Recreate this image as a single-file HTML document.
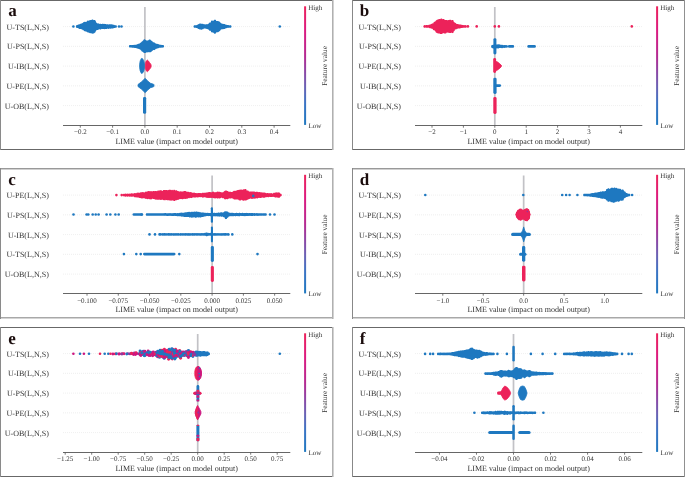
<!DOCTYPE html>
<html><head><meta charset="utf-8"><style>
html,body{margin:0;padding:0;background:#fff;}
svg{display:block;text-rendering:geometricPrecision;will-change:transform;}
</style></head><body>
<svg width="685" height="477" viewBox="0 0 685 477">
<defs><linearGradient id="cb" x1="0" y1="0" x2="0" y2="1"><stop offset="0" stop-color="#ec225a"/><stop offset="0.2" stop-color="#dc1a80"/><stop offset="0.42" stop-color="#b42a92"/><stop offset="0.55" stop-color="#8c46a5"/><stop offset="0.68" stop-color="#6a62b4"/><stop offset="0.82" stop-color="#3a74c4"/><stop offset="1" stop-color="#1e78c0"/></linearGradient></defs>
<rect width="685" height="477" fill="#fff"/>
<rect x="0" y="0" width="333" height="1" fill="#686868"/>
<rect x="0" y="149" width="333" height="1" fill="#686868"/>
<rect x="0" y="0" width="1" height="150" fill="#8a8a8a"/>
<rect x="332" y="0" width="1" height="150" fill="#b0b0b0"/>
<rect x="333" y="0" width="1" height="150" fill="#d2d2d2"/>
<text x="8.3" y="15.8" font-family="Liberation Serif" font-weight="bold" font-size="17" fill="#1a0c0c">a</text>
<text x="48.8" y="29.5" font-family="Liberation Serif" font-size="8" fill="#333" text-anchor="end">U-TS(L,N,S)</text>
<line x1="63" y1="26.6" x2="290" y2="26.6" stroke="#e2e2e2" stroke-width="0.7" stroke-dasharray="0.8,1.2"/>
<text x="48.8" y="49.25" font-family="Liberation Serif" font-size="8" fill="#333" text-anchor="end">U-PS(L,N,S)</text>
<line x1="63" y1="46.35" x2="290" y2="46.35" stroke="#e2e2e2" stroke-width="0.7" stroke-dasharray="0.8,1.2"/>
<text x="48.8" y="69.0" font-family="Liberation Serif" font-size="8" fill="#333" text-anchor="end">U-IB(L,N,S)</text>
<line x1="63" y1="66.1" x2="290" y2="66.1" stroke="#e2e2e2" stroke-width="0.7" stroke-dasharray="0.8,1.2"/>
<text x="48.8" y="88.75" font-family="Liberation Serif" font-size="8" fill="#333" text-anchor="end">U-PE(L,N,S)</text>
<line x1="63" y1="85.85" x2="290" y2="85.85" stroke="#e2e2e2" stroke-width="0.7" stroke-dasharray="0.8,1.2"/>
<text x="48.8" y="108.5" font-family="Liberation Serif" font-size="8" fill="#333" text-anchor="end">U-OB(L,N,S)</text>
<line x1="63" y1="105.6" x2="290" y2="105.6" stroke="#e2e2e2" stroke-width="0.7" stroke-dasharray="0.8,1.2"/>
<rect x="144.05" y="7" width="1.7" height="118.5" fill="#c2c2c6"/>
<line x1="63" y1="125.5" x2="290.3" y2="125.5" stroke="#666" stroke-width="1"/>
<line x1="80.3" y1="125.5" x2="80.3" y2="127.7" stroke="#555" stroke-width="0.8"/>
<text x="80.3" y="133.8" font-family="Liberation Serif" font-size="7" fill="#333" text-anchor="middle">−0.2</text>
<line x1="112.6" y1="125.5" x2="112.6" y2="127.7" stroke="#555" stroke-width="0.8"/>
<text x="112.6" y="133.8" font-family="Liberation Serif" font-size="7" fill="#333" text-anchor="middle">−0.1</text>
<line x1="144.9" y1="125.5" x2="144.9" y2="127.7" stroke="#555" stroke-width="0.8"/>
<text x="144.9" y="133.8" font-family="Liberation Serif" font-size="7" fill="#333" text-anchor="middle">0.0</text>
<line x1="177.2" y1="125.5" x2="177.2" y2="127.7" stroke="#555" stroke-width="0.8"/>
<text x="177.2" y="133.8" font-family="Liberation Serif" font-size="7" fill="#333" text-anchor="middle">0.1</text>
<line x1="209.5" y1="125.5" x2="209.5" y2="127.7" stroke="#555" stroke-width="0.8"/>
<text x="209.5" y="133.8" font-family="Liberation Serif" font-size="7" fill="#333" text-anchor="middle">0.2</text>
<line x1="241.8" y1="125.5" x2="241.8" y2="127.7" stroke="#555" stroke-width="0.8"/>
<text x="241.8" y="133.8" font-family="Liberation Serif" font-size="7" fill="#333" text-anchor="middle">0.3</text>
<line x1="274.1" y1="125.5" x2="274.1" y2="127.7" stroke="#555" stroke-width="0.8"/>
<text x="274.1" y="133.8" font-family="Liberation Serif" font-size="7" fill="#333" text-anchor="middle">0.4</text>
<text x="176.6" y="143.9" font-family="Liberation Serif" font-size="8" fill="#333" text-anchor="middle">LIME value (impact on model output)</text>
<rect x="304.1" y="6.3" width="2" height="118.6" fill="url(#cb)"/>
<text x="308.3" y="9.8" font-family="Liberation Serif" font-size="7" fill="#333">High</text>
<text x="308.4" y="127.9" font-family="Liberation Serif" font-size="7" fill="#333">Low</text>
<text transform="translate(327.3,65.9) rotate(-90)" font-family="Liberation Serif" font-size="7.35" fill="#333" text-anchor="middle">Feature value</text>
<circle cx="73.4" cy="26.5" r="1.3" fill="#1e78c0"/>
<circle cx="77.4" cy="26.5" r="1.3" fill="#1e78c0"/>
<circle cx="119" cy="26.5" r="1.3" fill="#1e78c0"/>
<circle cx="121.5" cy="26.5" r="1.3" fill="#1e78c0"/>
<circle cx="279.8" cy="26.5" r="1.3" fill="#1e78c0"/>
<polygon points="75.89,26.5 76.09,25.74 76.29,25.51 76.49,25.36 76.69,25.27 76.89,25.22 77.09,25.15 77.29,24.99 77.48,24.89 77.68,24.83 77.88,24.76 78.08,24.6 78.28,24.49 78.48,24.43 78.68,24.4 78.88,24.4 79.08,24.36 79.28,24.24 79.48,24.17 79.68,24.13 79.88,24.13 80.08,23.94 80.27,23.81 80.47,23.72 80.67,23.68 80.87,23.67 81.07,23.7 81.27,23.75 81.47,23.47 81.67,23.3 81.87,23.2 82.07,23.13 82.27,23.11 82.47,23.11 82.67,23.13 82.86,22.81 83.06,22.5 83.26,22.32 83.46,22.2 83.66,22.13 83.86,22.09 84.06,22.09 84.26,21.93 84.46,21.8 84.66,21.73 84.86,21.69 85.06,21.68 85.26,21.71 85.46,21.77 85.65,21.88 85.85,22.05 86.05,22.04 86.25,21.89 86.45,21.71 86.65,21.59 86.85,21.31 87.05,20.97 87.25,20.78 87.45,20.66 87.65,20.59 87.85,20.55 88.05,20.55 88.25,20.58 88.44,20.64 88.64,20.75 88.84,20.74 89.04,20.64 89.24,20.4 89.44,20.26 89.64,20.16 89.84,20.11 90.04,20.09 90.24,20.1 90.44,20.15 90.64,20.06 90.84,20.01 91.03,20 91.23,20.01 91.43,20 91.63,19.77 91.83,19.63 92.03,19.54 92.23,19.49 92.43,19.48 92.63,19.49 92.83,19.55 93.03,19.64 93.23,19.79 93.43,20.02 93.63,20.18 93.82,20.05 94.02,19.96 94.22,19.92 94.42,19.91 94.62,19.94 94.82,20 95.02,20.1 95.22,20.26 95.42,20.51 95.62,21.17 95.82,21.33 96.02,21.6 96.22,22.63 96.42,22.63 96.61,22.67 96.81,22.74 97.01,22.86 97.21,23.05 97.41,23.39 97.61,23.45 97.81,23.44 98.01,23.38 98.21,23.36 98.41,23.37 98.61,23.41 98.81,23.5 99.01,23.63 99.2,23.76 99.4,23.77 99.6,23.81 99.8,23.88 100,23.89 100.2,23.83 100.4,23.81 100.6,23.82 100.8,23.87 101,23.96 101.2,24.03 101.4,24 101.6,24 101.8,24.01 101.99,23.91 102.19,23.85 102.39,23.83 102.59,23.84 102.79,23.85 102.99,23.8 103.19,23.79 103.39,23.82 103.59,23.88 103.79,23.98 103.99,23.98 104.19,23.9 104.39,23.87 104.59,23.86 104.78,23.89 104.98,23.95 105.18,23.91 105.38,23.91 105.58,23.94 105.78,24.01 105.98,24.12 106.18,24.29 106.38,24.35 106.58,24.37 106.78,24.42 106.98,24.35 107.18,24.25 107.37,24.2 107.57,24.18 107.77,24.19 107.97,24.24 108.17,24.33 108.37,24.43 108.57,24.45 108.77,24.5 108.97,24.45 109.17,24.33 109.37,24.26 109.57,24.22 109.77,24.21 109.97,24.24 110.16,24.21 110.36,24.21 110.56,24.25 110.76,24.31 110.96,24.43 111.16,24.36 111.36,24.32 111.56,24.31 111.76,24.34 111.96,24.4 112.16,24.5 112.36,24.48 112.56,24.48 112.76,24.52 112.95,24.6 113.15,24.73 113.35,24.83 113.55,24.78 113.75,24.76 113.95,24.78 114.15,24.83 114.35,24.92 114.55,25.07 114.75,25.13 114.95,25.18 115.15,25.27 115.35,25.27 115.54,25.22 115.74,25.2 115.94,25.22 116.14,25.27 116.34,25.36 116.54,25.51 116.74,25.74 116.94,26.5 116.94,26.5 116.74,27.26 116.54,27.49 116.34,27.64 116.14,27.73 115.94,27.78 115.74,27.8 115.54,27.78 115.35,27.73 115.15,27.79 114.95,27.88 114.75,27.93 114.55,27.94 114.35,28 114.15,28.1 113.95,28.15 113.75,28.17 113.55,28.15 113.35,28.13 113.15,28.32 112.95,28.45 112.76,28.53 112.56,28.57 112.36,28.58 112.16,28.55 111.96,28.5 111.76,28.56 111.56,28.59 111.36,28.58 111.16,28.54 110.96,28.57 110.76,28.68 110.56,28.75 110.36,28.78 110.16,28.78 109.97,28.74 109.77,28.67 109.57,28.55 109.37,28.45 109.17,28.58 108.97,28.73 108.77,28.82 108.57,28.88 108.37,28.9 108.17,28.88 107.97,28.83 107.77,28.75 107.57,28.61 107.37,28.59 107.18,28.73 106.98,28.88 106.78,28.98 106.58,29.04 106.38,29.06 106.18,29.05 105.98,29 105.78,28.95 105.58,29.02 105.38,29.05 105.18,29.05 104.98,29.06 104.78,29.13 104.59,29.15 104.39,29.15 104.19,29.11 103.99,29.03 103.79,28.91 103.59,28.95 103.39,29.01 103.19,29.04 102.99,29.03 102.79,29.07 102.59,29.11 102.39,29.12 102.19,29.1 101.99,29.04 101.8,28.94 101.6,28.78 101.4,29.01 101.2,29.22 101,29.36 100.8,29.45 100.6,29.49 100.4,29.51 100.2,29.49 100,29.43 99.8,29.33 99.6,29.18 99.4,29.14 99.2,29.18 99.01,29.38 98.81,29.52 98.61,29.6 98.41,29.64 98.21,29.72 98.01,29.87 97.81,29.97 97.61,30.03 97.41,30.05 97.21,30.04 97.01,30.03 96.81,30.15 96.61,30.23 96.42,30.26 96.22,30.27 96.02,31.08 95.82,31.35 95.62,31.52 95.42,32.19 95.22,32.45 95.02,32.61 94.82,32.71 94.62,32.77 94.42,33.06 94.22,33.25 94.02,33.37 93.82,33.45 93.63,33.49 93.43,33.49 93.23,33.46 93.03,33.52 92.83,33.62 92.63,33.67 92.43,33.69 92.23,33.67 92.03,33.62 91.83,33.53 91.63,33.39 91.43,33.19 91.23,33.25 91.03,33.26 90.84,33.25 90.64,33.2 90.44,33.11 90.24,33.15 90.04,33.17 89.84,33.15 89.64,33.09 89.44,33 89.24,32.85 89.04,32.67 88.84,32.66 88.64,32.6 88.44,32.51 88.25,32.43 88.05,32.46 87.85,32.46 87.65,32.42 87.45,32.34 87.25,32.22 87.05,32.03 86.85,31.8 86.65,31.72 86.45,31.62 86.25,31.65 86.05,31.65 85.85,31.61 85.65,31.54 85.46,31.42 85.26,31.3 85.06,31.33 84.86,31.33 84.66,31.29 84.46,31.21 84.26,31.09 84.06,30.89 83.86,30.54 83.66,30.21 83.46,30.24 83.26,30.24 83.06,30.21 82.86,30.14 82.67,30.02 82.47,29.84 82.27,29.62 82.07,29.59 81.87,29.53 81.67,29.42 81.47,29.26 81.27,28.98 81.07,29.02 80.87,29.04 80.67,29.03 80.47,28.99 80.27,28.91 80.08,28.98 79.88,29.01 79.68,29 79.48,28.97 79.28,28.89 79.08,28.77 78.88,28.59 78.68,28.46 78.48,28.43 78.28,28.36 78.08,28.26 77.88,28.09 77.68,28.05 77.48,27.98 77.29,27.88 77.09,27.8 76.89,27.78 76.69,27.73 76.49,27.64 76.29,27.49 76.09,27.26 75.89,26.5" fill="#1e78c0"/>
<polygon points="193.51,26.4 193.71,25.74 193.91,25.51 194.11,25.36 194.31,25.27 194.51,25.22 194.71,25.2 194.91,25.22 195.11,25.23 195.31,25.2 195.5,25.2 195.7,25.24 195.9,25.31 196.1,25.21 196.3,25.15 196.5,25.12 196.7,25.12 196.9,25.16 197.1,24.93 197.29,24.77 197.49,24.66 197.69,24.6 197.89,24.58 198.09,24.39 198.29,24.21 198.49,24.09 198.69,24.02 198.89,23.99 199.09,23.98 199.28,23.74 199.48,23.6 199.68,23.5 199.88,23.45 200.08,23.43 200.28,23.45 200.48,23.5 200.68,23.58 200.88,23.72 201.08,23.73 201.27,23.7 201.47,23.7 201.67,23.73 201.87,23.8 202.07,23.92 202.27,23.84 202.47,23.78 202.67,23.76 202.87,23.77 203.06,23.81 203.26,23.89 203.46,24.02 203.66,24.23 203.86,24.35 204.06,24.28 204.26,24.25 204.46,24.25 204.66,24.28 204.86,24.36 205.05,24.47 205.25,24.57 205.45,24.38 205.65,24.25 205.85,24.17 206.05,24.13 206.25,24.12 206.45,24.15 206.65,24.21 206.85,24.3 207.04,24.26 207.24,24.25 207.44,24.27 207.64,24.19 207.84,24.03 208.04,23.93 208.24,23.86 208.44,23.84 208.64,23.85 208.83,23.3 209.03,22.97 209.23,22.79 209.43,22.67 209.63,22.59 209.83,22.56 210.03,22.55 210.23,22.58 210.43,22.54 210.63,22.39 210.82,22.29 211.02,21.1 211.22,20.84 211.42,20.68 211.62,20.58 211.82,20.52 212.02,20.5 212.22,20.51 212.42,20.55 212.62,20.63 212.81,20.77 213.01,20.95 213.21,20.84 213.41,20.78 213.61,20.75 213.81,20.32 214.01,20.02 214.21,19.84 214.41,19.73 214.6,19.66 214.8,19.63 215,19.63 215.2,19.66 215.4,19.73 215.6,19.85 215.8,20.03 216,20.34 216.2,20.95 216.4,20.98 216.59,20.92 216.79,20.9 216.99,20.9 217.19,20.94 217.39,21.02 217.59,21.04 217.79,21.01 217.99,21.01 218.19,21.04 218.38,21.11 218.58,21.22 218.78,21.4 218.98,21.62 219.18,21.59 219.38,21.6 219.58,21.64 219.78,21.71 219.98,21.84 220.18,22.03 220.37,22.38 220.57,22.92 220.77,22.93 220.97,22.99 221.17,23.08 221.37,23.22 221.57,23.45 221.77,23.86 221.97,23.81 222.17,23.8 222.36,23.82 222.56,23.77 222.76,23.75 222.96,23.76 223.16,23.81 223.36,23.89 223.56,24.03 223.76,24.07 223.96,24 224.15,23.97 224.35,23.97 224.55,24 224.75,24.07 224.95,24.18 225.15,24.36 225.35,24.6 225.55,24.62 225.75,24.68 225.95,24.76 226.14,24.72 226.34,24.72 226.54,24.76 226.74,24.83 226.94,24.94 227.14,25.12 227.34,25.11 227.54,25.02 227.74,24.97 227.94,24.96 228.13,24.98 228.33,25.03 228.53,25.12 228.73,25.2 228.93,25.23 229.13,25.29 229.33,25.39 229.53,25.5 229.73,25.36 229.92,25.27 230.12,25.22 230.32,25.2 230.52,25.22 230.72,25.27 230.92,25.36 231.12,25.51 231.32,25.74 231.52,26.4 231.52,26.6 231.32,27.26 231.12,27.49 230.92,27.64 230.72,27.73 230.52,27.78 230.32,27.8 230.12,27.78 229.92,27.73 229.73,27.64 229.53,27.52 229.33,27.68 229.13,27.78 228.93,27.84 228.73,27.87 228.53,27.86 228.33,27.86 228.13,27.91 227.94,27.93 227.74,27.91 227.54,27.86 227.34,27.77 227.14,27.8 226.94,27.98 226.74,28.1 226.54,28.17 226.34,28.2 226.14,28.2 225.95,28.27 225.75,28.36 225.55,28.42 225.35,28.43 225.15,28.64 224.95,28.81 224.75,28.93 224.55,29 224.35,29.03 224.15,29.03 223.96,29 223.76,28.93 223.56,29.04 223.36,29.17 223.16,29.26 222.96,29.31 222.76,29.32 222.56,29.3 222.36,29.24 222.17,29.15 221.97,29.14 221.77,29.09 221.57,29.26 221.37,29.49 221.17,29.63 220.97,29.72 220.77,29.78 220.57,29.79 220.37,30.48 220.18,30.83 219.98,31.02 219.78,31.15 219.58,31.22 219.38,31.26 219.18,31.27 218.98,31.49 218.78,31.79 218.58,31.97 218.38,32.08 218.19,32.15 217.99,32.18 217.79,32.18 217.59,32.15 217.39,32.17 217.19,32.25 216.99,32.29 216.79,32.3 216.59,32.36 216.4,32.44 216.2,32.47 216,33.06 215.8,33.37 215.6,33.55 215.4,33.67 215.2,33.74 215,33.77 214.8,33.77 214.6,33.74 214.41,33.67 214.21,33.56 214.01,33.38 213.81,33.08 213.61,32.79 213.41,32.76 213.21,32.69 213.01,32.58 212.81,32.41 212.62,32.3 212.42,32.38 212.22,32.42 212.02,32.43 211.82,32.41 211.62,32.35 211.42,32.25 211.22,32.09 211.02,31.84 210.82,30.89 210.63,30.79 210.43,30.69 210.23,30.76 210.03,30.79 209.83,30.78 209.63,30.75 209.43,30.67 209.23,30.55 209.03,30.37 208.83,30.04 208.64,29.51 208.44,29.52 208.24,29.49 208.04,29.43 207.84,29.33 207.64,29.17 207.44,29.1 207.24,29.12 207.04,29.11 206.85,29.07 206.65,28.98 206.45,28.85 206.25,28.8 206.05,28.79 205.85,28.75 205.65,28.67 205.45,28.54 205.25,28.43 205.05,28.47 204.86,28.49 204.66,28.46 204.46,28.45 204.26,28.45 204.06,28.42 203.86,28.44 203.66,28.83 203.46,29.04 203.26,29.17 203.06,29.25 202.87,29.29 202.67,29.3 202.47,29.28 202.27,29.29 202.07,29.47 201.87,29.58 201.67,29.66 201.47,29.69 201.27,29.69 201.08,29.66 200.88,29.59 200.68,29.48 200.48,29.54 200.28,29.59 200.08,29.6 199.88,29.58 199.68,29.53 199.48,29.44 199.28,29.29 199.09,29.12 198.89,29.12 198.69,29.08 198.49,29.01 198.29,28.89 198.09,28.71 197.89,28.47 197.69,28.45 197.49,28.38 197.29,28.28 197.1,28.12 196.9,27.99 196.7,28.03 196.5,28.03 196.3,28.01 196.1,27.94 195.9,27.84 195.7,27.76 195.5,27.8 195.31,27.8 195.11,27.76 194.91,27.78 194.71,27.8 194.51,27.78 194.31,27.73 194.11,27.64 193.91,27.49 193.71,27.26 193.51,26.6" fill="#1e78c0"/>
<polygon points="128.85,46.2 129.05,45.54 129.25,45.31 129.44,45.16 129.64,45.07 129.84,45.02 130.04,45 130.24,45.02 130.44,45.06 130.64,45.01 130.84,45 131.04,45.02 131.24,45.08 131.44,45.13 131.64,45.02 131.84,44.96 132.03,44.93 132.23,44.94 132.43,44.98 132.63,45.03 132.83,44.99 133.03,44.99 133.23,45.02 133.43,44.97 133.63,44.94 133.83,44.84 134.03,44.78 134.23,44.75 134.42,44.76 134.62,44.8 134.82,44.88 135.02,44.89 135.22,44.83 135.42,44.81 135.62,44.82 135.82,44.87 136.02,44.77 136.22,44.7 136.42,44.57 136.62,44.47 136.82,44.4 137.01,44.38 137.21,44.36 137.41,44.17 137.61,44.04 137.81,43.96 138.01,43.92 138.21,43.79 138.41,43.7 138.61,43.65 138.81,43.64 139.01,43.66 139.21,43.71 139.41,43.66 139.6,43.45 139.8,43.1 140,42.91 140.2,42.79 140.4,42.71 140.6,42.68 140.8,42.65 141,42.48 141.2,42.37 141.4,42.03 141.6,41.69 141.8,41.5 142,41.38 142.19,41.31 142.39,41.27 142.59,40.96 142.79,40.73 142.99,40.58 143.19,40.48 143.39,39.91 143.59,39.64 143.79,39.47 143.99,39.37 144.19,39.3 144.39,39.28 144.59,39.28 144.78,39.32 144.98,39.4 145.18,39.52 145.38,39.72 145.58,39.93 145.78,40.01 145.98,40.14 146.18,40.35 146.38,40.58 146.58,40.51 146.78,40.47 146.98,40.47 147.18,40.51 147.37,40.58 147.57,40.56 147.77,40.52 147.97,40.47 148.17,40.33 148.37,40.24 148.57,40.15 148.77,39.83 148.97,39.65 149.17,39.54 149.37,39.47 149.57,39.43 149.77,39.43 149.96,39.46 150.16,39.53 150.36,39.65 150.56,39.83 150.76,40.13 150.96,40.37 151.16,40.46 151.36,40.6 151.56,40.83 151.76,40.94 151.96,40.99 152.16,41.08 152.35,41.23 152.55,41.46 152.75,42.07 152.95,42.2 153.15,42.21 153.35,42.19 153.55,42.2 153.75,42.24 153.95,42.32 154.15,42.45 154.35,42.51 154.55,42.57 154.75,42.68 154.94,42.85 155.14,43.05 155.34,43.14 155.54,43.27 155.74,43.49 155.94,43.7 156.14,43.69 156.34,43.71 156.54,43.77 156.74,43.76 156.94,43.75 157.14,43.78 157.34,43.85 157.53,43.96 157.73,44.03 157.93,44.02 158.13,44.04 158.33,44.09 158.53,44.19 158.73,44.33 158.93,44.38 159.13,44.48 159.33,44.64 159.53,44.62 159.73,44.62 159.93,44.65 160.12,44.7 160.32,44.68 160.52,44.7 160.72,44.75 160.92,44.83 161.12,44.86 161.32,44.87 161.52,44.92 161.72,45.01 161.92,45.02 162.12,45 162.32,45.01 162.52,45.06 162.71,45.02 162.91,45 163.11,45.02 163.31,45.07 163.51,45.16 163.71,45.31 163.91,45.54 164.11,46.2 164.11,46.4 163.91,47.06 163.71,47.29 163.51,47.44 163.31,47.53 163.11,47.58 162.91,47.6 162.71,47.58 162.52,47.58 162.32,47.63 162.12,47.64 161.92,47.62 161.72,47.61 161.52,47.7 161.32,47.75 161.12,47.77 160.92,47.75 160.72,47.8 160.52,47.85 160.32,47.86 160.12,47.84 159.93,47.79 159.73,47.81 159.53,47.81 159.33,47.78 159.13,47.87 158.93,47.97 158.73,48.02 158.53,48.14 158.33,48.24 158.13,48.29 157.93,48.31 157.73,48.3 157.53,48.43 157.34,48.54 157.14,48.61 156.94,48.64 156.74,48.66 156.54,48.76 156.34,48.82 156.14,48.85 155.94,48.84 155.74,49.06 155.54,49.28 155.34,49.42 155.14,49.5 154.94,49.76 154.75,49.93 154.55,50.03 154.35,50.1 154.15,50.13 153.95,50.12 153.75,50.09 153.55,50.08 153.35,50.08 153.15,50.13 152.95,50.33 152.75,50.46 152.55,50.64 152.35,50.88 152.16,51.02 151.96,51.12 151.76,51.17 151.56,51.65 151.36,51.87 151.16,52.01 150.96,52.1 150.76,52.15 150.56,52.17 150.36,52.15 150.16,52.27 149.96,52.34 149.77,52.37 149.57,52.37 149.37,52.34 149.17,52.27 148.97,52.15 148.77,52.04 148.57,52.2 148.37,52.31 148.17,52.37 147.97,52.39 147.77,52.39 147.57,52.35 147.37,52.3 147.18,52.37 146.98,52.4 146.78,52.4 146.58,52.37 146.38,52.3 146.18,52.49 145.98,52.69 145.78,52.82 145.58,52.9 145.38,52.95 145.18,52.96 144.98,52.93 144.78,53.01 144.59,53.05 144.39,53.05 144.19,53.03 143.99,52.96 143.79,52.86 143.59,52.69 143.39,52.42 143.19,52.19 142.99,52.09 142.79,51.94 142.59,51.71 142.39,51.63 142.19,51.6 142,51.52 141.8,51.4 141.6,51.21 141.4,50.87 141.2,50.6 141,50.49 140.8,50.31 140.6,50.03 140.4,49.64 140.2,49.57 140,49.45 139.8,49.34 139.6,49.31 139.41,49.25 139.21,49.15 139.01,48.98 138.81,48.9 138.61,48.89 138.41,48.84 138.21,48.75 138.01,48.69 137.81,48.65 137.61,48.57 137.41,48.45 137.21,48.43 137.01,48.44 136.82,48.41 136.62,48.35 136.42,48.24 136.22,48.08 136.02,48.01 135.82,47.89 135.62,47.89 135.42,47.91 135.22,47.88 135.02,47.83 134.82,47.81 134.62,47.89 134.42,47.93 134.23,47.94 134.03,47.91 133.83,47.85 133.63,47.75 133.43,47.73 133.23,47.72 133.03,47.76 132.83,47.75 132.63,47.72 132.43,47.64 132.23,47.66 132.03,47.67 131.84,47.64 131.64,47.58 131.44,47.47 131.24,47.52 131.04,47.58 130.84,47.6 130.64,47.59 130.44,47.54 130.24,47.58 130.04,47.6 129.84,47.58 129.64,47.53 129.44,47.44 129.25,47.29 129.05,47.06 128.85,46.4" fill="#1e78c0"/>
<polygon points="139.6,64.4 140.2,60.9 141.4,58.4 142.6,58.7 143.8,60.9 144.5,63.9 144.5,67.9 143.8,70.9 142.6,73.1 141.4,73.4 140.2,70.9 139.6,67.4" fill="#1e78c0" stroke="#1e78c0" stroke-width="0.8" stroke-linejoin="round"/>
<polygon points="145.4,63.4 146.2,61.1 147.4,60.1 148.5,61.1 149.5,62.5 150.5,63.7 151.1,64.9 151.1,66.9 150.5,68.1 149.5,69.3 148.5,70.7 147.4,71.7 146.2,70.7 145.4,68.4" fill="#ec225a" stroke="#ec225a" stroke-width="0.8" stroke-linejoin="round"/>
<polygon points="138,84.5 141.6,81.7 145.2,78.3 148,81.3 150.5,83.3 153.5,84.2 154,84.7 154,86.3 153.5,86.8 150.5,87.7 148,89.7 145.2,92.7 141.6,89.3 138,86.5" fill="#1e78c0" stroke="#1e78c0" stroke-width="0.8" stroke-linejoin="round"/>
<rect x="143" y="96.9" width="3.2" height="16.9" rx="1.4" fill="#1e78c0"/>
<rect x="352" y="0" width="333" height="1" fill="#686868"/>
<rect x="352" y="149" width="333" height="1" fill="#686868"/>
<rect x="352" y="0" width="1" height="150" fill="#888"/>
<rect x="684" y="0" width="1" height="150" fill="#909090"/>
<text x="359.7" y="15.8" font-family="Liberation Serif" font-weight="bold" font-size="17" fill="#1a0c0c">b</text>
<text x="400.8" y="29.5" font-family="Liberation Serif" font-size="8" fill="#333" text-anchor="end">U-TS(L,N,S)</text>
<line x1="415" y1="26.6" x2="642" y2="26.6" stroke="#e2e2e2" stroke-width="0.7" stroke-dasharray="0.8,1.2"/>
<text x="400.8" y="49.25" font-family="Liberation Serif" font-size="8" fill="#333" text-anchor="end">U-PS(L,N,S)</text>
<line x1="415" y1="46.35" x2="642" y2="46.35" stroke="#e2e2e2" stroke-width="0.7" stroke-dasharray="0.8,1.2"/>
<text x="400.8" y="69.0" font-family="Liberation Serif" font-size="8" fill="#333" text-anchor="end">U-PE(L,N,S)</text>
<line x1="415" y1="66.1" x2="642" y2="66.1" stroke="#e2e2e2" stroke-width="0.7" stroke-dasharray="0.8,1.2"/>
<text x="400.8" y="88.75" font-family="Liberation Serif" font-size="8" fill="#333" text-anchor="end">U-IB(L,N,S)</text>
<line x1="415" y1="85.85" x2="642" y2="85.85" stroke="#e2e2e2" stroke-width="0.7" stroke-dasharray="0.8,1.2"/>
<text x="400.8" y="108.5" font-family="Liberation Serif" font-size="8" fill="#333" text-anchor="end">U-OB(L,N,S)</text>
<line x1="415" y1="105.6" x2="642" y2="105.6" stroke="#e2e2e2" stroke-width="0.7" stroke-dasharray="0.8,1.2"/>
<rect x="493.95" y="7" width="1.7" height="118.5" fill="#c2c2c6"/>
<line x1="415" y1="125.5" x2="642.3" y2="125.5" stroke="#666" stroke-width="1"/>
<line x1="432" y1="125.5" x2="432" y2="127.7" stroke="#555" stroke-width="0.8"/>
<text x="432" y="133.8" font-family="Liberation Serif" font-size="7" fill="#333" text-anchor="middle">−2</text>
<line x1="463.4" y1="125.5" x2="463.4" y2="127.7" stroke="#555" stroke-width="0.8"/>
<text x="463.4" y="133.8" font-family="Liberation Serif" font-size="7" fill="#333" text-anchor="middle">−1</text>
<line x1="494.8" y1="125.5" x2="494.8" y2="127.7" stroke="#555" stroke-width="0.8"/>
<text x="494.8" y="133.8" font-family="Liberation Serif" font-size="7" fill="#333" text-anchor="middle">0</text>
<line x1="526.2" y1="125.5" x2="526.2" y2="127.7" stroke="#555" stroke-width="0.8"/>
<text x="526.2" y="133.8" font-family="Liberation Serif" font-size="7" fill="#333" text-anchor="middle">1</text>
<line x1="557.6" y1="125.5" x2="557.6" y2="127.7" stroke="#555" stroke-width="0.8"/>
<text x="557.6" y="133.8" font-family="Liberation Serif" font-size="7" fill="#333" text-anchor="middle">2</text>
<line x1="589" y1="125.5" x2="589" y2="127.7" stroke="#555" stroke-width="0.8"/>
<text x="589" y="133.8" font-family="Liberation Serif" font-size="7" fill="#333" text-anchor="middle">3</text>
<line x1="620.4" y1="125.5" x2="620.4" y2="127.7" stroke="#555" stroke-width="0.8"/>
<text x="620.4" y="133.8" font-family="Liberation Serif" font-size="7" fill="#333" text-anchor="middle">4</text>
<text x="528.6" y="143.9" font-family="Liberation Serif" font-size="8" fill="#333" text-anchor="middle">LIME value (impact on model output)</text>
<rect x="656.1" y="6.3" width="2" height="118.6" fill="url(#cb)"/>
<text x="660.3" y="9.8" font-family="Liberation Serif" font-size="7" fill="#333">High</text>
<text x="660.4" y="127.9" font-family="Liberation Serif" font-size="7" fill="#333">Low</text>
<text transform="translate(679.3,65.9) rotate(-90)" font-family="Liberation Serif" font-size="7.35" fill="#333" text-anchor="middle">Feature value</text>
<polygon points="423.34,26.3 423.54,25.64 423.74,25.41 423.94,25.26 424.14,25.17 424.34,25.12 424.54,25.1 424.74,25.12 424.94,25.17 425.14,25.26 425.34,25.35 425.54,25.23 425.74,25.15 425.94,25.11 426.14,25.08 426.34,25.04 426.54,25.02 426.74,25.04 426.94,25.1 427.14,25.18 427.34,25.12 427.53,25.1 427.73,25.11 427.93,25.16 428.13,25.14 428.33,24.99 428.53,24.89 428.73,24.83 428.93,24.81 429.13,24.82 429.33,24.75 429.53,24.64 429.73,24.57 429.93,24.54 430.13,24.5 430.33,24.45 430.53,24.44 430.73,24.33 430.93,24.11 431.13,23.98 431.33,23.89 431.53,23.85 431.73,23.83 431.93,23.74 432.13,23.56 432.33,23.45 432.53,23.38 432.73,23.34 432.93,23.35 433.13,23.38 433.33,23.26 433.53,22.59 433.73,22.15 433.93,21.94 434.13,21.81 434.33,21.72 434.53,21.67 434.73,21.66 434.93,21.66 435.13,21.39 435.33,21.23 435.53,21.13 435.73,20.74 435.93,20.51 436.13,20.37 436.33,20.28 436.53,20.18 436.73,19.96 436.93,19.82 437.13,19.74 437.33,19.69 437.53,19.68 437.73,19.5 437.93,19.33 438.13,19.23 438.33,19.17 438.53,19.14 438.73,19.15 438.93,19.17 439.13,19.07 439.32,19.01 439.52,18.98 439.72,18.99 439.92,19.04 440.12,19.12 440.32,19.14 440.52,18.87 440.72,18.7 440.92,18.6 441.12,18.53 441.32,18.51 441.52,18.51 441.72,18.55 441.92,18.63 442.12,18.76 442.32,18.96 442.52,19.32 442.72,19.2 442.92,19.09 443.12,19.02 443.32,18.98 443.52,18.98 443.72,19.01 443.92,19.08 444.12,19.2 444.32,19.38 444.52,19.69 444.72,19.83 444.92,19.85 445.12,19.92 445.32,20.03 445.52,20.05 445.72,20.05 445.92,20.07 446.12,20.03 446.32,19.97 446.52,19.95 446.72,19.96 446.92,20.01 447.12,20.1 447.32,20.23 447.52,20.38 447.72,20.22 447.92,20.12 448.12,20.06 448.32,20.03 448.52,20.04 448.72,20.09 448.92,20.15 449.12,19.99 449.32,19.89 449.52,19.83 449.72,19.8 449.92,19.81 450.12,19.84 450.32,19.81 450.52,19.82 450.72,19.87 450.91,19.95 451.11,20.08 451.31,20.29 451.51,20.46 451.71,20.25 451.91,20.12 452.11,20.04 452.31,20 452.51,19.99 452.71,20.01 452.91,20.07 453.11,20.17 453.31,20.33 453.51,20.59 453.71,21.76 453.91,21.8 454.11,21.89 454.31,22.02 454.51,22.22 454.71,22.63 454.91,22.71 455.11,22.73 455.31,22.8 455.51,22.9 455.71,23.06 455.91,23.32 456.11,23.58 456.31,23.64 456.51,23.75 456.71,23.89 456.91,23.99 457.11,24.12 457.31,24.06 457.51,24.03 457.71,24.04 457.91,24.08 458.11,24.16 458.31,24.15 458.51,24.18 458.71,24.24 458.91,24.35 459.11,24.43 459.31,24.38 459.51,24.37 459.71,24.39 459.91,24.44 460.11,24.52 460.31,24.48 460.51,24.48 460.71,24.51 460.91,24.58 461.11,24.69 461.31,24.67 461.51,24.64 461.71,24.65 461.91,24.7 462.11,24.78 462.31,24.91 462.5,24.96 462.7,24.95 462.9,24.98 463.1,25.04 463.3,25.1 463.5,25.1 463.7,25.14 463.9,25.21 464.1,25.23 464.3,25.15 464.5,25.11 464.7,25.1 464.9,25.13 465.1,25.19 465.3,25.17 465.5,25.12 465.7,25.1 465.9,25.12 466.1,25.17 466.3,25.26 466.5,25.41 466.7,25.64 466.9,26.3 466.9,26.5 466.7,27.16 466.5,27.39 466.3,27.54 466.1,27.63 465.9,27.68 465.7,27.7 465.5,27.68 465.3,27.63 465.1,27.65 464.9,27.71 464.7,27.74 464.5,27.74 464.3,27.69 464.1,27.62 463.9,27.74 463.7,27.81 463.5,27.84 463.3,27.84 463.1,27.8 462.9,27.86 462.7,27.89 462.5,27.88 462.31,27.84 462.11,27.9 461.91,27.98 461.71,28.02 461.51,28.03 461.31,28.01 461.11,28.11 460.91,28.22 460.71,28.29 460.51,28.32 460.31,28.32 460.11,28.31 459.91,28.4 459.71,28.46 459.51,28.48 459.31,28.47 459.11,28.42 458.91,28.33 458.71,28.44 458.51,28.5 458.31,28.52 458.11,28.59 457.91,28.67 457.71,28.72 457.51,28.72 457.31,28.7 457.11,28.64 456.91,28.79 456.71,29.06 456.51,29.23 456.31,29.33 456.11,29.4 455.91,29.42 455.71,29.42 455.51,29.37 455.31,29.39 455.11,29.45 454.91,29.48 454.71,30.51 454.51,30.92 454.31,31.12 454.11,31.26 453.91,31.34 453.71,31.38 453.51,32.53 453.31,32.78 453.11,32.94 452.91,33.05 452.71,33.1 452.51,33.13 452.31,33.12 452.11,33.08 451.91,32.99 451.71,32.86 451.51,32.65 451.31,32.6 451.11,32.81 450.91,32.94 450.72,33.02 450.52,33.06 450.32,33.07 450.12,33.05 449.92,33.03 449.72,33.04 449.52,33.01 449.32,32.95 449.12,32.85 448.92,32.7 448.72,32.78 448.52,32.83 448.32,32.84 448.12,32.81 447.92,32.75 447.72,32.65 447.52,32.56 447.32,32.51 447.12,32.42 446.92,32.28 446.72,32.81 446.52,33.09 446.32,33.26 446.12,33.36 445.92,33.43 445.72,33.46 445.52,33.45 445.32,33.41 445.12,33.46 444.92,33.53 444.72,33.56 444.52,33.55 444.32,33.51 444.12,33.44 443.92,33.31 443.72,33.12 443.52,32.96 443.32,33.22 443.12,33.38 442.92,33.48 442.72,33.54 442.52,33.56 442.32,33.55 442.12,33.75 441.92,33.88 441.72,33.96 441.52,34 441.32,34 441.12,33.98 440.92,34.04 440.72,34.08 440.52,34.08 440.32,34.05 440.12,33.99 439.92,33.88 439.72,33.71 439.52,33.43 439.32,33.29 439.13,33.42 438.93,33.5 438.73,33.54 438.53,33.55 438.33,33.52 438.13,33.46 437.93,33.35 437.73,33.21 437.53,33.23 437.33,33.22 437.13,33.17 436.93,33.09 436.73,32.95 436.53,32.73 436.33,32.64 436.13,32.55 435.93,32.4 435.73,32.17 435.53,31.43 435.33,31.33 435.13,31.17 434.93,30.9 434.73,30.39 434.53,30.38 434.33,30.33 434.13,30.25 433.93,30.24 433.73,30.22 433.53,30.17 433.33,30.07 433.13,29.92 432.93,29.68 432.73,28.91 432.53,28.88 432.33,28.81 432.13,28.69 431.93,28.66 431.73,28.68 431.53,28.67 431.33,28.62 431.13,28.54 430.93,28.4 430.73,28.27 430.53,28.29 430.33,28.28 430.13,28.28 429.93,28.29 429.73,28.26 429.53,28.19 429.33,28.08 429.13,27.9 428.93,27.79 428.73,27.77 428.53,27.71 428.33,27.61 428.13,27.69 427.93,27.78 427.73,27.82 427.53,27.84 427.34,27.82 427.14,27.76 426.94,27.67 426.74,27.73 426.54,27.75 426.34,27.74 426.14,27.7 425.94,27.69 425.74,27.65 425.54,27.57 425.34,27.45 425.14,27.54 424.94,27.63 424.74,27.68 424.54,27.7 424.34,27.68 424.14,27.63 423.94,27.54 423.74,27.39 423.54,27.16 423.34,26.5" fill="#ec225a"/>
<circle cx="467.9" cy="26.4" r="1.3" fill="#ec225a"/>
<circle cx="476.7" cy="26.4" r="1.3" fill="#ec225a"/>
<circle cx="494.8" cy="26.4" r="1.3" fill="#ec225a"/>
<circle cx="498.9" cy="26.4" r="1.3" fill="#ec225a"/>
<circle cx="631.8" cy="26.4" r="1.3" fill="#ec225a"/>
<rect x="493.4" y="38.2" width="3" height="16.3" rx="1.4" fill="#1e78c0"/>
<polygon points="491.17,46.11 491.37,45.45 491.56,45.22 491.76,45.07 491.96,44.98 492.16,44.92 492.35,44.91 492.55,44.92 492.75,44.87 492.95,44.77 493.15,44.7 493.34,44.67 493.54,44.68 493.74,44.72 493.94,44.62 494.13,44.45 494.33,44.34 494.53,44.27 494.73,44.24 494.92,44.24 495.12,44.27 495.32,44.34 495.52,44.46 495.72,44.58 495.91,44.54 496.11,44.53 496.31,44.55 496.51,44.53 496.7,44.49 496.9,44.49 497.1,44.53 497.3,44.53 497.49,44.39 497.69,44.29 497.89,44.24 498.09,44.22 498.29,44.24 498.48,44.29 498.68,44.37 498.88,44.5 499.08,44.42 499.27,44.37 499.47,44.36 499.67,44.38 499.87,44.44 500.06,44.54 500.26,44.69 500.46,44.78 500.66,44.75 500.86,44.76 501.05,44.79 501.25,44.87 501.45,44.91 501.65,44.82 501.84,44.78 502.04,44.77 502.24,44.79 502.44,44.84 502.63,44.94 502.83,45.05 503.03,45.04 503.23,45.05 503.43,45.11 503.62,45.2 503.82,45.22 504.02,45.14 504.22,45.1 504.41,45.09 504.61,45.11 504.81,45.1 505.01,45.05 505.2,45.02 505.4,45.04 505.6,45.08 505.8,45.17 506,45.3 506.19,45.25 506.39,45.16 506.59,45.11 506.79,45.1 506.98,45.12 507.18,45.17 507.38,45.26 507.58,45.41 507.77,45.64 507.97,46.3 507.97,46.5 507.77,47.16 507.58,47.39 507.38,47.54 507.18,47.63 506.98,47.68 506.79,47.7 506.59,47.69 506.39,47.64 506.19,47.55 506,47.55 505.8,47.68 505.6,47.76 505.4,47.81 505.2,47.82 505.01,47.8 504.81,47.87 504.61,47.93 504.41,47.95 504.22,47.94 504.02,47.9 503.82,47.82 503.62,47.75 503.43,47.84 503.23,47.89 503.03,47.91 502.83,47.9 502.63,48.05 502.44,48.14 502.24,48.2 502.04,48.22 501.84,48.21 501.65,48.16 501.45,48.08 501.25,47.95 501.05,48.01 500.86,48.05 500.66,48.05 500.46,48.02 500.26,47.96 500.06,47.85 499.87,47.91 499.67,47.97 499.47,47.99 499.27,47.98 499.08,48.05 498.88,48.26 498.68,48.4 498.48,48.49 498.29,48.53 498.09,48.55 497.89,48.53 497.69,48.48 497.49,48.38 497.3,48.24 497.1,48.27 496.9,48.3 496.7,48.32 496.51,48.42 496.31,48.47 496.11,48.5 495.91,48.48 495.72,48.44 495.52,48.35 495.32,48.22 495.12,48.23 494.92,48.27 494.73,48.27 494.53,48.24 494.33,48.17 494.13,48.34 493.94,48.46 493.74,48.54 493.54,48.57 493.34,48.58 493.15,48.55 492.95,48.48 492.75,48.38 492.55,48.21 492.35,48.1 492.16,48.08 491.96,48.03 491.76,47.94 491.56,47.79 491.37,47.56 491.17,46.9" fill="#1e78c0"/>
<rect x="507.9" y="45.1" width="6.3" height="2.6" rx="1.3" fill="#1e78c0"/>
<rect x="527.3" y="45.1" width="8.6" height="2.6" rx="1.3" fill="#1e78c0"/>
<rect x="493.2" y="58.1" width="2.9" height="14.8" rx="1.4" fill="#ec225a"/>
<polygon points="495.5,61.4 496.8,61.6 498.3,62.6 499.8,63.8 501.3,65.3 501.3,66.7 499.8,68.2 498.3,69.4 496.8,70.4 495.5,70.6" fill="#ec225a" stroke="#ec225a" stroke-width="0.8" stroke-linejoin="round"/>
<rect x="493.3" y="77.7" width="3.3" height="16.3" rx="1.4" fill="#1e78c0"/>
<rect x="494" y="84.2" width="7.1" height="2.8" rx="1.4" fill="#1e78c0"/>
<rect x="493.3" y="97.1" width="3.3" height="16.9" rx="1.4" fill="#ec225a"/>
<rect x="0" y="168" width="333" height="1" fill="#999"/>
<rect x="0" y="169" width="333" height="1" fill="#d0d0d0"/>
<rect x="0" y="317" width="333" height="1" fill="#a8a8a8"/>
<rect x="0" y="318" width="333" height="1" fill="#d4d4d4"/>
<rect x="0" y="168" width="1" height="151" fill="#8a8a8a"/>
<rect x="332" y="168" width="1" height="151" fill="#b0b0b0"/>
<rect x="333" y="168" width="1" height="151" fill="#d2d2d2"/>
<text x="8.3" y="185.20000000000002" font-family="Liberation Serif" font-weight="bold" font-size="17" fill="#1a0c0c">c</text>
<text x="48.8" y="198.0" font-family="Liberation Serif" font-size="8" fill="#333" text-anchor="end">U-PE(L,N,S)</text>
<line x1="63" y1="195.1" x2="290" y2="195.1" stroke="#e2e2e2" stroke-width="0.7" stroke-dasharray="0.8,1.2"/>
<text x="48.8" y="217.75" font-family="Liberation Serif" font-size="8" fill="#333" text-anchor="end">U-PS(L,N,S)</text>
<line x1="63" y1="214.85" x2="290" y2="214.85" stroke="#e2e2e2" stroke-width="0.7" stroke-dasharray="0.8,1.2"/>
<text x="48.8" y="237.5" font-family="Liberation Serif" font-size="8" fill="#333" text-anchor="end">U-IB(L,N,S)</text>
<line x1="63" y1="234.6" x2="290" y2="234.6" stroke="#e2e2e2" stroke-width="0.7" stroke-dasharray="0.8,1.2"/>
<text x="48.8" y="257.25" font-family="Liberation Serif" font-size="8" fill="#333" text-anchor="end">U-TS(L,N,S)</text>
<line x1="63" y1="254.35" x2="290" y2="254.35" stroke="#e2e2e2" stroke-width="0.7" stroke-dasharray="0.8,1.2"/>
<text x="48.8" y="277.0" font-family="Liberation Serif" font-size="8" fill="#333" text-anchor="end">U-OB(L,N,S)</text>
<line x1="63" y1="274.1" x2="290" y2="274.1" stroke="#e2e2e2" stroke-width="0.7" stroke-dasharray="0.8,1.2"/>
<rect x="211.25" y="175.5" width="1.7" height="118.0" fill="#c2c2c6"/>
<line x1="63" y1="293.5" x2="290.3" y2="293.5" stroke="#666" stroke-width="1"/>
<line x1="87" y1="293.5" x2="87" y2="295.7" stroke="#555" stroke-width="0.8"/>
<text x="87" y="302.8" font-family="Liberation Serif" font-size="7" fill="#333" text-anchor="middle">−0.100</text>
<line x1="118.27" y1="293.5" x2="118.27" y2="295.7" stroke="#555" stroke-width="0.8"/>
<text x="118.27" y="302.8" font-family="Liberation Serif" font-size="7" fill="#333" text-anchor="middle">−0.075</text>
<line x1="149.55" y1="293.5" x2="149.55" y2="295.7" stroke="#555" stroke-width="0.8"/>
<text x="149.55" y="302.8" font-family="Liberation Serif" font-size="7" fill="#333" text-anchor="middle">−0.050</text>
<line x1="180.82" y1="293.5" x2="180.82" y2="295.7" stroke="#555" stroke-width="0.8"/>
<text x="180.82" y="302.8" font-family="Liberation Serif" font-size="7" fill="#333" text-anchor="middle">−0.025</text>
<line x1="212.1" y1="293.5" x2="212.1" y2="295.7" stroke="#555" stroke-width="0.8"/>
<text x="212.1" y="302.8" font-family="Liberation Serif" font-size="7" fill="#333" text-anchor="middle">0.000</text>
<line x1="243.38" y1="293.5" x2="243.38" y2="295.7" stroke="#555" stroke-width="0.8"/>
<text x="243.38" y="302.8" font-family="Liberation Serif" font-size="7" fill="#333" text-anchor="middle">0.025</text>
<line x1="274.65" y1="293.5" x2="274.65" y2="295.7" stroke="#555" stroke-width="0.8"/>
<text x="274.65" y="302.8" font-family="Liberation Serif" font-size="7" fill="#333" text-anchor="middle">0.050</text>
<text x="176.6" y="312.4" font-family="Liberation Serif" font-size="8" fill="#333" text-anchor="middle">LIME value (impact on model output)</text>
<rect x="304.1" y="174.8" width="2" height="118.6" fill="url(#cb)"/>
<text x="308.3" y="178.3" font-family="Liberation Serif" font-size="7" fill="#333">High</text>
<text x="308.4" y="296.4" font-family="Liberation Serif" font-size="7" fill="#333">Low</text>
<text transform="translate(327.3,234.4) rotate(-90)" font-family="Liberation Serif" font-size="7.35" fill="#333" text-anchor="middle">Feature value</text>
<circle cx="116.4" cy="195.1" r="1.3" fill="#ec225a"/>
<circle cx="121.7" cy="195.1" r="1.3" fill="#ec225a"/>
<circle cx="125.5" cy="195.1" r="1.3" fill="#ec225a"/>
<circle cx="127.5" cy="195.1" r="1.3" fill="#ec225a"/>
<circle cx="129.5" cy="195.1" r="1.3" fill="#ec225a"/>
<circle cx="131.5" cy="195.1" r="1.3" fill="#ec225a"/>
<polygon points="122.73,195.1 122.93,194.34 123.13,194.11 123.33,193.96 123.53,193.87 123.73,193.82 123.93,193.8 124.13,193.82 124.33,193.87 124.53,193.96 124.73,193.88 124.93,193.82 125.13,193.8 125.33,193.81 125.53,193.82 125.73,193.8 125.93,193.81 126.13,193.86 126.33,193.95 126.52,193.89 126.72,193.79 126.92,193.74 127.12,193.72 127.32,193.73 127.52,193.73 127.72,193.71 127.92,193.73 128.12,193.79 128.32,193.88 128.52,193.79 128.72,193.7 128.92,193.65 129.12,193.64 129.32,193.66 129.52,193.71 129.72,193.78 129.92,193.77 130.12,193.79 130.32,193.78 130.52,193.67 130.72,193.61 130.92,193.58 131.12,193.56 131.32,193.44 131.52,193.37 131.72,193.33 131.92,193.33 132.12,193.36 132.32,193.43 132.52,193.54 132.72,193.54 132.92,193.56 133.12,193.61 133.32,193.67 133.52,193.45 133.72,193.31 133.92,193.22 134.12,193.17 134.32,193.14 134.52,193.06 134.72,193.02 134.91,193.02 135.11,193.05 135.31,193.11 135.51,193.22 135.71,193.23 135.91,193.18 136.11,193.17 136.31,193.16 136.51,192.94 136.71,192.8 136.91,192.71 137.11,192.66 137.31,192.64 137.51,192.65 137.71,192.57 137.91,192.53 138.11,192.53 138.31,192.56 138.51,192.63 138.71,192.74 138.91,192.84 139.11,192.87 139.31,192.84 139.51,192.78 139.71,192.76 139.91,192.77 140.11,192.56 140.31,192.38 140.51,192.27 140.71,192.2 140.91,192.16 141.11,192.17 141.31,192.2 141.51,192.23 141.71,192.17 141.91,192.15 142.11,192.16 142.31,192.13 142.51,192.07 142.71,192.05 142.91,192.06 143.11,192.1 143.3,192.19 143.5,192.28 143.7,192.25 143.9,192.25 144.1,192.28 144.3,192.35 144.5,192.47 144.7,192.4 144.9,192.23 145.1,191.94 145.3,191.77 145.5,191.66 145.7,191.59 145.9,191.56 146.1,191.57 146.3,191.6 146.5,191.68 146.7,191.8 146.9,191.67 147.1,191.49 147.3,191.38 147.5,191.32 147.7,191.29 147.9,191.29 148.1,191.22 148.3,191.07 148.5,190.97 148.7,190.92 148.9,190.9 149.1,190.91 149.3,190.96 149.5,191.04 149.7,191.18 149.9,191.4 150.1,191.41 150.3,191.24 150.5,191.13 150.7,191.06 150.9,191.03 151.1,191.03 151.3,191.07 151.49,191.14 151.69,191.26 151.89,191.45 152.09,191.49 152.29,191.48 152.49,191.37 152.69,191.22 152.89,191.12 153.09,191.06 153.29,191.01 153.49,190.94 153.69,190.91 153.89,190.91 154.09,190.94 154.29,191.01 154.49,191.13 154.69,191.17 154.89,191.09 155.09,191.06 155.29,191.01 155.49,190.94 155.69,190.9 155.89,190.9 156.09,190.94 156.29,191.01 156.49,191.12 156.69,191.26 156.89,191.21 157.09,191.2 157.29,190.92 157.49,190.73 157.69,190.61 157.89,190.53 158.09,190.5 158.29,190.49 158.49,190.52 158.69,190.59 158.89,190.7 159.09,190.75 159.29,190.56 159.49,190.44 159.69,190.36 159.88,190.32 160.08,190.32 160.28,190.32 160.48,190.23 160.68,190.17 160.88,190.15 161.08,190.17 161.28,190.22 161.48,190.31 161.68,190.45 161.88,190.67 162.08,190.91 162.28,190.95 162.48,190.98 162.68,190.79 162.88,190.4 163.08,190.19 163.28,190.06 163.48,189.98 163.68,189.94 163.88,189.93 164.08,189.96 164.28,190.02 164.48,190.1 164.68,190.04 164.88,190.02 165.08,190.03 165.28,190.07 165.48,190.15 165.68,190.06 165.88,189.96 166.08,189.9 166.28,189.88 166.48,189.89 166.68,189.93 166.88,190.02 167.08,190.15 167.28,190.34 167.48,190.22 167.68,190.15 167.88,190.12 168.08,190.11 168.27,190.14 168.47,190.11 168.67,189.94 168.87,189.82 169.07,189.75 169.27,189.72 169.47,189.72 169.67,189.76 169.87,189.78 170.07,189.75 170.27,189.75 170.47,189.79 170.67,189.86 170.87,189.98 171.07,190.16 171.27,190.13 171.47,189.99 171.67,189.9 171.87,189.85 172.07,189.83 172.27,189.85 172.47,189.91 172.67,190 172.87,190.15 173.07,190.38 173.27,190.17 173.47,189.97 173.67,189.84 173.87,189.76 174.07,189.71 174.27,189.7 174.47,189.73 174.67,189.79 174.87,189.89 175.07,190.05 175.27,190.31 175.47,190.65 175.67,190.47 175.87,190.36 176.07,190.29 176.27,190.26 176.46,190.26 176.66,190.29 176.86,190.37 177.06,190.49 177.26,190.67 177.46,190.99 177.66,190.97 177.86,190.94 178.06,190.96 178.26,191 178.46,191.09 178.66,191.22 178.86,191.43 179.06,191.44 179.26,191.4 179.46,191.4 179.66,191.43 179.86,191.5 180.06,191.56 180.26,191.43 180.46,191.34 180.66,191.3 180.86,191.28 181.06,191.3 181.26,191.36 181.46,191.46 181.66,191.61 181.86,191.68 182.06,191.61 182.26,191.57 182.46,191.47 182.66,191.42 182.86,191.39 183.06,191.41 183.26,191.45 183.46,191.32 183.66,191.19 183.86,191.1 184.06,191.05 184.26,191.04 184.46,191.06 184.66,191.03 184.85,190.97 185.05,190.94 185.25,190.94 185.45,190.98 185.65,191.05 185.85,191.18 186.05,191.37 186.25,191.5 186.45,191.57 186.65,191.68 186.85,191.66 187.05,191.65 187.25,191.68 187.45,191.74 187.65,191.84 187.85,191.78 188.05,191.73 188.25,191.72 188.45,191.75 188.65,191.81 188.85,191.91 189.05,192.07 189.25,192.29 189.45,192.28 189.65,192.13 189.85,192.04 190.05,191.99 190.25,191.97 190.45,191.99 190.65,192.04 190.85,192.13 191.05,192.2 191.25,192.2 191.45,192.24 191.65,192.31 191.85,192.43 192.05,192.6 192.25,192.63 192.45,192.69 192.65,192.8 192.85,192.78 193.05,192.77 193.24,192.8 193.44,192.76 193.64,192.66 193.84,192.6 194.04,192.57 194.24,192.58 194.44,192.63 194.64,192.71 194.84,192.84 195.04,192.95 195.24,192.93 195.44,192.93 195.64,192.97 195.84,193.03 196.04,193.03 196.24,193.06 196.44,193.12 196.64,193.24 196.84,193.34 197.04,193.27 197.24,193.24 197.44,193.24 197.64,193.12 197.84,193.02 198.04,192.95 198.24,192.93 198.44,192.93 198.64,192.97 198.84,193.05 199.04,193.02 199.24,193.02 199.44,193.06 199.64,193.09 199.84,193.03 200.04,193 200.24,193.01 200.44,193.05 200.64,193.13 200.84,193.11 201.04,193.11 201.24,193.14 201.43,193.21 201.63,193.18 201.83,193.03 202.03,192.94 202.23,192.87 202.43,192.77 202.63,192.7 202.83,192.68 203.03,192.69 203.23,192.73 203.43,192.81 203.63,192.94 203.83,192.81 204.03,192.73 204.23,192.68 204.43,192.67 204.63,192.7 204.83,192.76 205.03,192.83 205.23,192.78 205.43,192.77 205.63,192.72 205.83,192.58 206.03,192.49 206.23,192.44 206.43,192.42 206.63,192.44 206.83,192.49 207.03,192.59 207.23,192.55 207.43,192.4 207.63,192.3 207.83,192.24 208.03,192.22 208.23,192.23 208.43,192.17 208.63,192.07 208.83,192.02 209.03,192 209.23,192.02 209.43,192.07 209.63,192.02 209.82,191.98 210.02,191.98 210.22,192.01 210.42,192.08 210.62,192.19 210.82,192.37 211.02,192.36 211.22,192.37 211.42,192.35 211.62,192.24 211.82,192.16 212.02,192.13 212.22,191.98 212.42,191.81 212.62,191.7 212.82,191.64 213.02,191.61 213.22,191.61 213.42,191.65 213.62,191.73 213.82,191.85 214.02,192.04 214.22,192.22 214.42,192.26 214.62,192.3 214.82,192.23 215.02,192.2 215.22,192.2 215.42,192.21 215.62,192.15 215.82,192.11 216.02,192.12 216.22,192.15 216.42,192.16 216.62,191.92 216.82,191.77 217.02,191.68 217.22,191.62 217.42,191.6 217.62,191.62 217.82,191.67 218.01,191.76 218.21,191.71 218.41,191.69 218.61,191.71 218.81,191.76 219.01,191.85 219.21,191.82 219.41,191.8 219.61,191.81 219.81,191.85 220.01,191.93 220.21,192.06 220.41,192.14 220.61,192.12 220.81,192.09 221.01,192.09 221.21,192.13 221.41,192.2 221.61,192.33 221.81,192.51 222.01,192.44 222.21,192.42 222.41,192.36 222.61,192.26 222.81,192.21 223.01,192.18 223.21,192.2 223.41,191.95 223.61,191.68 223.81,191.51 224.01,191.41 224.21,191.25 224.41,191.05 224.61,190.92 224.81,190.84 225.01,190.8 225.21,190.75 225.41,190.6 225.61,190.51 225.81,190.46 226.01,190.44 226.21,190.46 226.4,190.51 226.6,190.6 226.8,190.74 227,190.97 227.2,191.03 227.4,191.01 227.6,191.03 227.8,191.08 228,191.18 228.2,191.33 228.4,191.56 228.6,191.7 228.8,191.82 229,191.8 229.2,191.75 229.4,191.74 229.6,191.76 229.8,191.82 230,191.77 230.2,191.73 230.4,191.72 230.6,191.74 230.8,191.8 231,191.87 231.2,191.9 231.4,191.96 231.6,192.07 231.8,192.02 232,191.91 232.2,191.84 232.4,191.8 232.6,191.8 232.8,191.82 233,191.79 233.2,191.34 233.4,191.1 233.6,190.95 233.8,190.86 234,190.8 234.2,190.79 234.4,190.8 234.6,190.85 234.79,190.94 234.99,190.96 235.19,190.97 235.39,190.9 235.59,190.71 235.79,190.59 235.99,190.51 236.19,190.47 236.39,190.47 236.59,190.5 236.79,190.57 236.99,190.59 237.19,190.27 237.39,190.09 237.59,189.97 237.79,189.9 237.99,189.87 238.19,189.87 238.39,189.9 238.59,189.97 238.79,190.09 238.99,190.15 239.19,189.92 239.39,189.75 239.59,189.64 239.79,189.57 239.99,189.54 240.19,189.54 240.39,189.58 240.59,189.65 240.79,189.63 240.99,189.57 241.19,189.53 241.39,189.54 241.59,189.57 241.79,189.65 241.99,189.77 242.19,189.8 242.39,189.76 242.59,189.75 242.79,189.78 242.98,189.69 243.18,189.46 243.38,189.31 243.58,189.22 243.78,189.16 243.98,189.14 244.18,189.16 244.38,189.21 244.58,189.3 244.78,189.24 244.98,189.13 245.18,189.07 245.38,189.05 245.58,189.05 245.78,189.1 245.98,189.18 246.18,189.3 246.38,189.5 246.58,189.88 246.78,190.65 246.98,190.53 247.18,190.45 247.38,190.41 247.58,190.4 247.78,190.43 247.98,190.49 248.18,190.59 248.38,190.76 248.58,191.03 248.78,191.27 248.98,191.42 249.18,191.56 249.38,191.59 249.58,191.63 249.78,191.57 249.98,191.55 250.18,191.56 250.38,191.61 250.58,191.57 250.78,191.5 250.98,191.47 251.18,191.47 251.37,191.5 251.57,191.48 251.77,191.41 251.97,191.38 252.17,191.38 252.37,191.41 252.57,191.48 252.77,191.54 252.97,191.46 253.17,191.41 253.37,191.4 253.57,191.43 253.77,191.48 253.97,191.49 254.17,191.48 254.37,191.5 254.57,191.55 254.77,191.65 254.97,191.8 255.17,191.91 255.37,191.94 255.57,191.92 255.77,191.8 255.97,191.72 256.17,191.69 256.37,191.69 256.57,191.72 256.77,191.78 256.97,191.75 257.17,191.73 257.37,191.75 257.57,191.79 257.77,191.88 257.97,192.02 258.17,192.1 258.37,192.15 258.57,192.16 258.77,192.06 258.97,192 259.17,191.98 259.37,191.99 259.57,192.03 259.76,192.11 259.96,192.25 260.16,192.19 260.36,192.14 260.56,192.13 260.76,192.16 260.96,192.21 261.16,192.25 261.36,192.26 261.56,192.31 261.76,192.4 261.96,192.54 262.16,192.48 262.36,192.42 262.56,192.41 262.76,192.42 262.96,192.47 263.16,192.52 263.36,192.49 263.56,192.5 263.76,192.55 263.96,192.63 264.16,192.6 264.36,192.56 264.56,192.55 264.76,192.57 264.96,192.64 265.16,192.74 265.36,192.77 265.56,192.81 265.76,192.89 265.96,193.02 266.16,193.15 266.36,193.18 266.56,193.19 266.76,193.05 266.96,192.95 267.16,192.9 267.36,192.88 267.56,192.9 267.76,192.95 267.95,193.04 268.15,193.19 268.35,193.32 268.55,193.21 268.75,193.14 268.95,193.1 269.15,193.1 269.35,193.13 269.55,193.2 269.75,193.31 269.95,193.26 270.15,193.18 270.35,193.13 270.55,193.11 270.75,193.13 270.95,193.19 271.15,193.16 271.35,193.12 271.55,193.12 271.75,193.15 271.95,193.22 272.15,193.33 272.35,193.51 272.55,193.63 272.75,193.6 272.95,193.52 273.15,193.3 273.35,193.02 273.55,192.85 273.75,192.74 273.95,192.67 274.15,192.65 274.35,192.65 274.55,192.69 274.75,192.76 274.95,192.89 275.15,192.83 275.35,192.62 275.55,192.49 275.75,192.4 275.95,192.35 276.15,192.34 276.34,192.36 276.54,192.41 276.74,192.51 276.94,192.58 277.14,192.5 277.34,192.45 277.54,192.45 277.74,192.45 277.94,192.38 278.14,192.35 278.34,192.35 278.54,192.38 278.74,192.46 278.94,192.52 279.14,192.51 279.34,192.54 279.54,192.6 279.74,192.71 279.94,192.88 280.14,193.16 280.34,193.65 280.54,193.64 280.74,193.65 280.94,193.71 281.14,193.8 281.34,193.94 281.54,194.17 281.74,194.84 281.74,195.21 281.54,195.88 281.34,196.11 281.14,196.25 280.94,196.35 280.74,196.4 280.54,196.41 280.34,196.4 280.14,197.11 279.94,197.39 279.74,197.56 279.54,197.67 279.34,197.74 279.14,197.76 278.94,197.76 278.74,197.73 278.54,197.8 278.34,197.84 278.14,197.84 277.94,197.81 277.74,197.74 277.54,197.62 277.34,197.45 277.14,197.41 276.94,197.33 276.74,197.34 276.54,197.43 276.34,197.49 276.15,197.51 275.95,197.53 275.75,197.6 275.55,197.62 275.35,197.62 275.15,197.58 274.95,197.5 274.75,197.37 274.55,197.17 274.35,197.12 274.15,197.12 273.95,197.09 273.75,197.03 273.55,196.92 273.35,196.75 273.15,196.7 272.95,196.66 272.75,196.79 272.55,196.9 272.35,196.97 272.15,197.01 271.95,197 271.75,196.97 271.55,196.96 271.35,196.95 271.15,196.92 270.95,196.92 270.75,196.97 270.55,196.99 270.35,196.98 270.15,196.93 269.95,196.84 269.75,196.83 269.55,196.95 269.35,197.02 269.15,197.05 268.95,197.08 268.75,197.17 268.55,197.22 268.35,197.24 268.15,197.23 267.95,197.18 267.76,197.08 267.56,197.12 267.36,197.13 267.16,197.12 266.96,197.06 266.76,197.08 266.56,197.19 266.36,197.26 266.16,197.29 265.96,197.29 265.76,197.26 265.56,197.18 265.36,197.35 265.16,197.51 264.96,197.61 264.76,197.67 264.56,197.7 264.36,197.69 264.16,197.65 263.96,197.64 263.76,197.73 263.56,197.77 263.36,197.78 263.16,197.75 262.96,197.69 262.76,197.59 262.56,197.49 262.36,197.47 262.16,197.42 261.96,197.51 261.76,197.65 261.56,197.74 261.36,197.79 261.16,197.88 260.96,197.98 260.76,198.03 260.56,198.05 260.36,198.04 260.16,198 259.96,197.91 259.76,197.78 259.57,197.84 259.37,197.89 259.17,197.9 258.97,197.87 258.77,197.82 258.57,197.9 258.37,197.98 258.17,198.03 257.97,198.17 257.77,198.31 257.57,198.4 257.37,198.44 257.17,198.46 256.97,198.43 256.77,198.38 256.57,198.28 256.37,198.13 256.17,198.08 255.97,198.3 255.77,198.45 255.57,198.55 255.37,198.61 255.17,198.63 254.97,198.62 254.77,198.61 254.57,198.71 254.37,198.77 254.17,198.79 253.97,198.78 253.77,198.73 253.57,198.64 253.37,198.54 253.17,198.53 252.97,198.55 252.77,198.73 252.57,198.85 252.37,198.92 252.17,198.96 251.97,198.96 251.77,198.92 251.57,198.85 251.37,198.74 251.18,198.71 250.98,198.71 250.78,198.68 250.58,198.61 250.38,198.49 250.18,198.45 249.98,198.68 249.78,198.86 249.58,198.97 249.38,199.03 249.18,199.06 248.98,199.06 248.78,199.02 248.58,199.13 248.38,199.4 248.18,199.57 247.98,199.67 247.78,199.74 247.58,199.76 247.38,199.76 247.18,199.75 246.98,200.03 246.78,200.2 246.58,200.31 246.38,200.37 246.18,200.4 245.98,200.49 245.78,200.57 245.58,200.61 245.38,200.62 245.18,200.59 244.98,200.53 244.78,200.42 244.58,200.29 244.38,200.38 244.18,200.43 243.98,200.54 243.78,200.63 243.58,200.68 243.38,200.69 243.18,200.67 242.98,200.61 242.79,200.51 242.59,200.38 242.39,200.37 242.19,200.33 241.99,200.26 241.79,200.13 241.59,199.93 241.39,199.79 241.19,199.87 240.99,200.2 240.79,200.39 240.59,200.51 240.39,200.58 240.19,200.62 239.99,200.62 239.79,200.59 239.59,200.53 239.39,200.41 239.19,200.31 238.99,200.26 238.79,200.18 238.59,200.04 238.39,199.83 238.19,199.56 237.99,199.56 237.79,199.53 237.59,199.46 237.39,199.39 237.19,199.39 236.99,199.35 236.79,199.42 236.59,199.49 236.39,199.51 236.19,199.51 235.99,199.47 235.79,199.4 235.59,199.39 235.39,199.47 235.19,199.51 234.99,199.52 234.79,199.49 234.6,199.43 234.4,199.4 234.2,199.41 234,199.39 233.8,199.34 233.6,199.24 233.4,199.09 233.2,198.85 233,198.45 232.8,198.53 232.6,198.56 232.4,198.56 232.2,198.53 232,198.46 231.8,198.34 231.6,198.2 231.4,198.31 231.2,198.37 231,198.4 230.8,198.4 230.6,198.41 230.4,198.44 230.2,198.43 230,198.39 229.8,198.35 229.6,198.41 229.4,198.43 229.2,198.42 229,198.37 228.8,198.55 228.6,198.67 228.4,198.74 228.2,198.95 228,199.1 227.8,199.2 227.6,199.25 227.4,199.27 227.2,199.26 227,199.21 226.8,199.12 226.6,199.02 226.4,199.11 226.21,199.17 226.01,199.18 225.81,199.2 225.61,199.31 225.41,199.37 225.21,199.39 225.01,199.39 224.81,199.34 224.61,199.26 224.41,199.14 224.21,198.93 224.01,198.56 223.81,198.08 223.61,198.22 223.41,198.31 223.21,198.36 223.01,198.37 222.81,198.35 222.61,198.29 222.41,198.2 222.21,198.05 222.01,197.8 221.81,197.44 221.61,197.63 221.41,197.75 221.21,197.83 221.01,197.96 220.81,198.07 220.61,198.14 220.41,198.18 220.21,198.21 220.01,198.35 219.81,198.43 219.61,198.47 219.41,198.48 219.21,198.46 219.01,198.4 218.81,198.29 218.61,198.18 218.41,198.19 218.21,198.27 218.01,198.41 217.82,198.5 217.62,198.55 217.42,198.57 217.22,198.55 217.02,198.49 216.82,198.4 216.62,198.25 216.42,198.01 216.22,198 216.02,198.04 215.82,198.2 215.62,198.31 215.42,198.38 215.22,198.42 215.02,198.42 214.82,198.38 214.62,198.31 214.42,198.25 214.22,198.29 214.02,198.29 213.82,198.26 213.62,198.2 213.42,198.09 213.22,198.06 213.02,198.06 212.82,198.04 212.62,197.97 212.42,197.86 212.22,197.73 212.02,197.73 211.82,197.83 211.62,197.96 211.42,198.04 211.22,198.08 211.02,198.09 210.82,198.06 210.62,198 210.42,197.89 210.22,197.73 210.02,197.53 209.82,197.74 209.63,197.88 209.43,197.97 209.23,198.02 209.03,198.04 208.83,198.02 208.63,197.97 208.43,197.88 208.23,197.84 208.03,197.85 207.83,197.83 207.63,197.87 207.43,197.92 207.23,197.93 207.03,197.91 206.83,197.85 206.63,197.82 206.43,197.84 206.23,197.82 206.03,197.77 205.83,197.68 205.63,197.54 205.43,197.32 205.23,197.27 205.03,197.22 204.83,197.22 204.63,197.28 204.43,197.3 204.23,197.29 204.03,197.25 203.83,197.18 203.63,197.38 203.43,197.51 203.23,197.59 203.03,197.63 202.83,197.64 202.63,197.62 202.43,197.55 202.23,197.48 202.03,197.43 201.83,197.34 201.63,197.19 201.43,196.96 201.24,196.97 201.04,197 200.84,197.03 200.64,197.16 200.44,197.24 200.24,197.28 200.04,197.29 199.84,197.26 199.64,197.2 199.44,197.09 199.24,196.93 199.04,197.12 198.84,197.25 198.64,197.33 198.44,197.37 198.24,197.38 198.04,197.35 197.84,197.31 197.64,197.38 197.44,197.41 197.24,197.41 197.04,197.38 196.84,197.31 196.64,197.2 196.44,197.3 196.24,197.37 196.04,197.4 195.84,197.49 195.64,197.56 195.44,197.6 195.24,197.61 195.04,197.58 194.84,197.51 194.64,197.49 194.44,197.57 194.24,197.62 194.04,197.63 193.84,197.6 193.64,197.54 193.44,197.44 193.24,197.3 193.05,197.33 192.85,197.45 192.65,197.62 192.45,197.72 192.25,197.79 192.05,197.81 191.85,197.89 191.65,198.01 191.45,198.09 191.25,198.12 191.05,198.13 190.85,198.1 190.65,198.03 190.45,197.92 190.25,197.75 190.05,197.67 189.85,197.85 189.65,198.02 189.45,198.13 189.25,198.2 189.05,198.23 188.85,198.23 188.65,198.19 188.45,198.12 188.25,198 188.05,198.16 187.85,198.42 187.65,198.58 187.45,198.69 187.25,198.75 187.05,198.77 186.85,198.77 186.65,198.72 186.45,198.64 186.25,198.71 186.05,198.75 185.85,198.84 185.65,198.96 185.45,199.04 185.25,199.08 185.05,199.08 184.85,199.05 184.66,198.98 184.46,198.87 184.26,198.78 184.06,198.77 183.86,198.72 183.66,198.88 183.46,199.01 183.26,199.1 183.06,199.14 182.86,199.19 182.66,199.26 182.46,199.29 182.26,199.29 182.06,199.26 181.86,199.19 181.66,199.07 181.46,198.96 181.26,199.05 181.06,199.11 180.86,199.13 180.66,199.12 180.46,199.11 180.26,199.12 180.06,199.11 179.86,199.07 179.66,199.14 179.46,199.17 179.26,199.17 179.06,199.13 178.86,199.44 178.66,199.65 178.46,199.78 178.26,199.87 178.06,199.91 177.86,199.93 177.66,199.9 177.46,199.85 177.26,199.86 177.06,200.05 176.86,200.17 176.66,200.24 176.46,200.27 176.27,200.28 176.07,200.24 175.87,200.23 175.67,200.35 175.47,200.42 175.27,200.47 175.07,200.74 174.87,200.9 174.67,201 174.47,201.06 174.27,201.08 174.07,201.07 173.87,201.03 173.67,200.95 173.47,200.82 173.27,200.61 173.07,200.22 172.87,200.3 172.67,200.45 172.47,200.54 172.27,200.59 172.07,200.61 171.87,200.6 171.67,200.55 171.47,200.58 171.27,200.66 171.07,200.69 170.87,200.7 170.67,200.67 170.47,200.6 170.27,200.49 170.07,200.32 169.87,200.36 169.67,200.43 169.47,200.46 169.27,200.46 169.07,200.43 168.87,200.36 168.67,200.25 168.47,200.18 168.27,200.25 168.08,200.28 167.88,200.28 167.68,200.24 167.48,200.17 167.28,200.14 167.08,200.16 166.88,200.15 166.68,200.11 166.48,200.03 166.28,199.92 166.08,199.89 165.88,199.83 165.68,200.02 165.48,200.15 165.28,200.23 165.08,200.27 164.88,200.28 164.68,200.26 164.48,200.2 164.28,200.1 164.08,200.14 163.88,200.17 163.68,200.16 163.48,200.11 163.28,200.03 163.08,199.9 162.88,199.7 162.68,199.5 162.48,199.64 162.28,199.72 162.08,199.77 161.88,199.78 161.68,199.76 161.48,199.86 161.28,199.95 161.08,200 160.88,200.01 160.68,199.99 160.48,199.94 160.28,199.85 160.08,199.7 159.88,199.6 159.69,199.71 159.49,199.79 159.29,199.83 159.09,199.83 158.89,199.8 158.69,199.74 158.49,199.72 158.29,199.75 158.09,199.74 157.89,199.7 157.69,199.63 157.49,199.72 157.29,199.78 157.09,199.8 156.89,199.79 156.69,199.75 156.49,199.66 156.29,199.54 156.09,199.61 155.89,199.64 155.69,199.64 155.49,199.61 155.29,199.53 155.09,199.44 154.89,199.41 154.69,199.33 154.49,199.21 154.29,199.02 154.09,199.07 153.89,199.11 153.69,199.11 153.49,199.08 153.29,199.01 153.09,198.89 152.89,198.75 152.69,198.72 152.49,198.79 152.29,198.81 152.09,198.8 151.89,199 151.69,199.18 151.49,199.31 151.3,199.38 151.1,199.42 150.9,199.42 150.7,199.39 150.5,199.32 150.3,199.27 150.1,199.32 149.9,199.33 149.7,199.31 149.5,199.26 149.3,199.16 149.1,199.01 148.9,198.78 148.7,198.74 148.5,198.93 148.3,199.05 148.1,199.13 147.9,199.17 147.7,199.17 147.5,199.14 147.3,199.08 147.1,198.97 146.9,198.84 146.7,198.82 146.5,198.84 146.3,198.91 146.1,198.95 145.9,198.96 145.7,198.93 145.5,198.86 145.3,198.75 145.1,198.58 144.9,198.53 144.7,198.44 144.5,198.3 144.3,198.27 144.1,198.34 143.9,198.37 143.7,198.37 143.5,198.33 143.3,198.26 143.11,198.15 142.91,198.2 142.71,198.28 142.51,198.41 142.31,198.5 142.11,198.54 141.91,198.55 141.71,198.53 141.51,198.47 141.31,198.37 141.11,198.22 140.91,198.17 140.71,198.13 140.51,198.06 140.31,197.95 140.11,197.94 139.91,197.99 139.71,198 139.51,197.97 139.31,197.92 139.11,197.82 138.91,197.67 138.71,197.66 138.51,197.62 138.31,197.54 138.11,197.42 137.91,197.42 137.71,197.38 137.51,197.43 137.31,197.45 137.11,197.43 136.91,197.38 136.71,197.29 136.51,197.33 136.31,197.39 136.11,197.41 135.91,197.4 135.71,197.36 135.51,197.28 135.31,197.16 135.11,197.23 134.91,197.25 134.72,197.25 134.52,197.21 134.32,197.13 134.12,197.01 133.92,196.81 133.72,196.71 133.52,196.58 133.32,196.53 133.12,196.62 132.92,196.67 132.72,196.68 132.52,196.66 132.32,196.61 132.12,196.55 131.92,196.58 131.72,196.58 131.52,196.54 131.32,196.6 131.12,196.63 130.92,196.64 130.72,196.61 130.52,196.54 130.32,196.43 130.12,196.41 129.92,196.43 129.72,196.42 129.52,196.45 129.32,196.51 129.12,196.53 128.92,196.51 128.72,196.46 128.52,196.37 128.32,196.25 128.12,196.34 127.92,196.39 127.72,196.41 127.52,196.41 127.32,196.45 127.12,196.46 126.92,196.44 126.72,196.39 126.52,196.29 126.33,196.25 126.13,196.34 125.93,196.39 125.73,196.4 125.53,196.38 125.33,196.39 125.13,196.4 124.93,196.38 124.73,196.32 124.53,196.24 124.33,196.33 124.13,196.38 123.93,196.4 123.73,196.38 123.53,196.33 123.33,196.24 123.13,196.09 122.93,195.86 122.73,195.1" fill="#ec225a"/>
<circle cx="253.3" cy="195.9" r="1.3" fill="#1e78c0"/>
<circle cx="73.5" cy="214.5" r="1.3" fill="#1e78c0"/>
<circle cx="86.6" cy="214.5" r="1.3" fill="#1e78c0"/>
<circle cx="88.3" cy="214.5" r="1.3" fill="#1e78c0"/>
<circle cx="92.7" cy="214.5" r="1.3" fill="#1e78c0"/>
<circle cx="95.7" cy="214.5" r="1.3" fill="#1e78c0"/>
<circle cx="98.6" cy="214.5" r="1.3" fill="#1e78c0"/>
<circle cx="106.6" cy="214.5" r="1.3" fill="#1e78c0"/>
<circle cx="110.3" cy="214.5" r="1.3" fill="#1e78c0"/>
<circle cx="115.4" cy="214.5" r="1.3" fill="#1e78c0"/>
<circle cx="118.7" cy="214.5" r="1.3" fill="#1e78c0"/>
<circle cx="141.5" cy="214.5" r="1.3" fill="#1e78c0"/>
<circle cx="270" cy="214.5" r="1.3" fill="#1e78c0"/>
<circle cx="274.5" cy="214.5" r="1.3" fill="#1e78c0"/>
<rect x="132.5" y="213.2" width="10.7" height="2.6" rx="1.3" fill="#1e78c0"/>
<polygon points="145.75,214.4 145.95,213.74 146.15,213.51 146.35,213.36 146.55,213.27 146.75,213.22 146.95,213.2 147.15,213.22 147.35,213.22 147.55,213.2 147.75,213.21 147.95,213.26 148.15,213.35 148.35,213.32 148.55,213.24 148.75,213.21 148.95,213.2 149.15,213.23 149.35,213.3 149.55,213.24 149.75,213.2 149.95,213.2 150.15,213.24 150.35,213.27 150.55,213.22 150.75,213.2 150.95,213.21 151.15,213.26 151.35,213.32 151.55,213.24 151.75,213.21 151.95,213.2 152.15,213.23 152.35,213.3 152.55,213.27 152.75,213.22 152.95,213.2 153.15,213.22 153.35,213.23 153.55,213.2 153.75,213.21 153.95,213.25 154.15,213.28 154.35,213.22 154.55,213.2 154.75,213.21 154.95,213.26 155.15,213.35 155.35,213.27 155.55,213.22 155.75,213.2 155.95,213.21 156.15,213.26 156.35,213.32 156.55,213.25 156.75,213.21 156.95,213.2 157.15,213.23 157.35,213.3 157.55,213.21 157.75,213.15 157.95,213.13 158.14,213.15 158.34,213.2 158.54,213.23 158.74,213.2 158.94,213.21 159.14,213.25 159.34,213.2 159.54,213.18 159.74,213.19 159.94,213.24 160.14,213.32 160.34,213.35 160.54,213.26 160.74,213.21 160.94,213.2 161.14,213.22 161.34,213.27 161.54,213.33 161.74,213.25 161.94,213.21 162.14,213.2 162.34,213.23 162.54,213.29 162.74,213.22 162.94,213.19 163.14,213.19 163.34,213.23 163.54,213.21 163.74,213.13 163.94,213.1 164.14,213.1 164.34,213.13 164.54,213.14 164.74,213.09 164.94,213.07 165.14,213.09 165.34,213.11 165.54,213.08 165.74,213.07 165.94,213.11 166.14,213.17 166.34,213.29 166.54,213.23 166.74,213.2 166.94,213.21 167.14,213.25 167.34,213.24 167.54,213.2 167.74,213.2 167.94,213.24 168.14,213.18 168.34,213.13 168.54,213.12 168.74,213.14 168.94,213.2 169.14,213.3 169.34,213.26 169.54,213.14 169.74,213.07 169.94,213.03 170.14,213.03 170.34,213.06 170.54,213.13 170.74,213.16 170.94,213.21 171.13,213.29 171.33,213.27 171.53,213.21 171.73,213.18 171.93,213.18 172.13,213.22 172.33,213.3 172.53,213.19 172.73,213.13 172.93,213.1 173.13,213.11 173.33,213.15 173.53,213.15 173.73,213.08 173.93,213.05 174.13,213.06 174.33,213.03 174.53,212.95 174.73,212.92 174.93,212.91 175.13,212.94 175.33,213 175.53,212.96 175.73,212.96 175.93,213 176.13,213.07 176.33,213.18 176.53,213.19 176.73,213.18 176.93,213.21 177.13,213.15 177.33,213.09 177.53,213.06 177.73,213.07 177.93,213.11 178.13,213.19 178.33,213.21 178.53,213.11 178.73,213.05 178.93,213.03 179.13,213.04 179.33,213.07 179.53,212.94 179.73,212.87 179.93,212.83 180.13,212.82 180.33,212.85 180.53,212.85 180.73,212.85 180.93,212.77 181.13,212.67 181.33,212.62 181.53,212.59 181.73,212.61 181.93,212.65 182.13,212.74 182.33,212.78 182.53,212.72 182.73,212.7 182.93,212.71 183.13,212.75 183.33,212.8 183.53,212.77 183.73,212.77 183.93,212.68 184.12,212.6 184.32,212.56 184.52,212.55 184.72,212.58 184.92,212.57 185.12,212.44 185.32,212.36 185.52,212.31 185.72,212.3 185.92,212.33 186.12,212.35 186.32,212.24 186.52,212.17 186.72,212.13 186.92,212.14 187.12,212.17 187.32,212.08 187.52,212.02 187.72,212 187.92,212.01 188.12,211.96 188.32,211.89 188.52,211.86 188.72,211.86 188.92,211.9 189.12,211.97 189.32,211.91 189.52,211.84 189.72,211.8 189.92,211.79 190.12,211.82 190.32,211.89 190.52,212 190.72,212.16 190.92,212.17 191.12,211.98 191.32,211.86 191.52,211.78 191.72,211.74 191.92,211.73 192.12,211.76 192.32,211.83 192.52,211.89 192.72,211.85 192.92,211.85 193.12,211.88 193.32,211.87 193.52,211.79 193.72,211.74 193.92,211.71 194.12,211.63 194.32,211.58 194.52,211.57 194.72,211.59 194.92,211.65 195.12,211.75 195.32,211.72 195.52,211.68 195.72,211.69 195.92,211.57 196.12,211.49 196.32,211.44 196.52,211.43 196.72,211.46 196.91,211.52 197.11,211.62 197.31,211.79 197.51,211.82 197.71,211.83 197.91,211.88 198.11,211.97 198.31,211.88 198.51,211.82 198.71,211.79 198.91,211.8 199.11,211.84 199.31,211.92 199.51,212.05 199.71,212.18 199.91,212.22 200.11,212.2 200.31,212.15 200.51,212.14 200.71,212.16 200.91,212.22 201.11,212.32 201.31,212.47 201.51,212.66 201.71,212.61 201.91,212.6 202.11,212.62 202.31,212.52 202.51,212.43 202.71,212.38 202.91,212.36 203.11,212.38 203.31,212.43 203.51,212.53 203.71,212.62 203.91,212.64 204.11,212.69 204.31,212.7 204.51,212.67 204.71,212.68 204.91,212.71 205.11,212.79 205.31,212.91 205.51,212.83 205.71,212.78 205.91,212.77 206.11,212.79 206.31,212.84 206.51,212.93 206.71,212.99 206.91,212.98 207.11,212.97 207.31,212.87 207.51,212.82 207.71,212.8 207.91,212.82 208.11,212.87 208.31,212.96 208.51,212.98 208.71,212.98 208.91,213.02 209.11,212.99 209.31,212.92 209.51,212.89 209.71,212.9 209.9,212.94 210.1,213.01 210.3,213.03 210.5,212.99 210.7,212.99 210.9,213.03 211.1,213.1 211.3,212.95 211.5,212.83 211.7,212.76 211.9,212.72 212.1,212.72 212.3,212.75 212.5,212.82 212.7,212.93 212.9,212.9 213.1,212.91 213.3,212.93 213.5,212.82 213.7,212.75 213.9,212.72 214.1,212.72 214.3,212.76 214.5,212.83 214.7,212.83 214.9,212.82 215.1,212.85 215.3,212.91 215.5,213.02 215.7,213.01 215.9,212.99 216.1,212.99 216.3,212.9 216.5,212.85 216.7,212.83 216.9,212.85 217.1,212.9 217.3,212.86 217.5,212.82 217.7,212.81 217.9,212.69 218.1,212.6 218.3,212.55 218.5,212.53 218.7,212.55 218.9,212.61 219.1,212.7 219.3,212.79 219.5,212.78 219.7,212.8 219.9,212.61 220.1,212.48 220.3,212.4 220.5,212.36 220.7,212.35 220.9,212.38 221.1,212.31 221.3,212.27 221.5,212.25 221.7,212.28 221.9,212.34 222.1,212.44 222.3,212.51 222.5,212.43 222.7,212.39 222.89,212.38 223.09,212.4 223.29,212.29 223.49,212.22 223.69,212.19 223.89,211.94 224.09,211.69 224.29,211.53 224.49,211.43 224.69,211.38 224.89,211.35 225.09,211.37 225.29,211.41 225.49,211.32 225.69,211.26 225.89,211.23 226.09,211.24 226.29,211.28 226.49,211.36 226.69,211.49 226.89,211.57 227.09,211.62 227.29,211.58 227.49,211.56 227.69,211.59 227.89,211.65 228.09,211.75 228.29,211.91 228.49,212.16 228.69,212.47 228.89,212.46 229.09,212.49 229.29,212.56 229.49,212.67 229.69,212.76 229.89,212.79 230.09,212.86 230.29,212.97 230.49,212.88 230.69,212.83 230.89,212.81 231.09,212.83 231.29,212.88 231.49,212.83 231.69,212.81 231.89,212.83 232.09,212.88 232.29,212.81 232.49,212.77 232.69,212.77 232.89,212.8 233.09,212.87 233.29,212.98 233.49,212.97 233.69,212.96 233.89,212.99 234.09,213.05 234.29,213.16 234.49,213.15 234.69,213.09 234.89,213.07 235.09,213.04 235.29,212.95 235.49,212.9 235.69,212.89 235.88,212.91 236.08,212.94 236.28,212.86 236.48,212.82 236.68,212.81 236.88,212.83 237.08,212.9 237.28,212.96 237.48,212.93 237.68,212.94 237.88,212.98 238.08,213.05 238.28,213.18 238.48,213.1 238.68,213.04 238.88,212.97 239.08,212.87 239.28,212.8 239.48,212.78 239.68,212.78 239.88,212.82 240.08,212.9 240.28,213 240.48,213 240.68,213.02 240.88,213.09 241.08,213.19 241.28,213.07 241.48,212.97 241.68,212.92 241.88,212.9 242.08,212.91 242.28,212.87 242.48,212.83 242.68,212.82 242.88,212.85 243.08,212.91 243.28,213.01 243.48,213.18 243.68,213.11 243.88,213.07 244.08,213.07 244.28,213.01 244.48,212.93 244.68,212.89 244.88,212.88 245.08,212.9 245.28,212.96 245.48,213 245.68,212.96 245.88,212.96 246.08,212.99 246.28,213 246.48,212.92 246.68,212.87 246.88,212.86 247.08,212.89 247.28,212.95 247.48,213.05 247.68,213.1 247.88,213.12 248.08,213.18 248.28,213.18 248.48,213.07 248.67,213 248.87,212.97 249.07,212.96 249.27,212.92 249.47,212.91 249.67,212.94 249.87,213 250.07,213.1 250.27,213.16 250.47,213.05 250.67,212.98 250.87,212.95 251.07,212.96 251.27,212.99 251.47,213.07 251.67,213.08 251.87,213.05 252.07,213.06 252.27,213.08 252.47,213.02 252.67,212.99 252.87,213 253.07,213.04 253.27,213.12 253.47,213.22 253.67,213.18 253.87,213.18 254.07,213.14 254.27,213.08 254.47,213.06 254.67,213.07 254.87,213.11 255.07,213.2 255.27,213.33 255.47,213.26 255.67,213.21 255.87,213.2 256.07,213.22 256.27,213.22 256.47,213.12 256.67,213.07 256.87,213.05 257.07,213.07 257.27,213.12 257.47,213.2 257.67,213.18 257.87,213.19 258.07,213.24 258.27,213.23 258.47,213.2 258.67,213.21 258.87,213.25 259.07,213.33 259.27,213.32 259.47,213.22 259.67,213.16 259.87,213.14 260.07,213.15 260.27,213.16 260.47,213.13 260.67,213.13 260.87,213.17 261.07,213.24 261.27,213.2 261.47,213.18 261.66,213.19 261.86,213.23 262.06,213.32 262.26,213.44 262.46,213.32 262.66,213.24 262.86,213.2 263.06,213.2 263.26,213.23 263.46,213.29 263.66,213.24 263.86,213.21 264.06,213.2 264.26,213.23 264.46,213.3 264.66,213.24 264.86,213.2 265.06,213.19 265.26,213.22 265.46,213.22 265.66,213.2 265.86,213.22 266.06,213.27 266.26,213.36 266.46,213.51 266.66,213.74 266.86,214.4 266.86,214.6 266.66,215.26 266.46,215.49 266.26,215.64 266.06,215.73 265.86,215.78 265.66,215.8 265.46,215.78 265.26,215.77 265.06,215.8 264.86,215.79 264.66,215.75 264.46,215.73 264.26,215.79 264.06,215.83 263.86,215.82 263.66,215.79 263.46,215.74 263.26,215.8 263.06,215.83 262.86,215.83 262.66,215.79 262.46,215.71 262.26,215.59 262.06,215.66 261.86,215.74 261.66,215.79 261.47,215.8 261.27,215.78 261.07,215.76 260.87,215.83 260.67,215.87 260.47,215.87 260.27,215.84 260.07,215.79 259.87,215.8 259.67,215.77 259.47,215.71 259.27,215.64 259.07,215.77 258.87,215.85 258.67,215.89 258.47,215.9 258.27,215.87 258.07,215.87 257.87,215.92 257.67,215.94 257.47,215.92 257.27,215.86 257.07,215.87 256.87,215.88 256.67,215.86 256.47,215.81 256.27,215.75 256.07,215.81 255.87,215.83 255.67,215.81 255.47,215.76 255.27,215.67 255.07,215.81 254.87,215.89 254.67,215.94 254.47,215.95 254.27,215.93 254.07,215.87 253.87,215.82 253.67,215.82 253.47,215.78 253.27,215.82 253.07,215.9 252.87,215.94 252.67,215.94 252.47,215.92 252.27,215.94 252.07,215.98 251.87,215.99 251.67,215.96 251.47,215.92 251.27,215.99 251.07,216.03 250.87,216.03 250.67,216 250.47,215.94 250.27,215.83 250.07,215.65 249.87,215.74 249.67,215.8 249.47,215.91 249.27,215.99 249.07,216.03 248.87,216.03 248.67,216 248.48,215.94 248.28,215.83 248.08,215.88 247.88,215.94 247.68,215.97 247.48,215.96 247.28,215.91 247.08,215.89 246.88,215.91 246.68,215.9 246.48,215.94 246.28,216.05 246.08,216.11 245.88,216.14 245.68,216.14 245.48,216.1 245.28,216.06 245.08,216.12 244.88,216.14 244.68,216.13 244.48,216.09 244.28,216.11 244.08,216.14 243.88,216.14 243.68,216.11 243.48,216.03 243.28,215.92 243.08,216 242.88,216.06 242.68,216.09 242.48,216.08 242.28,216.04 242.08,216.09 241.88,216.1 241.68,216.08 241.48,216.03 241.28,215.93 241.08,215.78 240.88,215.81 240.68,215.87 240.48,215.9 240.28,216 240.08,216.12 239.88,216.2 239.68,216.24 239.48,216.25 239.28,216.22 239.08,216.24 238.88,216.26 238.68,216.23 238.48,216.18 238.28,216.08 238.08,216.02 237.88,216.09 237.68,216.13 237.48,216.14 237.28,216.11 237.08,216.05 236.88,216.03 236.68,216.05 236.48,216.04 236.28,216.12 236.08,216.21 235.88,216.27 235.69,216.28 235.49,216.27 235.29,216.22 235.09,216.13 234.89,216.14 234.69,216.12 234.49,216.05 234.29,215.97 234.09,216.08 233.89,216.14 233.69,216.17 233.49,216.17 233.29,216.13 233.09,216.09 232.89,216.15 232.69,216.19 232.49,216.18 232.29,216.15 232.09,216.09 231.89,216.14 231.69,216.16 231.49,216.14 231.29,216.12 231.09,216.17 230.89,216.19 230.69,216.17 230.49,216.12 230.29,216.13 230.09,216.24 229.89,216.31 229.69,216.34 229.49,216.35 229.29,216.46 229.09,216.53 228.89,216.56 228.69,216.56 228.49,217.12 228.29,217.37 228.09,217.53 227.89,217.63 227.69,217.69 227.49,217.71 227.29,217.7 227.09,218.31 226.89,218.68 226.69,218.88 226.49,219 226.29,219.08 226.09,219.12 225.89,219.13 225.69,219.1 225.49,219.04 225.29,218.93 225.09,218.76 224.89,218.49 224.69,217.62 224.49,217.56 224.29,217.46 224.09,217.3 223.89,217.21 223.69,217.21 223.49,217.18 223.29,217.11 223.09,217 222.89,216.82 222.7,216.65 222.5,216.6 222.3,216.52 222.1,216.59 221.9,216.69 221.7,216.74 221.5,216.77 221.3,216.76 221.1,216.71 220.9,216.63 220.7,216.49 220.5,216.29 220.3,216.29 220.1,216.45 219.9,216.55 219.7,216.61 219.5,216.64 219.3,216.63 219.1,216.58 218.9,216.5 218.7,216.41 218.5,216.43 218.3,216.41 218.1,216.36 217.9,216.4 217.7,216.43 217.5,216.42 217.3,216.38 217.1,216.31 216.9,216.23 216.7,216.24 216.5,216.27 216.3,216.35 216.1,216.39 215.9,216.4 215.7,216.38 215.5,216.32 215.3,216.21 215.1,216.23 214.9,216.26 214.7,216.25 214.5,216.29 214.3,216.36 214.1,216.4 213.9,216.4 213.7,216.37 213.5,216.3 213.3,216.29 213.1,216.33 212.9,216.34 212.7,216.31 212.5,216.24 212.3,216.14 212.1,216.13 211.9,216.13 211.7,216.09 211.5,216.02 211.3,216.1 211.1,216.22 210.9,216.29 210.7,216.33 210.5,216.33 210.3,216.29 210.1,216.22 209.9,216.11 209.71,215.95 209.51,215.95 209.31,215.92 209.11,216.03 208.91,216.1 208.71,216.13 208.51,216.13 208.31,216.1 208.11,216.03 207.91,216.08 207.71,216.1 207.51,216.08 207.31,216.03 207.11,215.94 206.91,215.95 206.71,215.94 206.51,216.05 206.31,216.15 206.11,216.2 205.91,216.22 205.71,216.2 205.51,216.2 205.31,216.39 205.11,216.51 204.91,216.58 204.71,216.62 204.51,216.62 204.31,216.59 204.11,216.61 203.91,216.66 203.71,216.67 203.51,216.73 203.31,216.83 203.11,216.88 202.91,216.9 202.71,216.88 202.51,216.95 202.31,217.05 202.11,217.1 201.91,217.13 201.71,217.11 201.51,217.07 201.31,217.2 201.11,217.35 200.91,217.45 200.71,217.51 200.51,217.53 200.31,217.52 200.11,217.47 199.91,217.39 199.71,217.25 199.51,217.25 199.31,217.36 199.11,217.44 198.91,217.49 198.71,217.5 198.51,217.47 198.31,217.41 198.11,217.31 197.91,217.22 197.71,217.27 197.51,217.28 197.31,217.26 197.11,217.32 196.91,217.42 196.72,217.48 196.52,217.51 196.32,217.53 196.12,217.65 195.92,217.72 195.72,217.76 195.52,217.76 195.32,217.73 195.12,217.66 194.92,217.55 194.72,217.38 194.52,217.3 194.32,217.29 194.12,217.24 193.92,217.21 193.72,217.24 193.52,217.41 193.32,217.52 193.12,217.58 192.92,217.61 192.72,217.61 192.52,217.57 192.32,217.59 192.12,217.65 191.92,217.68 191.72,217.67 191.52,217.63 191.32,217.56 191.12,217.43 190.92,217.24 190.72,217.18 190.52,217.33 190.32,217.43 190.12,217.5 189.92,217.53 189.72,217.53 189.52,217.49 189.32,217.41 189.12,217.29 188.92,217.1 188.72,216.93 188.52,216.93 188.32,216.92 188.12,217.01 187.92,217.05 187.72,217.06 187.52,217.04 187.32,216.99 187.12,216.94 186.92,216.97 186.72,216.97 186.52,216.94 186.32,216.89 186.12,216.99 185.92,217.05 185.72,217.08 185.52,217.07 185.32,217.02 185.12,216.94 184.92,216.88 184.72,216.95 184.52,216.97 184.32,216.96 184.12,216.92 183.93,216.84 183.73,216.84 183.53,216.84 183.33,216.81 183.13,216.74 182.93,216.63 182.73,216.63 182.53,216.6 182.33,216.54 182.13,216.5 181.93,216.59 181.73,216.63 181.53,216.64 181.33,216.62 181.13,216.56 180.93,216.46 180.73,216.32 180.53,216.31 180.33,216.27 180.13,216.23 179.93,216.22 179.73,216.18 179.53,216.22 179.33,216.31 179.13,216.35 178.93,216.36 178.73,216.34 178.53,216.28 178.33,216.18 178.13,216.09 177.93,216.17 177.73,216.21 177.53,216.22 177.33,216.19 177.13,216.13 176.93,216.1 176.73,216.13 176.53,216.12 176.33,216.07 176.13,215.99 175.93,215.96 175.73,215.99 175.53,215.99 175.33,215.96 175.13,215.88 174.93,215.86 174.73,215.86 174.53,215.89 174.33,215.97 174.13,216.01 173.93,216.01 173.73,215.98 173.53,215.92 173.33,216 173.13,216.04 172.93,216.05 172.73,216.02 172.53,215.95 172.33,215.94 172.13,216.01 171.93,216.05 171.73,216.06 171.53,216.03 171.33,215.97 171.13,215.86 170.94,215.75 170.74,215.79 170.54,215.87 170.34,215.94 170.14,215.97 169.94,215.97 169.74,215.94 169.54,215.87 169.34,215.75 169.14,215.75 168.94,215.85 168.74,215.91 168.54,215.93 168.34,215.92 168.14,215.87 167.94,215.91 167.74,215.94 167.54,215.94 167.34,215.91 167.14,215.89 166.94,215.93 166.74,215.94 166.54,215.92 166.34,215.86 166.14,215.76 165.94,215.76 165.74,215.8 165.54,215.79 165.34,215.81 165.14,215.86 164.94,215.88 164.74,215.86 164.54,215.81 164.34,215.76 164.14,215.8 163.94,215.8 163.74,215.76 163.54,215.69 163.34,215.76 163.14,215.8 162.94,215.8 162.74,215.76 162.54,215.78 162.34,215.85 162.14,215.87 161.94,215.87 161.74,215.83 161.54,215.75 161.34,215.73 161.14,215.78 160.94,215.8 160.74,215.79 160.54,215.74 160.34,215.65 160.14,215.65 159.94,215.74 159.74,215.79 159.54,215.8 159.34,215.78 159.14,215.82 158.94,215.87 158.74,215.87 158.54,215.85 158.34,215.79 158.14,215.79 157.95,215.8 157.75,215.78 157.55,215.73 157.35,215.77 157.15,215.83 156.95,215.86 156.75,215.86 156.55,215.82 156.35,215.74 156.15,215.79 155.95,215.84 155.75,215.85 155.55,215.83 155.35,215.78 155.15,215.7 154.95,215.78 154.75,215.83 154.55,215.84 154.35,215.82 154.15,215.77 153.95,215.75 153.75,215.79 153.55,215.8 153.35,215.77 153.15,215.79 152.95,215.81 152.75,215.79 152.55,215.74 152.35,215.73 152.15,215.8 151.95,215.83 151.75,215.83 151.55,215.79 151.35,215.72 151.15,215.74 150.95,215.79 150.75,215.8 150.55,215.78 150.35,215.73 150.15,215.76 149.95,215.8 149.75,215.8 149.55,215.76 149.35,215.7 149.15,215.77 148.95,215.8 148.75,215.79 148.55,215.76 148.35,215.68 148.15,215.65 147.95,215.74 147.75,215.79 147.55,215.8 147.35,215.78 147.15,215.78 146.95,215.8 146.75,215.78 146.55,215.73 146.35,215.64 146.15,215.49 145.95,215.26 145.75,214.6" fill="#1e78c0"/>
<rect x="210.8" y="207.2" width="2.2" height="15.6" rx="1.1" fill="#1e78c0"/>
<circle cx="149.5" cy="234.4" r="1.3" fill="#1e78c0"/>
<circle cx="155" cy="234.4" r="1.3" fill="#1e78c0"/>
<circle cx="232.3" cy="234.4" r="1.3" fill="#1e78c0"/>
<polygon points="158.22,234.24 158.42,233.57 158.62,233.34 158.82,233.2 159.02,233.11 159.22,233.05 159.42,233.04 159.62,233.05 159.82,233.1 160.02,233.17 160.21,233.09 160.41,233.05 160.61,233.04 160.81,233.06 161.01,233.13 161.21,233.23 161.41,233.39 161.61,233.28 161.81,233.18 162.01,233.12 162.21,233.1 162.41,233.11 162.61,233.16 162.81,233.2 163.01,233.13 163.21,233.1 163.41,233.11 163.61,233.15 163.81,233.2 164.01,233.1 164.21,233.05 164.41,233.02 164.61,233.03 164.81,233.08 165.01,233.16 165.21,233.19 165.41,233.13 165.61,233.1 165.81,233.11 166.01,233.15 166.21,233.23 166.41,233.19 166.61,233.13 166.81,233.1 167.01,233.11 167.21,233.15 167.41,233.23 167.61,233.34 167.81,233.2 168.01,233.11 168.21,233.06 168.41,233.05 168.61,233.06 168.81,233.12 169.01,233.21 169.21,233.16 169.41,233.11 169.61,233.1 169.81,233.12 170.01,233.18 170.2,233.14 170.4,233.1 170.6,233.1 170.8,233.14 171,233.16 171.2,233.1 171.4,233.07 171.6,233.08 171.8,233.13 172,233.21 172.2,233.34 172.4,233.32 172.6,233.2 172.8,233.14 173,233.1 173.2,233.11 173.4,233.14 173.6,233.2 173.8,233.13 174,233.1 174.2,233.11 174.4,233.14 174.6,233.22 174.8,233.2 175,233.13 175.2,233.1 175.4,233.11 175.6,233.14 175.8,233.22 176,233.14 176.2,233.11 176.4,233.1 176.6,233.13 176.8,233.2 177,233.31 177.2,233.2 177.4,233.13 177.6,233.1 177.8,233.11 178,233.14 178.2,233.18 178.4,233.12 178.6,233.1 178.8,233.11 179,233.16 179.2,233.25 179.4,233.38 179.6,233.38 179.8,233.24 180,233.16 180.19,233.11 180.39,233.1 180.59,233.12 180.79,233.13 180.99,233.1 181.19,233.11 181.39,233.14 181.59,233.22 181.79,233.34 181.99,233.35 182.19,233.22 182.39,233.15 182.59,233.11 182.79,233.1 182.99,233.13 183.19,233.2 183.39,233.27 183.59,233.17 183.79,233.12 183.99,233.1 184.19,233.11 184.39,233.16 184.59,233.25 184.79,233.21 184.99,233.14 185.19,233.1 185.39,233.1 185.59,233.14 185.79,233.08 185.99,233.05 186.19,233.04 186.39,233.08 186.59,233.14 186.79,233.26 186.99,233.36 187.19,233.23 187.39,233.15 187.59,233.11 187.79,233.1 187.99,233.13 188.19,233.11 188.39,233.09 188.59,233.1 188.79,233.15 188.99,233.23 189.19,233.23 189.39,233.15 189.59,233.11 189.79,233.1 189.99,233.13 190.18,233.19 190.38,233.21 190.58,233.14 190.78,233.1 190.98,233.1 191.18,233.14 191.38,233.21 191.58,233.32 191.78,233.21 191.98,233.12 192.18,233.07 192.38,233.06 192.58,233.08 192.78,233.13 192.98,233.12 193.18,233.1 193.38,233.11 193.58,233.16 193.78,233.25 193.98,233.17 194.18,233.12 194.38,233.1 194.58,233.11 194.78,233.16 194.98,233.25 195.18,233.37 195.38,233.21 195.58,233.11 195.78,233.05 195.98,233.02 196.18,233.03 196.38,233.07 196.58,233.15 196.78,233.13 196.98,233.1 197.18,233.11 197.38,233.14 197.58,233.17 197.78,233.09 197.98,233.05 198.18,233.05 198.38,233.08 198.58,233.14 198.78,233.25 198.98,233.3 199.18,233.19 199.38,233.13 199.58,233.1 199.78,233.11 199.98,233.15 200.17,233.2 200.37,233.13 200.57,233.1 200.77,233.11 200.97,233.14 201.17,233.15 201.37,233.07 201.57,233.03 201.77,233.02 201.97,233.05 202.17,233.11 202.37,233.21 202.57,233.16 202.77,233.11 202.97,233.1 203.17,233.12 203.37,233.18 203.57,233.13 203.77,233.07 203.97,233.05 204.17,233.06 204.37,233.08 204.57,232.89 204.77,232.78 204.97,232.7 205.17,232.67 205.37,232.67 205.57,232.7 205.77,232.77 205.97,232.7 206.17,232.6 206.37,232.53 206.57,232.51 206.77,232.52 206.97,232.56 207.17,232.64 207.37,232.77 207.57,232.84 207.77,232.79 207.97,232.77 208.17,232.79 208.37,232.84 208.57,232.94 208.77,233.03 208.97,232.95 209.17,232.91 209.37,232.91 209.57,232.94 209.77,233 209.97,232.98 210.16,232.9 210.36,232.85 210.56,232.84 210.76,232.86 210.96,232.92 211.16,233.01 211.36,233.15 211.56,233.11 211.76,233.1 211.96,233.13 212.16,233.11 212.36,233.1 212.56,233.13 212.76,233.19 212.96,233.3 213.16,233.22 213.36,233.14 213.56,233.11 213.76,233.1 213.96,233.13 214.16,233.16 214.36,233.04 214.56,232.97 214.76,232.93 214.96,232.93 215.16,232.96 215.36,233.03 215.56,233.15 215.76,233.13 215.96,233.1 216.16,233.11 216.36,233.15 216.56,233.23 216.76,233.2 216.96,233.13 217.16,233.1 217.36,233.11 217.56,233.15 217.76,233.22 217.96,233.35 218.16,233.34 218.36,233.22 218.56,233.14 218.76,233.11 218.96,233.1 219.16,233.13 219.36,233.2 219.56,233.22 219.76,233.15 219.96,233.11 220.15,233.1 220.35,233.13 220.55,233.2 220.75,233.19 220.95,233.13 221.15,233.1 221.35,233.11 221.55,233.15 221.75,233.2 221.95,233.13 222.15,233.1 222.35,233.11 222.55,233.14 222.75,233.22 222.95,233.16 223.15,233.11 223.35,233.1 223.55,233.12 223.75,233.18 223.95,233.27 224.15,233.15 224.35,233.07 224.55,233.03 224.75,233.03 224.95,233.05 225.15,233.09 225.35,233.03 225.55,232.99 225.75,233 225.95,233.03 226.15,233.1 226.35,233.22 226.55,233.25 226.75,233.16 226.95,233.11 227.15,233.1 227.35,233.12 227.55,233.18 227.75,233.27 227.95,233.26 228.15,233.17 228.35,233.12 228.55,233.1 228.75,233.12 228.95,233.17 229.15,233.26 229.35,233.41 229.55,233.64 229.75,234.3 229.75,234.6 229.55,235.26 229.35,235.49 229.15,235.64 228.95,235.73 228.75,235.78 228.55,235.8 228.35,235.78 228.15,235.73 227.95,235.64 227.75,235.53 227.55,235.62 227.35,235.68 227.15,235.7 226.95,235.69 226.75,235.64 226.55,235.55 226.35,235.47 226.15,235.59 225.95,235.66 225.75,235.69 225.55,235.7 225.35,235.67 225.15,235.71 224.95,235.77 224.75,235.8 224.55,235.79 224.35,235.75 224.15,235.68 223.95,235.55 223.75,235.62 223.55,235.68 223.35,235.7 223.15,235.69 222.95,235.64 222.75,235.58 222.55,235.66 222.35,235.69 222.15,235.7 221.95,235.67 221.75,235.68 221.55,235.76 221.35,235.8 221.15,235.81 220.95,235.78 220.75,235.72 220.55,235.61 220.35,235.67 220.15,235.7 219.96,235.69 219.76,235.65 219.56,235.58 219.36,235.6 219.16,235.67 218.96,235.7 218.76,235.69 218.56,235.66 218.36,235.58 218.16,235.46 217.96,235.45 217.76,235.58 217.56,235.65 217.36,235.69 217.16,235.7 216.96,235.67 216.76,235.6 216.56,235.66 216.36,235.74 216.16,235.78 215.96,235.79 215.76,235.76 215.56,235.7 215.36,235.76 215.16,235.83 214.96,235.86 214.76,235.86 214.56,235.82 214.36,235.75 214.16,235.63 213.96,235.67 213.76,235.7 213.56,235.69 213.36,235.66 213.16,235.58 212.96,235.71 212.76,235.82 212.56,235.88 212.36,235.91 212.16,235.9 211.96,235.88 211.76,235.91 211.56,235.91 211.36,235.87 211.16,235.79 210.96,235.67 210.76,235.68 210.56,235.7 210.36,235.69 210.16,235.64 209.97,235.55 209.77,235.61 209.57,235.67 209.37,235.7 209.17,235.69 208.97,235.65 208.77,235.59 208.57,235.74 208.37,235.83 208.17,235.89 207.97,235.91 207.77,235.89 207.57,235.84 207.37,236.01 207.17,236.13 206.97,236.21 206.77,236.26 206.57,236.26 206.37,236.24 206.17,236.18 205.97,236.07 205.77,235.91 205.57,235.78 205.37,235.81 205.17,235.81 204.97,235.78 204.77,235.71 204.57,235.59 204.37,235.64 204.17,235.69 203.97,235.7 203.77,235.68 203.57,235.62 203.37,235.66 203.17,235.72 202.97,235.74 202.77,235.73 202.57,235.69 202.37,235.6 202.17,235.61 201.97,235.67 201.77,235.7 201.57,235.69 201.37,235.65 201.17,235.61 200.97,235.69 200.77,235.73 200.57,235.73 200.37,235.7 200.17,235.63 199.98,235.65 199.78,235.69 199.58,235.7 199.38,235.67 199.18,235.61 198.98,235.5 198.78,235.5 198.58,235.6 198.38,235.67 198.18,235.7 197.98,235.69 197.78,235.65 197.58,235.58 197.38,235.66 197.18,235.69 196.98,235.7 196.78,235.67 196.58,235.6 196.38,235.65 196.18,235.69 195.98,235.7 195.78,235.67 195.58,235.61 195.38,235.51 195.18,235.41 194.98,235.55 194.78,235.64 194.58,235.69 194.38,235.7 194.18,235.68 193.98,235.63 193.78,235.55 193.58,235.64 193.38,235.69 193.18,235.7 192.98,235.68 192.78,235.68 192.58,235.74 192.38,235.76 192.18,235.74 191.98,235.69 191.78,235.6 191.58,235.48 191.38,235.59 191.18,235.66 190.98,235.7 190.78,235.7 190.58,235.66 190.38,235.6 190.18,235.71 189.99,235.77 189.79,235.8 189.59,235.79 189.39,235.75 189.19,235.67 188.99,235.65 188.79,235.74 188.59,235.78 188.39,235.79 188.19,235.77 187.99,235.75 187.79,235.78 187.59,235.77 187.39,235.73 187.19,235.65 186.99,235.53 186.79,235.48 186.59,235.6 186.39,235.66 186.19,235.7 185.99,235.69 185.79,235.66 185.59,235.66 185.39,235.7 185.19,235.7 184.99,235.66 184.79,235.59 184.59,235.55 184.39,235.64 184.19,235.69 183.99,235.7 183.79,235.68 183.59,235.63 183.39,235.53 183.19,235.6 182.99,235.67 182.79,235.7 182.59,235.69 182.39,235.65 182.19,235.58 181.99,235.45 181.79,235.46 181.59,235.58 181.39,235.66 181.19,235.69 180.99,235.7 180.79,235.69 180.59,235.75 180.39,235.77 180.19,235.76 180,235.72 179.8,235.63 179.6,235.5 179.4,235.42 179.2,235.55 179,235.64 178.8,235.69 178.6,235.7 178.4,235.68 178.2,235.62 178,235.66 177.8,235.69 177.6,235.7 177.4,235.67 177.2,235.6 177,235.49 176.8,235.6 176.6,235.67 176.4,235.7 176.2,235.69 176,235.66 175.8,235.58 175.6,235.66 175.4,235.69 175.2,235.7 175,235.67 174.8,235.6 174.6,235.63 174.4,235.71 174.2,235.74 174,235.74 173.8,235.71 173.6,235.64 173.4,235.66 173.2,235.69 173,235.7 172.8,235.66 172.6,235.6 172.4,235.48 172.2,235.43 172,235.56 171.8,235.65 171.6,235.69 171.4,235.7 171.2,235.68 171,235.62 170.8,235.66 170.6,235.7 170.4,235.7 170.2,235.66 170.01,235.62 169.81,235.68 169.61,235.7 169.41,235.69 169.21,235.64 169.01,235.55 168.81,235.63 168.61,235.68 168.41,235.7 168.21,235.68 168.01,235.63 167.81,235.54 167.61,235.44 167.41,235.57 167.21,235.65 167.01,235.69 166.81,235.7 166.61,235.67 166.41,235.61 166.21,235.57 166.01,235.65 165.81,235.69 165.61,235.7 165.41,235.67 165.21,235.61 165.01,235.56 164.81,235.64 164.61,235.69 164.41,235.7 164.21,235.68 164.01,235.62 163.81,235.58 163.61,235.65 163.41,235.69 163.21,235.7 163.01,235.67 162.81,235.6 162.61,235.64 162.41,235.69 162.21,235.7 162.01,235.68 161.81,235.62 161.61,235.52 161.41,235.36 161.21,235.51 161.01,235.61 160.81,235.67 160.61,235.7 160.41,235.69 160.21,235.65 160.02,235.57 159.82,235.63 159.62,235.68 159.42,235.7 159.22,235.68 159.02,235.63 158.82,235.54 158.62,235.39 158.42,235.16 158.22,234.5" fill="#1e78c0"/>
<rect x="210.9" y="226.4" width="2.1" height="16" rx="1.05" fill="#1e78c0"/>
<circle cx="123.9" cy="254.1" r="1.3" fill="#1e78c0"/>
<circle cx="136.3" cy="254.1" r="1.3" fill="#1e78c0"/>
<circle cx="140.7" cy="254.1" r="1.3" fill="#1e78c0"/>
<circle cx="179.3" cy="254.1" r="1.3" fill="#1e78c0"/>
<circle cx="257.5" cy="254.1" r="1.3" fill="#1e78c0"/>
<rect x="143" y="252.7" width="32.5" height="2.8" rx="1.4" fill="#1e78c0"/>
<rect x="210.8" y="246.1" width="3.1" height="15.9" rx="1.4" fill="#1e78c0"/>
<rect x="210.8" y="266" width="3.1" height="15.9" rx="1.4" fill="#ec225a"/>
<rect x="352" y="168" width="333" height="1" fill="#999"/>
<rect x="352" y="169" width="333" height="1" fill="#d0d0d0"/>
<rect x="352" y="317" width="333" height="1" fill="#a8a8a8"/>
<rect x="352" y="318" width="333" height="1" fill="#d4d4d4"/>
<rect x="352" y="168" width="1" height="151" fill="#888"/>
<rect x="684" y="168" width="1" height="151" fill="#909090"/>
<text x="359.7" y="185.20000000000002" font-family="Liberation Serif" font-weight="bold" font-size="17" fill="#1a0c0c">d</text>
<text x="400.8" y="198.0" font-family="Liberation Serif" font-size="8" fill="#333" text-anchor="end">U-TS(L,N,S)</text>
<line x1="415" y1="195.1" x2="642" y2="195.1" stroke="#e2e2e2" stroke-width="0.7" stroke-dasharray="0.8,1.2"/>
<text x="400.8" y="217.75" font-family="Liberation Serif" font-size="8" fill="#333" text-anchor="end">U-PE(L,N,S)</text>
<line x1="415" y1="214.85" x2="642" y2="214.85" stroke="#e2e2e2" stroke-width="0.7" stroke-dasharray="0.8,1.2"/>
<text x="400.8" y="237.5" font-family="Liberation Serif" font-size="8" fill="#333" text-anchor="end">U-PS(L,N,S)</text>
<line x1="415" y1="234.6" x2="642" y2="234.6" stroke="#e2e2e2" stroke-width="0.7" stroke-dasharray="0.8,1.2"/>
<text x="400.8" y="257.25" font-family="Liberation Serif" font-size="8" fill="#333" text-anchor="end">U-IB(L,N,S)</text>
<line x1="415" y1="254.35" x2="642" y2="254.35" stroke="#e2e2e2" stroke-width="0.7" stroke-dasharray="0.8,1.2"/>
<text x="400.8" y="277.0" font-family="Liberation Serif" font-size="8" fill="#333" text-anchor="end">U-OB(L,N,S)</text>
<line x1="415" y1="274.1" x2="642" y2="274.1" stroke="#e2e2e2" stroke-width="0.7" stroke-dasharray="0.8,1.2"/>
<rect x="522.8" y="175.5" width="1.7" height="118.0" fill="#c2c2c6"/>
<line x1="415" y1="293.5" x2="642.3" y2="293.5" stroke="#666" stroke-width="1"/>
<line x1="442.8" y1="293.5" x2="442.8" y2="295.7" stroke="#555" stroke-width="0.8"/>
<text x="442.8" y="302.8" font-family="Liberation Serif" font-size="7" fill="#333" text-anchor="middle">−1.0</text>
<line x1="483.22" y1="293.5" x2="483.22" y2="295.7" stroke="#555" stroke-width="0.8"/>
<text x="483.22" y="302.8" font-family="Liberation Serif" font-size="7" fill="#333" text-anchor="middle">−0.5</text>
<line x1="523.65" y1="293.5" x2="523.65" y2="295.7" stroke="#555" stroke-width="0.8"/>
<text x="523.65" y="302.8" font-family="Liberation Serif" font-size="7" fill="#333" text-anchor="middle">0.0</text>
<line x1="564.07" y1="293.5" x2="564.07" y2="295.7" stroke="#555" stroke-width="0.8"/>
<text x="564.07" y="302.8" font-family="Liberation Serif" font-size="7" fill="#333" text-anchor="middle">0.5</text>
<line x1="604.5" y1="293.5" x2="604.5" y2="295.7" stroke="#555" stroke-width="0.8"/>
<text x="604.5" y="302.8" font-family="Liberation Serif" font-size="7" fill="#333" text-anchor="middle">1.0</text>
<text x="528.6" y="312.4" font-family="Liberation Serif" font-size="8" fill="#333" text-anchor="middle">LIME value (impact on model output)</text>
<rect x="656.1" y="174.8" width="2" height="118.6" fill="url(#cb)"/>
<text x="660.3" y="178.3" font-family="Liberation Serif" font-size="7" fill="#333">High</text>
<text x="660.4" y="296.4" font-family="Liberation Serif" font-size="7" fill="#333">Low</text>
<text transform="translate(679.3,234.4) rotate(-90)" font-family="Liberation Serif" font-size="7.35" fill="#333" text-anchor="middle">Feature value</text>
<circle cx="425.3" cy="195" r="1.3" fill="#1e78c0"/>
<circle cx="523.3" cy="195" r="1.3" fill="#1e78c0"/>
<circle cx="562.2" cy="195" r="1.3" fill="#1e78c0"/>
<circle cx="566.1" cy="195" r="1.3" fill="#1e78c0"/>
<circle cx="569.6" cy="195" r="1.3" fill="#1e78c0"/>
<circle cx="577.4" cy="195" r="1.3" fill="#1e78c0"/>
<circle cx="632.1" cy="195" r="1.3" fill="#1e78c0"/>
<polygon points="583.1,195 583.3,194.24 583.5,194.01 583.7,193.86 583.9,193.77 584.1,193.72 584.3,193.7 584.5,193.72 584.7,193.77 584.9,193.73 585.1,193.7 585.3,193.71 585.5,193.75 585.7,193.83 585.9,193.77 586.1,193.72 586.3,193.7 586.5,193.72 586.7,193.77 586.9,193.75 587.09,193.7 587.29,193.69 587.49,193.71 587.69,193.71 587.89,193.65 588.09,193.63 588.29,193.64 588.49,193.69 588.69,193.77 588.89,193.73 589.09,193.69 589.29,193.69 589.49,193.71 589.69,193.77 589.89,193.66 590.09,193.59 590.29,193.56 590.49,193.56 590.69,193.58 590.89,193.44 591.09,193.36 591.29,193.31 591.49,193.3 591.69,193.2 591.89,193.11 592.09,193.06 592.29,193.05 592.49,193.07 592.69,193.12 592.89,193.15 593.09,193.11 593.29,193.1 593.49,193.13 593.69,193.07 593.89,192.93 594.09,192.84 594.29,192.8 594.49,192.78 594.69,192.7 594.89,192.63 595.09,192.59 595.29,192.58 595.49,192.61 595.69,192.68 595.89,192.61 596.09,192.55 596.28,192.54 596.48,192.56 596.68,192.61 596.88,192.7 597.08,192.77 597.28,192.47 597.48,192.29 597.68,192.18 597.88,192.11 598.08,192.08 598.28,192.08 598.48,192.12 598.68,192.19 598.88,192.21 599.08,192.12 599.28,192.07 599.48,192.05 599.68,191.92 599.88,191.76 600.08,191.65 600.28,191.59 600.48,191.57 600.68,191.57 600.88,191.61 601.08,191.66 601.28,191.65 601.48,191.69 601.68,191.56 601.88,191.38 602.08,191.26 602.28,191.19 602.48,191.16 602.68,191.16 602.88,191.2 603.08,191.27 603.28,191.35 603.48,191.33 603.68,191.34 603.88,191.39 604.08,191.48 604.28,191.45 604.48,191.34 604.68,191.15 604.88,191.03 605.08,190.95 605.28,190.91 605.47,190.91 605.67,190.94 605.87,190.9 606.07,189.55 606.27,189.3 606.47,189.14 606.67,189.04 606.87,188.98 607.07,188.95 607.27,188.96 607.47,188.87 607.67,188.6 607.87,188.44 608.07,188.34 608.27,188.28 608.47,188.25 608.67,188.26 608.87,188.3 609.07,188.38 609.27,188.51 609.47,188.71 609.67,189.09 609.87,188.98 610.07,188.9 610.27,188.43 610.47,188.16 610.67,187.99 610.87,187.88 611.07,187.82 611.27,187.79 611.47,187.8 611.67,187.84 611.87,187.85 612.07,187.75 612.27,187.7 612.47,187.68 612.67,187.7 612.87,187.75 613.07,187.84 613.27,187.99 613.47,188.21 613.67,187.95 613.87,187.77 614.07,187.64 614.27,187.57 614.47,187.53 614.66,187.53 614.86,187.56 615.06,187.62 615.26,187.73 615.46,187.91 615.66,188.13 615.86,187.99 616.06,187.89 616.26,187.84 616.46,187.82 616.66,187.84 616.86,187.89 617.06,187.98 617.26,188.12 617.46,188.35 617.66,188.89 617.86,188.79 618.06,188.68 618.26,188.62 618.46,188.6 618.66,188.6 618.86,188.65 619.06,188.65 619.26,188.66 619.46,188.69 619.66,188.77 619.86,188.87 620.06,188.82 620.26,188.81 620.46,188.84 620.66,188.9 620.86,189 621.06,189.16 621.26,189.42 621.46,190.23 621.66,189.88 621.86,189.68 622.06,189.56 622.26,189.48 622.46,189.45 622.66,189.44 622.86,189.47 623.06,189.53 623.26,189.64 623.46,189.81 623.66,190.1 623.85,190.73 624.05,190.87 624.25,191.09 624.45,191.47 624.65,191.47 624.85,191.49 625.05,191.56 625.25,191.66 625.45,191.83 625.65,192.1 625.85,192.7 626.05,192.85 626.25,192.9 626.45,192.88 626.65,192.9 626.85,192.95 627.05,193.04 627.25,193.18 627.45,193.41 627.65,193.56 627.85,193.56 628.05,193.59 628.25,193.66 628.45,193.73 628.65,193.79 628.85,193.77 629.05,193.72 629.25,193.7 629.45,193.72 629.65,193.77 629.85,193.86 630.05,194.01 630.25,194.24 630.45,195 630.45,195 630.25,195.76 630.05,195.99 629.85,196.14 629.65,196.23 629.45,196.28 629.25,196.3 629.05,196.28 628.85,196.23 628.65,196.33 628.45,196.5 628.25,196.61 628.05,196.68 627.85,196.71 627.65,196.71 627.45,196.67 627.25,196.77 627.05,196.92 626.85,197.01 626.65,197.06 626.45,197.07 626.25,197.06 626.05,197.25 625.85,197.4 625.65,197.5 625.45,197.7 625.25,197.86 625.05,197.97 624.85,198.03 624.65,198.06 624.45,198.05 624.25,198.45 624.05,198.67 623.85,198.81 623.66,199.95 623.46,200.24 623.26,200.41 623.06,200.51 622.86,200.58 622.66,200.61 622.46,200.6 622.26,200.72 622.06,200.81 621.86,200.86 621.66,200.87 621.46,200.85 621.26,200.8 621.06,200.7 620.86,200.56 620.66,200.4 620.46,200.46 620.26,200.64 620.06,200.97 619.86,201.16 619.66,201.28 619.46,201.36 619.26,201.46 619.06,201.59 618.86,201.67 618.66,201.71 618.46,201.72 618.26,201.69 618.06,201.63 617.86,201.53 617.66,201.37 617.46,201.33 617.26,201.56 617.06,201.7 616.86,201.79 616.66,201.84 616.46,201.86 616.26,201.84 616.06,201.79 615.86,201.7 615.66,201.82 615.46,202.11 615.26,202.28 615.06,202.4 614.86,202.46 614.66,202.49 614.47,202.49 614.27,202.45 614.07,202.53 613.87,202.63 613.67,202.69 613.47,202.71 613.27,202.7 613.07,202.65 612.87,202.57 612.67,202.43 612.47,202.24 612.27,202.23 612.07,202.17 611.87,202.1 611.67,202.18 611.47,202.22 611.27,202.23 611.07,202.2 610.87,202.13 610.67,202.03 610.47,201.86 610.27,201.58 610.07,201.21 609.87,201.17 609.67,201.26 609.47,201.4 609.27,201.6 609.07,201.73 608.87,201.81 608.67,201.85 608.47,201.86 608.27,201.84 608.07,201.77 607.87,201.67 607.67,201.51 607.47,201.24 607.27,200.58 607.07,200.59 606.87,200.56 606.67,200.5 606.47,200.4 606.27,200.24 606.07,199.99 605.87,199.55 605.67,199.41 605.47,199.2 605.28,199.01 605.08,198.97 604.88,198.9 604.68,198.86 604.48,198.89 604.28,198.88 604.08,198.84 603.88,198.77 603.68,198.64 603.48,198.62 603.28,198.6 603.08,198.67 602.88,198.74 602.68,198.78 602.48,198.78 602.28,198.74 602.08,198.67 601.88,198.56 601.68,198.53 601.48,198.6 601.28,198.63 601.08,198.63 600.88,198.59 600.68,198.52 600.48,198.4 600.28,198.21 600.08,197.93 599.88,197.84 599.68,197.89 599.48,197.91 599.28,197.9 599.08,197.85 598.88,197.76 598.68,197.82 598.48,197.89 598.28,197.93 598.08,197.93 597.88,197.89 597.68,197.83 597.48,197.71 597.28,197.54 597.08,197.48 596.88,197.42 596.68,197.51 596.48,197.56 596.28,197.58 596.09,197.56 595.89,197.51 595.69,197.42 595.49,197.27 595.29,197.12 595.09,197.12 594.89,197.08 594.69,197.13 594.49,197.15 594.29,197.14 594.09,197.09 593.89,197.01 593.69,197.06 593.49,197.12 593.29,197.15 593.09,197.14 592.89,197.1 592.69,197.03 592.49,196.9 592.29,196.91 592.09,196.89 591.89,196.85 591.69,196.79 591.49,196.81 591.29,196.8 591.09,196.75 590.89,196.67 590.69,196.69 590.49,196.73 590.29,196.73 590.09,196.7 589.89,196.63 589.69,196.52 589.49,196.48 589.29,196.51 589.09,196.51 588.89,196.47 588.69,196.39 588.49,196.27 588.29,196.29 588.09,196.3 587.89,196.29 587.69,196.39 587.49,196.44 587.29,196.46 587.09,196.44 586.9,196.39 586.7,196.3 586.5,196.35 586.3,196.37 586.1,196.35 585.9,196.3 585.7,196.21 585.5,196.25 585.3,196.29 585.1,196.3 584.9,196.27 584.7,196.23 584.5,196.28 584.3,196.3 584.1,196.28 583.9,196.23 583.7,196.14 583.5,195.99 583.3,195.76 583.1,195" fill="#1e78c0"/>
<polygon points="515.24,214.6 515.44,213.84 515.64,213.61 515.84,213.46 516.03,212.26 516.23,211.85 516.43,211.64 516.63,211.5 516.83,211.42 517.03,210.63 517.23,210.23 517.42,210.03 517.62,209.89 517.82,209.81 518.02,209.77 518.22,209.76 518.42,209.59 518.62,209.47 518.82,209.29 519.01,209 519.21,208.84 519.41,208.73 519.61,208.66 519.81,208.63 520.01,208.63 520.21,208.67 520.4,208.59 520.6,208.55 520.8,208.54 521,208.56 521.2,208.61 521.4,208.71 521.6,208.87 521.8,209.11 521.99,209.55 522.19,209.48 522.39,209.45 522.59,209.46 522.79,209.49 522.99,209.57 523.19,209.69 523.38,209.87 523.58,209.69 523.78,209.43 523.98,209.27 524.18,209.17 524.38,209.11 524.58,209.09 524.77,209.09 524.97,209 525.17,208.91 525.37,208.8 525.57,208.53 525.77,208.37 525.97,208.27 526.17,208.2 526.36,208.18 526.56,208.18 526.76,208.13 526.96,208.11 527.16,208.13 527.36,208.18 527.56,208.26 527.75,208.4 527.95,208.63 528.15,208.88 528.35,208.92 528.55,208.99 528.75,209.11 528.95,209.29 529.15,209.61 529.34,210.61 529.54,210.72 529.74,210.89 529.94,211.19 530.14,213.46 530.34,213.61 530.54,213.84 530.73,214.6 530.73,214.6 530.54,215.36 530.34,215.59 530.14,215.74 529.94,218.59 529.74,218.89 529.54,219.06 529.34,219.18 529.15,219.43 528.95,219.75 528.75,219.94 528.55,220.06 528.35,220.13 528.15,220.29 527.95,220.78 527.75,221 527.56,221.14 527.36,221.23 527.16,221.28 526.96,221.3 526.76,221.28 526.56,221.23 526.36,221.13 526.17,220.99 525.97,221 525.77,221.05 525.57,221.07 525.37,221.06 525.17,221.01 524.97,220.92 524.77,220.78 524.58,220.56 524.38,220.37 524.18,220.31 523.98,220.21 523.78,220.05 523.58,219.79 523.38,219.44 523.19,219.63 522.99,219.75 522.79,219.82 522.59,219.86 522.39,219.86 522.19,219.83 521.99,219.76 521.8,220.12 521.6,220.36 521.4,220.52 521.2,220.61 521,220.67 520.8,220.69 520.6,220.68 520.4,220.64 520.21,220.55 520.01,220.42 519.81,220.29 519.61,220.26 519.41,220.27 519.21,220.3 519.01,220.29 518.82,220.25 518.62,220.17 518.42,220.04 518.22,219.84 518.02,219.47 517.82,219.23 517.62,219.15 517.42,219.01 517.23,218.81 517.03,218.41 516.83,218.03 516.63,217.95 516.43,217.82 516.23,217.61 516.03,217.19 515.84,215.74 515.64,215.59 515.44,215.36 515.24,214.6" fill="#ec225a"/>
<circle cx="527.4" cy="211.5" r="0.7" fill="#8a3aa0"/>
<rect x="511.1" y="232.8" width="19.8" height="3.2" rx="1.6" fill="#1e78c0"/>
<polygon points="521.3,232.6 522.5,230.9 523.7,226.9 524.9,230.9 526.1,232.6 526.1,236.2 524.9,237.9 523.7,241.9 522.5,237.9 521.3,236.2" fill="#1e78c0" stroke="#1e78c0" stroke-width="0.8" stroke-linejoin="round"/>
<rect x="522" y="246.1" width="3.3" height="15.6" rx="1.4" fill="#1e78c0"/>
<rect x="519" y="252.8" width="7.5" height="3" rx="1.5" fill="#1e78c0"/>
<rect x="522" y="265.7" width="3.5" height="15.8" rx="1.4" fill="#ec225a"/>
<rect x="0" y="327" width="333" height="1" fill="#686868"/>
<rect x="0" y="476" width="333" height="1" fill="#686868"/>
<rect x="0" y="327" width="1" height="150" fill="#8a8a8a"/>
<rect x="332" y="327" width="1" height="150" fill="#b0b0b0"/>
<rect x="333" y="327" width="1" height="150" fill="#d2d2d2"/>
<text x="8.3" y="343.8" font-family="Liberation Serif" font-weight="bold" font-size="17" fill="#1a0c0c">e</text>
<text x="48.8" y="356.5" font-family="Liberation Serif" font-size="8" fill="#333" text-anchor="end">U-TS(L,N,S)</text>
<line x1="63" y1="353.6" x2="290" y2="353.6" stroke="#e2e2e2" stroke-width="0.7" stroke-dasharray="0.8,1.2"/>
<text x="48.8" y="376.25" font-family="Liberation Serif" font-size="8" fill="#333" text-anchor="end">U-IB(L,N,S)</text>
<line x1="63" y1="373.35" x2="290" y2="373.35" stroke="#e2e2e2" stroke-width="0.7" stroke-dasharray="0.8,1.2"/>
<text x="48.8" y="396.0" font-family="Liberation Serif" font-size="8" fill="#333" text-anchor="end">U-PS(L,N,S)</text>
<line x1="63" y1="393.1" x2="290" y2="393.1" stroke="#e2e2e2" stroke-width="0.7" stroke-dasharray="0.8,1.2"/>
<text x="48.8" y="415.75" font-family="Liberation Serif" font-size="8" fill="#333" text-anchor="end">U-PE(L,N,S)</text>
<line x1="63" y1="412.85" x2="290" y2="412.85" stroke="#e2e2e2" stroke-width="0.7" stroke-dasharray="0.8,1.2"/>
<text x="48.8" y="435.5" font-family="Liberation Serif" font-size="8" fill="#333" text-anchor="end">U-OB(L,N,S)</text>
<line x1="63" y1="432.6" x2="290" y2="432.6" stroke="#e2e2e2" stroke-width="0.7" stroke-dasharray="0.8,1.2"/>
<rect x="196.85" y="334" width="1.7" height="118.5" fill="#c2c2c6"/>
<line x1="63" y1="452.5" x2="290.3" y2="452.5" stroke="#666" stroke-width="1"/>
<line x1="65.2" y1="452.5" x2="65.2" y2="454.7" stroke="#555" stroke-width="0.8"/>
<text x="65.2" y="460.8" font-family="Liberation Serif" font-size="7" fill="#333" text-anchor="middle">−1.25</text>
<line x1="91.7" y1="452.5" x2="91.7" y2="454.7" stroke="#555" stroke-width="0.8"/>
<text x="91.7" y="460.8" font-family="Liberation Serif" font-size="7" fill="#333" text-anchor="middle">−1.00</text>
<line x1="118.2" y1="452.5" x2="118.2" y2="454.7" stroke="#555" stroke-width="0.8"/>
<text x="118.2" y="460.8" font-family="Liberation Serif" font-size="7" fill="#333" text-anchor="middle">−0.75</text>
<line x1="144.7" y1="452.5" x2="144.7" y2="454.7" stroke="#555" stroke-width="0.8"/>
<text x="144.7" y="460.8" font-family="Liberation Serif" font-size="7" fill="#333" text-anchor="middle">−0.50</text>
<line x1="171.2" y1="452.5" x2="171.2" y2="454.7" stroke="#555" stroke-width="0.8"/>
<text x="171.2" y="460.8" font-family="Liberation Serif" font-size="7" fill="#333" text-anchor="middle">−0.25</text>
<line x1="197.7" y1="452.5" x2="197.7" y2="454.7" stroke="#555" stroke-width="0.8"/>
<text x="197.7" y="460.8" font-family="Liberation Serif" font-size="7" fill="#333" text-anchor="middle">0.00</text>
<line x1="224.2" y1="452.5" x2="224.2" y2="454.7" stroke="#555" stroke-width="0.8"/>
<text x="224.2" y="460.8" font-family="Liberation Serif" font-size="7" fill="#333" text-anchor="middle">0.25</text>
<line x1="250.7" y1="452.5" x2="250.7" y2="454.7" stroke="#555" stroke-width="0.8"/>
<text x="250.7" y="460.8" font-family="Liberation Serif" font-size="7" fill="#333" text-anchor="middle">0.50</text>
<line x1="277.2" y1="452.5" x2="277.2" y2="454.7" stroke="#555" stroke-width="0.8"/>
<text x="277.2" y="460.8" font-family="Liberation Serif" font-size="7" fill="#333" text-anchor="middle">0.75</text>
<text x="176.6" y="470.9" font-family="Liberation Serif" font-size="8" fill="#333" text-anchor="middle">LIME value (impact on model output)</text>
<rect x="304.1" y="333.3" width="2" height="118.6" fill="url(#cb)"/>
<text x="308.3" y="336.8" font-family="Liberation Serif" font-size="7" fill="#333">High</text>
<text x="308.4" y="454.9" font-family="Liberation Serif" font-size="7" fill="#333">Low</text>
<text transform="translate(327.3,392.9) rotate(-90)" font-family="Liberation Serif" font-size="7.35" fill="#333" text-anchor="middle">Feature value</text>
<circle cx="73.4" cy="353.8" r="1.3" fill="#cd1680"/>
<circle cx="80" cy="353.8" r="1.3" fill="#1e78c0"/>
<circle cx="83.9" cy="353.8" r="1.3" fill="#cd1680"/>
<circle cx="89" cy="353.8" r="1.3" fill="#1e78c0"/>
<circle cx="100" cy="353.8" r="1.3" fill="#ec225a"/>
<circle cx="104.7" cy="353.8" r="1.3" fill="#1e78c0"/>
<circle cx="108.3" cy="353.8" r="1.3" fill="#1e78c0"/>
<circle cx="110.5" cy="353.8" r="1.3" fill="#ec225a"/>
<polygon points="194.02,352.09 194.22,351.42 194.42,351.19 194.62,351.05 194.82,350.95 195.02,350.9 195.22,350.89 195.42,350.9 195.62,350.95 195.82,351.05 196.02,351.14 196.22,351.15 196.42,351.2 196.62,351.21 196.82,351.04 197.02,350.92 197.22,350.85 197.42,350.82 197.62,350.82 197.82,350.85 198.02,350.93 198.22,350.98 198.42,350.9 198.62,350.86 198.82,350.86 199.02,350.88 199.22,350.94 199.42,350.91 199.62,350.87 199.82,350.87 200.02,350.9 200.22,350.97 200.42,351.04 200.62,351.03 200.82,351.05 201.02,351.11 201.22,351.21 201.42,351.36 201.62,351.3 201.82,351.27 202.02,351.28 202.22,351.32 202.42,351.3 202.62,351.15 202.82,351.05 203.02,350.99 203.22,350.97 203.42,350.98 203.62,351.03 203.82,351.11 204.02,351.17 204.22,351.1 204.42,351.08 204.62,351.08 204.82,351.12 205.02,351.2 205.21,351.32 205.41,351.51 205.61,351.56 205.81,351.48 206.01,351.41 206.21,351.38 206.41,351.39 206.61,351.43 206.81,351.51 207.01,351.49 207.21,351.41 207.41,351.37 207.61,351.37 207.81,351.39 208.01,351.46 208.21,351.56 208.41,351.73 208.61,352.01 208.81,352.43 209.01,352.44 209.21,352.5 209.41,352.59 209.61,352.73 209.81,352.96 210.01,353.63 210.01,354.02 209.81,354.69 209.61,354.92 209.41,355.06 209.21,355.15 209.01,355.21 208.81,355.22 208.61,355.34 208.41,355.62 208.21,355.78 208.01,355.89 207.81,355.95 207.61,355.98 207.41,355.97 207.21,355.97 207.01,356.16 206.81,356.29 206.61,356.37 206.41,356.41 206.21,356.41 206.01,356.38 205.81,356.32 205.61,356.28 205.41,356.31 205.21,356.31 205.02,356.27 204.82,356.3 204.62,356.34 204.42,356.34 204.22,356.31 204.02,356.25 203.82,356.14 203.62,356.18 203.42,356.22 203.22,356.23 203.02,356.21 202.82,356.16 202.62,356.06 202.42,356.16 202.22,356.24 202.02,356.29 201.82,356.29 201.62,356.27 201.42,356.36 201.22,356.52 201.02,356.62 200.82,356.68 200.62,356.71 200.42,356.7 200.22,356.65 200.02,356.57 199.82,356.51 199.62,356.51 199.42,356.48 199.22,356.4 199.02,356.38 198.82,356.41 198.62,356.4 198.42,356.36 198.22,356.32 198.02,356.44 197.82,356.51 197.62,356.55 197.42,356.55 197.22,356.52 197.02,356.45 196.82,356.33 196.62,356.15 196.42,356.21 196.22,356.26 196.02,356.28 195.82,356.26 195.62,356.26 195.42,356.31 195.22,356.33 195.02,356.31 194.82,356.26 194.62,356.17 194.42,356.02 194.22,355.79 194.02,355.13" fill="#1e78c0"/>
<circle cx="149.56" cy="353.75" r="1.45" fill="#ec225a"/>
<circle cx="177.24" cy="353.71" r="1.45" fill="#1e78c0"/>
<circle cx="173.66" cy="353.63" r="1.45" fill="#1e78c0"/>
<circle cx="175.23" cy="356.56" r="1.45" fill="#ec225a"/>
<circle cx="132.23" cy="353.74" r="1.45" fill="#cd1680"/>
<circle cx="185.23" cy="352.13" r="1.45" fill="#1e78c0"/>
<circle cx="178.83" cy="356.4" r="1.45" fill="#ec225a"/>
<circle cx="168.61" cy="353.73" r="1.45" fill="#8a3aa0"/>
<circle cx="156.2" cy="352.18" r="1.45" fill="#cd1680"/>
<circle cx="148.1" cy="350.97" r="1.45" fill="#cd1680"/>
<circle cx="187.81" cy="356.37" r="1.45" fill="#ec225a"/>
<circle cx="164.72" cy="354.83" r="1.45" fill="#ec225a"/>
<circle cx="167.98" cy="353.91" r="1.45" fill="#ec225a"/>
<circle cx="177.48" cy="353.01" r="1.45" fill="#cd1680"/>
<circle cx="173.49" cy="351.23" r="1.45" fill="#1e78c0"/>
<circle cx="165.23" cy="357.22" r="1.45" fill="#ec225a"/>
<circle cx="156.23" cy="354.84" r="1.45" fill="#ec225a"/>
<circle cx="124.03" cy="353.82" r="1.45" fill="#cd1680"/>
<circle cx="172.31" cy="354.88" r="1.45" fill="#ec225a"/>
<circle cx="157.46" cy="356.69" r="1.45" fill="#cd1680"/>
<circle cx="150.01" cy="354.55" r="1.45" fill="#cd1680"/>
<circle cx="165.33" cy="355.77" r="1.45" fill="#1e78c0"/>
<circle cx="178.14" cy="355.74" r="1.45" fill="#ec225a"/>
<circle cx="180.49" cy="352.81" r="1.45" fill="#1e78c0"/>
<circle cx="168.59" cy="355.52" r="1.45" fill="#ec225a"/>
<circle cx="169.04" cy="350.98" r="1.45" fill="#1e78c0"/>
<circle cx="179.61" cy="350.38" r="1.45" fill="#ec225a"/>
<circle cx="169.45" cy="352.91" r="1.45" fill="#1e78c0"/>
<circle cx="156.43" cy="353.9" r="1.45" fill="#1e78c0"/>
<circle cx="166.3" cy="351.24" r="1.45" fill="#8a3aa0"/>
<circle cx="159.56" cy="352.17" r="1.45" fill="#cd1680"/>
<circle cx="167.67" cy="355.61" r="1.45" fill="#1e78c0"/>
<circle cx="170.19" cy="357.31" r="1.45" fill="#1e78c0"/>
<circle cx="189.25" cy="353.93" r="1.45" fill="#1e78c0"/>
<circle cx="144.83" cy="351.97" r="1.45" fill="#cd1680"/>
<circle cx="159.19" cy="355.61" r="1.45" fill="#ec225a"/>
<circle cx="167.56" cy="351.94" r="1.45" fill="#cd1680"/>
<circle cx="159.68" cy="353.92" r="1.45" fill="#cd1680"/>
<circle cx="162.33" cy="352.9" r="1.45" fill="#1e78c0"/>
<circle cx="134.39" cy="352.96" r="1.45" fill="#8a3aa0"/>
<circle cx="183.33" cy="351.98" r="1.45" fill="#cd1680"/>
<circle cx="175.05" cy="352.04" r="1.45" fill="#1e78c0"/>
<circle cx="187.46" cy="351.21" r="1.45" fill="#cd1680"/>
<circle cx="163.15" cy="351.9" r="1.45" fill="#ec225a"/>
<circle cx="172.36" cy="351.9" r="1.45" fill="#1e78c0"/>
<circle cx="157.6" cy="351.97" r="1.45" fill="#cd1680"/>
<circle cx="169.47" cy="358.33" r="1.45" fill="#cd1680"/>
<circle cx="179.81" cy="351.84" r="1.45" fill="#cd1680"/>
<circle cx="122.43" cy="353.68" r="1.45" fill="#ec225a"/>
<circle cx="152.77" cy="354.51" r="1.45" fill="#ec225a"/>
<circle cx="196.23" cy="352.94" r="1.45" fill="#1e78c0"/>
<circle cx="156.75" cy="353.08" r="1.45" fill="#1e78c0"/>
<circle cx="146.28" cy="353.63" r="1.45" fill="#cd1680"/>
<circle cx="170.1" cy="351.87" r="1.45" fill="#ec225a"/>
<circle cx="143.37" cy="351.26" r="1.45" fill="#1e78c0"/>
<circle cx="144.15" cy="352.97" r="1.45" fill="#1e78c0"/>
<circle cx="192.73" cy="354.64" r="1.45" fill="#ec225a"/>
<circle cx="180.69" cy="357.48" r="1.45" fill="#cd1680"/>
<circle cx="173.35" cy="350.14" r="1.45" fill="#cd1680"/>
<circle cx="173.35" cy="355.68" r="1.45" fill="#1e78c0"/>
<circle cx="143.15" cy="353.99" r="1.45" fill="#1e78c0"/>
<circle cx="164.41" cy="349.25" r="1.45" fill="#ec225a"/>
<circle cx="135.94" cy="353.72" r="1.45" fill="#cd1680"/>
<circle cx="165.93" cy="353.75" r="1.45" fill="#1e78c0"/>
<circle cx="175.38" cy="353.69" r="1.45" fill="#ec225a"/>
<circle cx="167.43" cy="350.18" r="1.45" fill="#cd1680"/>
<circle cx="187.75" cy="355.5" r="1.45" fill="#1e78c0"/>
<circle cx="172.28" cy="359.05" r="1.45" fill="#ec225a"/>
<circle cx="186.8" cy="355.43" r="1.45" fill="#cd1680"/>
<circle cx="172.68" cy="349.29" r="1.45" fill="#cd1680"/>
<circle cx="171.8" cy="348.59" r="1.45" fill="#1e78c0"/>
<circle cx="162.67" cy="355.51" r="1.45" fill="#8a3aa0"/>
<circle cx="159.47" cy="357.41" r="1.45" fill="#1e78c0"/>
<circle cx="165.4" cy="352.03" r="1.45" fill="#ec225a"/>
<circle cx="189.49" cy="352.92" r="1.45" fill="#1e78c0"/>
<circle cx="164.24" cy="355.71" r="1.45" fill="#cd1680"/>
<circle cx="112.92" cy="354" r="1.45" fill="#cd1680"/>
<circle cx="144.59" cy="354.83" r="1.45" fill="#ec225a"/>
<circle cx="146.81" cy="352.81" r="1.45" fill="#1e78c0"/>
<circle cx="168.64" cy="359.2" r="1.45" fill="#ec225a"/>
<circle cx="170.05" cy="350.9" r="1.45" fill="#cd1680"/>
<circle cx="156.13" cy="355.5" r="1.45" fill="#1e78c0"/>
<circle cx="161.37" cy="355.58" r="1.45" fill="#ec225a"/>
<circle cx="151.59" cy="352.91" r="1.45" fill="#ec225a"/>
<circle cx="188.23" cy="352.17" r="1.45" fill="#ec225a"/>
<circle cx="139.16" cy="353.68" r="1.45" fill="#1e78c0"/>
<circle cx="161.16" cy="354.84" r="1.45" fill="#cd1680"/>
<circle cx="186.2" cy="353.68" r="1.45" fill="#cd1680"/>
<circle cx="163.63" cy="356.61" r="1.45" fill="#ec225a"/>
<circle cx="196.09" cy="354.88" r="1.45" fill="#ec225a"/>
<circle cx="133.56" cy="354.56" r="1.45" fill="#cd1680"/>
<circle cx="145.62" cy="352.84" r="1.45" fill="#1e78c0"/>
<circle cx="140.01" cy="350.99" r="1.45" fill="#1e78c0"/>
<circle cx="154.47" cy="352.75" r="1.45" fill="#1e78c0"/>
<circle cx="144.87" cy="355.63" r="1.45" fill="#1e78c0"/>
<circle cx="190.72" cy="351.82" r="1.45" fill="#ec225a"/>
<circle cx="183.12" cy="355.52" r="1.45" fill="#cd1680"/>
<circle cx="172.71" cy="351.23" r="1.45" fill="#1e78c0"/>
<circle cx="157.75" cy="355.61" r="1.45" fill="#1e78c0"/>
<circle cx="177.96" cy="351.92" r="1.45" fill="#ec225a"/>
<circle cx="164.08" cy="352.97" r="1.45" fill="#cd1680"/>
<circle cx="186.41" cy="352.75" r="1.45" fill="#1e78c0"/>
<circle cx="160.09" cy="350.21" r="1.45" fill="#1e78c0"/>
<circle cx="183.53" cy="354.6" r="1.45" fill="#1e78c0"/>
<circle cx="174.82" cy="359.12" r="1.45" fill="#1e78c0"/>
<circle cx="148.87" cy="352" r="1.45" fill="#1e78c0"/>
<circle cx="175.89" cy="354.74" r="1.45" fill="#1e78c0"/>
<circle cx="160.09" cy="351.02" r="1.45" fill="#1e78c0"/>
<circle cx="160" cy="352.71" r="1.45" fill="#cd1680"/>
<circle cx="183.07" cy="352.75" r="1.45" fill="#cd1680"/>
<circle cx="157.84" cy="351.1" r="1.45" fill="#1e78c0"/>
<circle cx="189.92" cy="355.76" r="1.45" fill="#cd1680"/>
<circle cx="127.65" cy="353.65" r="1.45" fill="#8a3aa0"/>
<circle cx="166.22" cy="353.04" r="1.45" fill="#ec225a"/>
<circle cx="164.57" cy="352.1" r="1.45" fill="#cd1680"/>
<circle cx="162.12" cy="350.16" r="1.45" fill="#ec225a"/>
<circle cx="119.54" cy="353.91" r="1.45" fill="#cd1680"/>
<circle cx="164.27" cy="350.39" r="1.45" fill="#ec225a"/>
<circle cx="179.76" cy="355.77" r="1.45" fill="#cd1680"/>
<circle cx="181.97" cy="353.77" r="1.45" fill="#ec225a"/>
<circle cx="184.62" cy="355.54" r="1.45" fill="#1e78c0"/>
<circle cx="135.4" cy="354.55" r="1.45" fill="#cd1680"/>
<circle cx="188.51" cy="350.37" r="1.45" fill="#1e78c0"/>
<circle cx="187.98" cy="352.78" r="1.45" fill="#ec225a"/>
<circle cx="115.26" cy="353.91" r="1.45" fill="#ec225a"/>
<circle cx="190.08" cy="354.6" r="1.45" fill="#1e78c0"/>
<circle cx="176.77" cy="356.55" r="1.45" fill="#1e78c0"/>
<circle cx="154.29" cy="354.74" r="1.45" fill="#cd1680"/>
<circle cx="187.44" cy="354.87" r="1.45" fill="#ec225a"/>
<circle cx="144.28" cy="355.77" r="1.45" fill="#1e78c0"/>
<circle cx="162.79" cy="354.5" r="1.45" fill="#1e78c0"/>
<circle cx="158.54" cy="353.92" r="1.45" fill="#cd1680"/>
<circle cx="144.97" cy="353.99" r="1.45" fill="#1e78c0"/>
<circle cx="148.02" cy="353.63" r="1.45" fill="#cd1680"/>
<circle cx="192.55" cy="352.96" r="1.45" fill="#ec225a"/>
<circle cx="196.15" cy="353.92" r="1.45" fill="#1e78c0"/>
<circle cx="171.03" cy="355.65" r="1.45" fill="#cd1680"/>
<circle cx="168.08" cy="352.91" r="1.45" fill="#ec225a"/>
<circle cx="190.81" cy="354.68" r="1.45" fill="#8a3aa0"/>
<circle cx="173.19" cy="352.07" r="1.45" fill="#1e78c0"/>
<circle cx="181.14" cy="354.78" r="1.45" fill="#cd1680"/>
<circle cx="121.77" cy="353.93" r="1.45" fill="#8a3aa0"/>
<circle cx="164.22" cy="358.39" r="1.45" fill="#1e78c0"/>
<circle cx="177.96" cy="352.72" r="1.45" fill="#1e78c0"/>
<circle cx="172.06" cy="352.72" r="1.45" fill="#cd1680"/>
<circle cx="171.87" cy="358.17" r="1.45" fill="#1e78c0"/>
<circle cx="152.56" cy="352.74" r="1.45" fill="#cd1680"/>
<circle cx="126.76" cy="353.96" r="1.45" fill="#1e78c0"/>
<circle cx="185.11" cy="354.74" r="1.45" fill="#ec225a"/>
<circle cx="159.21" cy="354.77" r="1.45" fill="#1e78c0"/>
<circle cx="180.56" cy="358.35" r="1.45" fill="#ec225a"/>
<circle cx="172.75" cy="355.74" r="1.45" fill="#1e78c0"/>
<circle cx="140.64" cy="351.98" r="1.45" fill="#1e78c0"/>
<circle cx="173.39" cy="354.61" r="1.45" fill="#1e78c0"/>
<circle cx="130.82" cy="353.78" r="1.45" fill="#ec225a"/>
<circle cx="196.49" cy="355.41" r="1.45" fill="#1e78c0"/>
<circle cx="160.83" cy="352.8" r="1.45" fill="#1e78c0"/>
<circle cx="169.53" cy="354.78" r="1.45" fill="#cd1680"/>
<circle cx="180.59" cy="354.74" r="1.45" fill="#1e78c0"/>
<circle cx="175.58" cy="349.14" r="1.45" fill="#ec225a"/>
<circle cx="192.91" cy="356.44" r="1.45" fill="#1e78c0"/>
<circle cx="141.63" cy="352" r="1.45" fill="#1e78c0"/>
<circle cx="152.66" cy="355.75" r="1.45" fill="#cd1680"/>
<circle cx="116.47" cy="353.81" r="1.45" fill="#1e78c0"/>
<circle cx="159.7" cy="356.35" r="1.45" fill="#ec225a"/>
<circle cx="161.19" cy="352.06" r="1.45" fill="#1e78c0"/>
<circle cx="178.16" cy="354.62" r="1.45" fill="#1e78c0"/>
<circle cx="160.62" cy="353.72" r="1.45" fill="#1e78c0"/>
<circle cx="181.42" cy="352.02" r="1.45" fill="#8a3aa0"/>
<circle cx="180.45" cy="356.63" r="1.45" fill="#1e78c0"/>
<circle cx="191.34" cy="352.73" r="1.45" fill="#cd1680"/>
<circle cx="172.78" cy="350.1" r="1.45" fill="#1e78c0"/>
<circle cx="140.11" cy="353.97" r="1.45" fill="#cd1680"/>
<circle cx="164.8" cy="350.95" r="1.45" fill="#cd1680"/>
<circle cx="182.27" cy="352.75" r="1.45" fill="#cd1680"/>
<circle cx="141.76" cy="354.84" r="1.45" fill="#1e78c0"/>
<circle cx="157.95" cy="354.88" r="1.45" fill="#cd1680"/>
<circle cx="179.94" cy="353.6" r="1.45" fill="#cd1680"/>
<circle cx="149.36" cy="352.91" r="1.45" fill="#ec225a"/>
<circle cx="172.31" cy="353.74" r="1.45" fill="#ec225a"/>
<circle cx="175.43" cy="351.01" r="1.45" fill="#cd1680"/>
<circle cx="118.89" cy="353.95" r="1.45" fill="#cd1680"/>
<circle cx="129.45" cy="353.86" r="1.45" fill="#8a3aa0"/>
<circle cx="176.36" cy="352.07" r="1.45" fill="#cd1680"/>
<circle cx="131.55" cy="353.1" r="1.45" fill="#ec225a"/>
<circle cx="150.96" cy="354.89" r="1.45" fill="#1e78c0"/>
<circle cx="162.98" cy="357.24" r="1.45" fill="#1e78c0"/>
<circle cx="134.56" cy="353.62" r="1.45" fill="#cd1680"/>
<circle cx="172.33" cy="356.68" r="1.45" fill="#ec225a"/>
<circle cx="162.64" cy="353.72" r="1.45" fill="#1e78c0"/>
<circle cx="143.26" cy="351.95" r="1.45" fill="#8a3aa0"/>
<circle cx="140.97" cy="352.76" r="1.45" fill="#ec225a"/>
<circle cx="165.48" cy="356.47" r="1.45" fill="#cd1680"/>
<circle cx="192.4" cy="355.52" r="1.45" fill="#ec225a"/>
<circle cx="148.8" cy="354.63" r="1.45" fill="#cd1680"/>
<circle cx="196.19" cy="351.92" r="1.45" fill="#1e78c0"/>
<circle cx="169.66" cy="350.25" r="1.45" fill="#1e78c0"/>
<circle cx="162.42" cy="351.21" r="1.45" fill="#1e78c0"/>
<circle cx="174.9" cy="352.98" r="1.45" fill="#1e78c0"/>
<circle cx="186.44" cy="354.65" r="1.45" fill="#1e78c0"/>
<circle cx="140.88" cy="355.59" r="1.45" fill="#cd1680"/>
<circle cx="184.98" cy="353.73" r="1.45" fill="#cd1680"/>
<circle cx="194.94" cy="354.85" r="1.45" fill="#8a3aa0"/>
<circle cx="172.48" cy="357.29" r="1.45" fill="#1e78c0"/>
<circle cx="193.28" cy="353.91" r="1.45" fill="#ec225a"/>
<circle cx="179.08" cy="353.89" r="1.45" fill="#cd1680"/>
<circle cx="174.96" cy="357.54" r="1.45" fill="#1e78c0"/>
<circle cx="167.54" cy="356.65" r="1.45" fill="#8a3aa0"/>
<circle cx="191.24" cy="353.66" r="1.45" fill="#1e78c0"/>
<circle cx="167.28" cy="351.06" r="1.45" fill="#ec225a"/>
<circle cx="143.62" cy="354.61" r="1.45" fill="#1e78c0"/>
<circle cx="193.04" cy="352.13" r="1.45" fill="#cd1680"/>
<circle cx="179.6" cy="351.18" r="1.45" fill="#1e78c0"/>
<circle cx="136.04" cy="352.74" r="1.45" fill="#ec225a"/>
<circle cx="173.63" cy="357.58" r="1.45" fill="#1e78c0"/>
<circle cx="164.57" cy="353.66" r="1.45" fill="#1e78c0"/>
<circle cx="136.96" cy="353.66" r="1.45" fill="#cd1680"/>
<circle cx="170.71" cy="352.86" r="1.45" fill="#1e78c0"/>
<circle cx="170.39" cy="356.59" r="1.45" fill="#1e78c0"/>
<circle cx="168.08" cy="357.34" r="1.45" fill="#ec225a"/>
<circle cx="177.42" cy="354.55" r="1.45" fill="#1e78c0"/>
<circle cx="189.74" cy="352.05" r="1.45" fill="#cd1680"/>
<circle cx="175.85" cy="355.45" r="1.45" fill="#ec225a"/>
<circle cx="170.18" cy="354.8" r="1.45" fill="#1e78c0"/>
<circle cx="169.2" cy="356.54" r="1.45" fill="#1e78c0"/>
<circle cx="150.26" cy="355.55" r="1.45" fill="#cd1680"/>
<circle cx="165.78" cy="354.57" r="1.45" fill="#1e78c0"/>
<circle cx="169.27" cy="349.1" r="1.45" fill="#1e78c0"/>
<circle cx="190.84" cy="355.69" r="1.45" fill="#1e78c0"/>
<circle cx="167.68" cy="354.66" r="1.45" fill="#1e78c0"/>
<circle cx="175.13" cy="350.16" r="1.45" fill="#1e78c0"/>
<circle cx="188.43" cy="357.53" r="1.45" fill="#cd1680"/>
<circle cx="173.72" cy="356.63" r="1.45" fill="#cd1680"/>
<circle cx="194.19" cy="353.78" r="1.45" fill="#8a3aa0"/>
<circle cx="148.29" cy="352.99" r="1.45" fill="#1e78c0"/>
<circle cx="139.96" cy="354.87" r="1.45" fill="#cd1680"/>
<circle cx="174.21" cy="352.84" r="1.45" fill="#1e78c0"/>
<circle cx="153.26" cy="352.01" r="1.45" fill="#cd1680"/>
<circle cx="183.13" cy="353.76" r="1.45" fill="#1e78c0"/>
<circle cx="184.96" cy="353" r="1.45" fill="#1e78c0"/>
<circle cx="150.4" cy="352.15" r="1.45" fill="#1e78c0"/>
<circle cx="142.13" cy="353.66" r="1.45" fill="#cd1680"/>
<circle cx="177.22" cy="351" r="1.45" fill="#cd1680"/>
<circle cx="168.92" cy="357.52" r="1.45" fill="#1e78c0"/>
<circle cx="148.93" cy="355.59" r="1.45" fill="#cd1680"/>
<circle cx="185.93" cy="351.8" r="1.45" fill="#8a3aa0"/>
<circle cx="146.96" cy="354.78" r="1.45" fill="#cd1680"/>
<circle cx="152.05" cy="353.98" r="1.45" fill="#ec225a"/>
<circle cx="141.76" cy="352.86" r="1.45" fill="#1e78c0"/>
<circle cx="154.27" cy="353.8" r="1.45" fill="#ec225a"/>
<circle cx="162.13" cy="356.65" r="1.45" fill="#ec225a"/>
<circle cx="164.16" cy="357.51" r="1.45" fill="#cd1680"/>
<circle cx="170.8" cy="353.81" r="1.45" fill="#8a3aa0"/>
<circle cx="152.65" cy="353.7" r="1.45" fill="#cd1680"/>
<circle cx="169.66" cy="352.16" r="1.45" fill="#ec225a"/>
<circle cx="175.2" cy="358.3" r="1.45" fill="#1e78c0"/>
<circle cx="181.9" cy="355.62" r="1.45" fill="#1e78c0"/>
<circle cx="176.77" cy="355.57" r="1.45" fill="#cd1680"/>
<circle cx="158.33" cy="353.04" r="1.45" fill="#1e78c0"/>
<circle cx="144.82" cy="351.21" r="1.45" fill="#cd1680"/>
<circle cx="188.15" cy="353.64" r="1.45" fill="#ec225a"/>
<circle cx="279.8" cy="353.8" r="1.3" fill="#1e78c0"/>
<polygon points="194.8,371.3 195.4,368.8 196.4,367 197.8,366.5 199.2,366.8 200.6,368.8 201.4,371.8 201.4,374.8 200.6,377.8 199.2,379.8 197.8,380.1 196.4,379.6 195.4,377.8 194.8,375.3" fill="#ec225a" stroke="#ec225a" stroke-width="0.8" stroke-linejoin="round"/>
<polygon points="197.8,366.5 199.2,366.8 200.6,368.8 201.4,371.8 201.4,374.8 200.6,377.8 199.2,379.8 197.8,380.1" fill="#cd1680" stroke="#cd1680" stroke-width="0.8" stroke-linejoin="round"/>
<circle cx="199.5" cy="368" r="0.8" fill="#1e78c0"/>
<circle cx="199.2" cy="373.5" r="0.8" fill="#1e78c0"/>
<circle cx="199.6" cy="376.5" r="0.8" fill="#1e78c0"/>
<rect x="193.5" y="391.5" width="7.8" height="3.4" rx="1.7" fill="#cd1680"/>
<circle cx="194.5" cy="393.2" r="1.2" fill="#ec225a"/>
<circle cx="197.5" cy="393.2" r="1.2" fill="#ec225a"/>
<circle cx="200.3" cy="393.2" r="1.2" fill="#ec225a"/>
<rect x="196.5" y="385.1" width="2.8" height="16.3" rx="1.4" fill="#1e78c0"/>
<rect x="196.5" y="389.8" width="2.8" height="2.6999999999999886" fill="#ec225a"/>
<rect x="196.5" y="392.5" width="2.8" height="1.5" fill="#cd1680"/>
<rect x="196.5" y="395.2" width="2.8" height="2.6000000000000227" fill="#cd1680"/>
<rect x="196.5" y="399.5" width="2.8" height="1.8999999999999773" fill="#cd1680"/>
<polygon points="195.3,411.5 196.2,408.7 197.6,405.5 199.2,408.2 200.9,411.5 200.9,413.9 199.2,417.2 197.6,419.9 196.2,416.7 195.3,413.9" fill="#cd1680" stroke="#cd1680" stroke-width="0.8" stroke-linejoin="round"/>
<polygon points="195.3,411.5 196.2,408.7 197.4,405.9 197.6,405.9 197.6,419.5 197.4,419.5 196.2,416.7 195.3,413.9" fill="#ec225a" stroke="#ec225a" stroke-width="0.8" stroke-linejoin="round"/>
<circle cx="198.2" cy="412.5" r="1.0" fill="#8a3aa0"/>
<rect x="196.4" y="424.7" width="3" height="16.6" rx="1.4" fill="#1e78c0"/>
<rect x="196.4" y="424.7" width="3" height="1.3000000000000114" rx="1" fill="#ec225a"/>
<rect x="196.4" y="434.8" width="3" height="2.0" rx="1" fill="#cd1680"/>
<rect x="196.4" y="437.8" width="3" height="3.5" rx="1" fill="#ec225a"/>
<rect x="352" y="327" width="333" height="1" fill="#686868"/>
<rect x="352" y="476" width="333" height="1" fill="#686868"/>
<rect x="352" y="327" width="1" height="150" fill="#888"/>
<rect x="684" y="327" width="1" height="150" fill="#909090"/>
<text x="359.7" y="343.8" font-family="Liberation Serif" font-weight="bold" font-size="17" fill="#1a0c0c">f</text>
<text x="400.8" y="356.5" font-family="Liberation Serif" font-size="8" fill="#333" text-anchor="end">U-TS(L,N,S)</text>
<line x1="415" y1="353.6" x2="642" y2="353.6" stroke="#e2e2e2" stroke-width="0.7" stroke-dasharray="0.8,1.2"/>
<text x="400.8" y="376.25" font-family="Liberation Serif" font-size="8" fill="#333" text-anchor="end">U-PE(L,N,S)</text>
<line x1="415" y1="373.35" x2="642" y2="373.35" stroke="#e2e2e2" stroke-width="0.7" stroke-dasharray="0.8,1.2"/>
<text x="400.8" y="396.0" font-family="Liberation Serif" font-size="8" fill="#333" text-anchor="end">U-IB(L,N,S)</text>
<line x1="415" y1="393.1" x2="642" y2="393.1" stroke="#e2e2e2" stroke-width="0.7" stroke-dasharray="0.8,1.2"/>
<text x="400.8" y="415.75" font-family="Liberation Serif" font-size="8" fill="#333" text-anchor="end">U-PS(L,N,S)</text>
<line x1="415" y1="412.85" x2="642" y2="412.85" stroke="#e2e2e2" stroke-width="0.7" stroke-dasharray="0.8,1.2"/>
<text x="400.8" y="435.5" font-family="Liberation Serif" font-size="8" fill="#333" text-anchor="end">U-OB(L,N,S)</text>
<line x1="415" y1="432.6" x2="642" y2="432.6" stroke="#e2e2e2" stroke-width="0.7" stroke-dasharray="0.8,1.2"/>
<rect x="512.65" y="334" width="1.7" height="118.5" fill="#c2c2c6"/>
<line x1="415" y1="452.5" x2="642.3" y2="452.5" stroke="#666" stroke-width="1"/>
<line x1="439.42" y1="452.5" x2="439.42" y2="454.7" stroke="#555" stroke-width="0.8"/>
<text x="439.42" y="460.8" font-family="Liberation Serif" font-size="7" fill="#333" text-anchor="middle">−0.04</text>
<line x1="476.46" y1="452.5" x2="476.46" y2="454.7" stroke="#555" stroke-width="0.8"/>
<text x="476.46" y="460.8" font-family="Liberation Serif" font-size="7" fill="#333" text-anchor="middle">−0.02</text>
<line x1="513.5" y1="452.5" x2="513.5" y2="454.7" stroke="#555" stroke-width="0.8"/>
<text x="513.5" y="460.8" font-family="Liberation Serif" font-size="7" fill="#333" text-anchor="middle">0.00</text>
<line x1="550.54" y1="452.5" x2="550.54" y2="454.7" stroke="#555" stroke-width="0.8"/>
<text x="550.54" y="460.8" font-family="Liberation Serif" font-size="7" fill="#333" text-anchor="middle">0.02</text>
<line x1="587.58" y1="452.5" x2="587.58" y2="454.7" stroke="#555" stroke-width="0.8"/>
<text x="587.58" y="460.8" font-family="Liberation Serif" font-size="7" fill="#333" text-anchor="middle">0.04</text>
<line x1="624.62" y1="452.5" x2="624.62" y2="454.7" stroke="#555" stroke-width="0.8"/>
<text x="624.62" y="460.8" font-family="Liberation Serif" font-size="7" fill="#333" text-anchor="middle">0.06</text>
<text x="528.6" y="470.9" font-family="Liberation Serif" font-size="8" fill="#333" text-anchor="middle">LIME value (impact on model output)</text>
<rect x="656.1" y="333.3" width="2" height="118.6" fill="url(#cb)"/>
<text x="660.3" y="336.8" font-family="Liberation Serif" font-size="7" fill="#333">High</text>
<text x="660.4" y="454.9" font-family="Liberation Serif" font-size="7" fill="#333">Low</text>
<text transform="translate(679.3,392.9) rotate(-90)" font-family="Liberation Serif" font-size="7.35" fill="#333" text-anchor="middle">Feature value</text>
<circle cx="425.1" cy="353.9" r="1.3" fill="#1e78c0"/>
<circle cx="430.2" cy="353.9" r="1.3" fill="#1e78c0"/>
<circle cx="433.1" cy="353.9" r="1.3" fill="#1e78c0"/>
<circle cx="497.4" cy="353.9" r="1.3" fill="#1e78c0"/>
<circle cx="506.9" cy="353.9" r="1.3" fill="#1e78c0"/>
<circle cx="530.9" cy="353.9" r="1.3" fill="#1e78c0"/>
<circle cx="542.6" cy="353.9" r="1.3" fill="#1e78c0"/>
<circle cx="555.2" cy="353.9" r="1.3" fill="#1e78c0"/>
<circle cx="622" cy="353.9" r="1.3" fill="#1e78c0"/>
<circle cx="628.6" cy="353.9" r="1.3" fill="#1e78c0"/>
<circle cx="631.8" cy="353.9" r="1.3" fill="#1e78c0"/>
<polygon points="436.87,353.8 437.07,353.14 437.27,352.91 437.47,352.76 437.67,352.67 437.87,352.62 438.07,352.6 438.27,352.62 438.47,352.67 438.67,352.76 438.87,352.71 439.06,352.64 439.26,352.6 439.46,352.6 439.66,352.64 439.86,352.66 440.06,352.61 440.26,352.6 440.46,352.62 440.66,352.61 440.86,352.6 441.06,352.62 441.26,352.68 441.46,352.69 441.66,352.63 441.86,352.6 442.06,352.61 442.26,352.65 442.46,352.69 442.66,352.63 442.86,352.6 443.06,352.61 443.26,352.65 443.46,352.67 443.66,352.62 443.86,352.6 444.06,352.62 444.26,352.65 444.46,352.61 444.66,352.6 444.86,352.63 445.06,352.61 445.26,352.6 445.46,352.63 445.66,352.69 445.86,352.66 446.06,352.61 446.26,352.6 446.46,352.62 446.66,352.68 446.86,352.63 447.06,352.6 447.26,352.61 447.46,352.63 447.66,352.56 447.86,352.54 448.06,352.54 448.26,352.58 448.46,352.66 448.66,352.61 448.86,352.55 449.06,352.52 449.26,352.53 449.46,352.57 449.66,352.62 449.86,352.6 450.06,352.62 450.26,352.55 450.46,352.47 450.66,352.43 450.86,352.42 451.06,352.45 451.26,352.35 451.46,352.22 451.66,352.14 451.86,352.1 452.06,352.1 452.26,352 452.46,351.93 452.66,351.89 452.86,351.89 453.06,351.93 453.26,352 453.46,351.97 453.66,351.93 453.86,351.92 454.06,351.85 454.26,351.78 454.46,351.74 454.66,351.74 454.86,351.67 455.06,351.59 455.26,351.56 455.46,351.55 455.66,351.58 455.86,351.54 456.06,351.52 456.26,351.48 456.46,351.3 456.66,351.19 456.86,351.12 457.06,351.09 457.26,351.1 457.46,351.13 457.66,351.19 457.86,351.08 458.06,351.02 458.25,350.87 458.45,350.76 458.65,350.71 458.85,350.68 459.05,350.69 459.25,350.74 459.45,350.71 459.65,350.66 459.85,350.64 460.05,350.65 460.25,350.57 460.45,350.45 460.65,350.38 460.85,350.35 461.05,350.35 461.25,350.38 461.45,350.45 461.65,350.54 461.85,350.49 462.05,350.4 462.25,350.28 462.45,350.21 462.65,350.18 462.85,350.18 463.05,350.22 463.25,350.28 463.45,350.29 463.65,350.32 463.85,350.27 464.05,350.17 464.25,350.1 464.45,350.07 464.65,350.08 464.85,350.06 465.05,350 465.25,349.97 465.45,349.82 465.65,349.7 465.85,349.63 466.05,349.59 466.25,349.59 466.45,349.62 466.65,349.6 466.85,349.48 467.05,349.4 467.25,349.37 467.45,349.36 467.65,349.39 467.85,349.46 468.05,349.56 468.25,349.38 468.45,349.14 468.65,348.99 468.85,348.9 469.05,348.84 469.25,348.83 469.45,348.84 469.65,348.43 469.85,348.16 470.05,347.99 470.25,347.89 470.45,347.83 470.65,347.8 470.85,347.81 471.05,347.85 471.25,347.75 471.45,347.63 471.65,347.56 471.85,347.52 472.05,347.52 472.25,347.55 472.45,347.62 472.65,347.74 472.85,347.91 473.05,348.21 473.25,348.58 473.45,348.68 473.65,348.75 473.85,348.76 474.05,348.81 474.25,348.9 474.45,349.03 474.65,349.24 474.85,349.32 475.05,349.45 475.25,349.65 475.45,349.51 475.65,349.43 475.85,349.38 476.05,349.37 476.25,349.39 476.45,349.45 476.65,349.54 476.85,349.7 477.05,349.71 477.24,349.67 477.44,349.67 477.64,349.71 477.84,349.78 478.04,349.89 478.24,349.93 478.44,349.98 478.64,349.86 478.84,349.78 479.04,349.73 479.24,349.72 479.44,349.74 479.64,349.8 479.84,349.89 480.04,350.05 480.24,350.24 480.44,350.28 480.64,350.36 480.84,350.49 481.04,350.56 481.24,350.6 481.44,350.68 481.64,350.8 481.84,350.99 482.04,351.14 482.24,351.23 482.44,351.38 482.64,351.58 482.84,351.56 483.04,351.58 483.24,351.64 483.44,351.73 483.64,351.79 483.84,351.8 484.04,351.84 484.24,351.92 484.44,351.88 484.64,351.87 484.84,351.9 485.04,351.96 485.24,352.07 485.44,352.17 485.64,352.22 485.84,352.13 486.04,352.04 486.24,351.99 486.44,351.97 486.64,351.98 486.84,352.03 487.04,352.11 487.24,352.09 487.44,352.11 487.64,352.17 487.84,352.27 488.04,352.42 488.24,352.48 488.44,352.57 488.64,352.51 488.84,352.45 489.04,352.43 489.24,352.43 489.44,352.41 489.64,352.35 489.84,352.34 490.04,352.35 490.24,352.4 490.44,352.5 490.64,352.53 490.84,352.48 491.04,352.47 491.24,352.49 491.44,352.54 491.64,352.6 491.84,352.64 492.04,352.69 492.24,352.63 492.44,352.6 492.64,352.61 492.84,352.65 493.04,352.73 493.24,352.67 493.44,352.62 493.64,352.6 493.84,352.62 494.04,352.67 494.24,352.76 494.44,352.91 494.64,353.14 494.84,353.8 494.84,354 494.64,354.66 494.44,354.89 494.24,355.04 494.04,355.13 493.84,355.18 493.64,355.2 493.44,355.18 493.24,355.13 493.04,355.12 492.84,355.2 492.64,355.25 492.44,355.26 492.24,355.23 492.04,355.17 491.84,355.15 491.64,355.21 491.44,355.31 491.24,355.37 491.04,355.39 490.84,355.37 490.64,355.33 490.44,355.24 490.24,355.24 490.04,355.29 489.84,355.31 489.64,355.29 489.44,355.3 489.24,355.34 489.04,355.35 488.84,355.33 488.64,355.29 488.44,355.45 488.24,355.54 488.04,355.6 487.84,355.62 487.64,355.61 487.44,355.67 487.24,355.69 487.04,355.68 486.84,355.77 486.64,355.82 486.44,355.84 486.24,355.82 486.04,355.77 485.84,355.76 485.64,355.85 485.44,355.9 485.24,355.92 485.04,355.91 484.84,355.86 484.64,355.77 484.44,355.74 484.24,355.7 484.04,355.75 483.84,355.8 483.64,355.97 483.44,356.12 483.24,356.21 483.04,356.27 482.84,356.29 482.64,356.27 482.44,356.38 482.24,356.53 482.04,356.62 481.84,356.81 481.64,357 481.44,357.13 481.24,357.2 481.04,357.24 480.84,357.24 480.64,357.34 480.44,357.42 480.24,357.62 480.04,357.87 479.84,358.03 479.64,358.12 479.44,358.18 479.24,358.2 479.04,358.19 478.84,358.14 478.64,358.19 478.44,358.29 478.24,358.35 478.04,358.47 477.84,358.59 477.64,358.66 477.44,358.69 477.24,358.69 477.05,358.66 476.85,358.59 476.65,358.47 476.45,358.29 476.25,358.1 476.05,358.12 475.85,358.11 475.65,358.06 475.45,357.97 475.25,357.94 475.05,357.98 474.85,358.23 474.65,358.69 474.45,358.91 474.25,359.05 474.05,359.14 473.85,359.18 473.65,359.2 473.45,359.18 473.25,359.24 473.05,359.42 472.85,359.72 472.65,359.9 472.45,360.01 472.25,360.08 472.05,360.11 471.85,360.11 471.65,360.07 471.45,360 471.25,359.88 471.05,359.69 470.85,359.44 470.65,359.45 470.45,359.42 470.25,359.36 470.05,359.34 469.85,359.34 469.65,359.31 469.45,359.24 469.25,359.12 469.05,358.94 468.85,358.72 468.65,358.83 468.45,358.89 468.25,358.92 468.05,358.91 467.85,358.87 467.65,358.79 467.45,358.72 467.25,358.71 467.05,358.68 466.85,358.6 466.65,358.48 466.45,358.35 466.25,358.38 466.05,358.38 465.85,358.34 465.65,358.26 465.45,358.14 465.25,357.95 465.05,357.91 464.85,357.85 464.65,357.74 464.45,357.72 464.25,357.69 464.05,357.63 463.85,357.65 463.65,357.72 463.45,357.76 463.25,357.76 463.05,357.78 462.85,357.81 462.65,357.81 462.45,357.78 462.25,357.74 462.05,357.76 461.85,357.74 461.65,357.7 461.45,357.61 461.25,357.47 461.05,357.46 460.85,357.46 460.65,357.43 460.45,357.35 460.25,357.24 460.05,357.05 459.85,356.96 459.65,356.94 459.45,357.01 459.25,357.09 459.05,357.14 458.85,357.15 458.65,357.12 458.45,357.06 458.25,356.96 458.06,356.81 457.86,356.57 457.66,356.46 457.46,356.51 457.26,356.55 457.06,356.56 456.86,356.52 456.66,356.46 456.46,356.35 456.26,356.3 456.06,356.32 455.86,356.3 455.66,356.24 455.46,356.14 455.26,356.13 455.06,356.21 454.86,356.28 454.66,356.31 454.46,356.31 454.26,356.27 454.06,356.19 453.86,356.09 453.66,356.08 453.46,356.04 453.26,355.96 453.06,355.83 452.86,355.81 452.66,355.81 452.46,355.77 452.26,355.7 452.06,355.66 451.86,355.65 451.66,355.61 451.46,355.53 451.26,355.41 451.06,355.47 450.86,355.5 450.66,355.49 450.46,355.45 450.26,355.37 450.06,355.28 449.86,355.3 449.66,355.28 449.46,355.23 449.26,355.19 449.06,355.2 448.86,355.17 448.66,355.11 448.46,355.14 448.26,355.21 448.06,355.25 447.86,355.26 447.66,355.23 447.46,355.2 447.26,355.24 447.06,355.25 446.86,355.22 446.66,355.15 446.46,355.18 446.26,355.2 446.06,355.19 445.86,355.14 445.66,355.13 445.46,355.2 445.26,355.22 445.06,355.21 444.86,355.17 444.66,355.2 444.46,355.19 444.26,355.15 444.06,355.18 443.86,355.2 443.66,355.18 443.46,355.13 443.26,355.15 443.06,355.19 442.86,355.2 442.66,355.17 442.46,355.11 442.26,355.15 442.06,355.19 441.86,355.2 441.66,355.17 441.46,355.11 441.26,355.12 441.06,355.18 440.86,355.2 440.66,355.19 440.46,355.18 440.26,355.2 440.06,355.19 439.86,355.14 439.66,355.16 439.46,355.2 439.26,355.2 439.06,355.16 438.87,355.09 438.67,355.04 438.47,355.13 438.27,355.18 438.07,355.2 437.87,355.18 437.67,355.13 437.47,355.04 437.27,354.89 437.07,354.66 436.87,354" fill="#1e78c0"/>
<rect x="512.3" y="345.8" width="2.5" height="15.8" rx="1.25" fill="#1e78c0"/>
<polygon points="562.84,353.9 563.04,353.14 563.24,352.91 563.44,352.76 563.64,352.67 563.84,352.62 564.04,352.6 564.24,352.62 564.43,352.67 564.63,352.76 564.83,352.67 565.03,352.62 565.23,352.6 565.43,352.62 565.63,352.67 565.83,352.76 566.03,352.73 566.23,352.65 566.43,352.6 566.63,352.6 566.83,352.62 567.03,352.59 567.23,352.55 567.43,352.54 567.63,352.57 567.83,352.63 568.03,352.73 568.23,352.77 568.43,352.64 568.63,352.55 568.83,352.51 569.02,352.5 569.22,352.53 569.42,352.59 569.62,352.61 569.82,352.6 570.02,352.62 570.22,352.67 570.42,352.77 570.62,352.68 570.82,352.62 571.02,352.6 571.22,352.61 571.42,352.66 571.62,352.74 571.82,352.86 572.02,352.73 572.22,352.65 572.42,352.61 572.62,352.6 572.82,352.63 573.02,352.52 573.22,352.39 573.42,352.3 573.61,352.26 573.81,352.24 574.01,352.27 574.21,352.32 574.41,352.42 574.61,352.49 574.81,352.38 575.01,352.3 575.21,352.27 575.41,352.27 575.61,352.3 575.81,352.29 576.01,352.17 576.21,352.11 576.41,352.07 576.61,352.08 576.81,352.09 577.01,351.94 577.21,351.84 577.41,351.78 577.61,351.76 577.81,351.78 578.01,351.82 578.2,351.91 578.4,352.04 578.6,352.08 578.8,352.04 579,351.89 579.2,351.8 579.4,351.74 579.6,351.72 579.8,351.73 580,351.78 580.2,351.87 580.4,351.87 580.6,351.84 580.8,351.84 581,351.88 581.2,351.96 581.4,351.84 581.6,351.74 581.8,351.68 582,351.66 582.2,351.67 582.4,351.71 582.6,351.62 582.79,351.48 582.99,351.39 583.19,351.34 583.39,351.33 583.59,351.35 583.79,351.4 583.99,351.39 584.19,351.31 584.39,351.26 584.59,351.25 584.79,351.28 584.99,351.33 585.19,351.43 585.39,351.59 585.59,351.66 585.79,351.67 585.99,351.68 586.19,351.47 586.39,351.34 586.59,351.26 586.79,351.22 586.99,351.21 587.19,351.23 587.38,351.29 587.58,351.39 587.78,351.27 587.98,351.14 588.18,351.07 588.38,351.03 588.58,351.02 588.78,351.05 588.98,351.12 589.18,351.23 589.38,351.37 589.58,351.36 589.78,351.38 589.98,351.44 590.18,351.3 590.38,351.14 590.58,351.05 590.78,350.99 590.98,350.97 591.18,350.98 591.38,351.03 591.58,351.12 591.78,351.25 591.97,351.27 592.17,351.25 592.37,351.26 592.57,351.3 592.77,351.35 592.97,351.37 593.17,351.42 593.37,351.51 593.57,351.55 593.77,351.39 593.97,351.28 594.17,351.22 594.37,351.19 594.57,351.2 594.77,351.24 594.97,351.24 595.17,351.14 595.37,351.08 595.57,351.06 595.77,351.07 595.97,351.11 596.17,351.18 596.37,351.11 596.57,351.08 596.76,351.08 596.96,351.12 597.16,351.19 597.36,351.31 597.56,351.24 597.76,351.19 597.96,351.16 598.16,351.17 598.36,351.22 598.56,351.24 598.76,351.15 598.96,351.11 599.16,351.09 599.36,351.12 599.56,351.17 599.76,351.27 599.96,351.19 600.16,351.11 600.36,351.07 600.56,351.06 600.76,351.08 600.96,351.14 601.16,351.24 601.35,351.4 601.55,351.5 601.75,351.59 601.95,351.72 602.15,351.8 602.35,351.69 602.55,351.62 602.75,351.59 602.95,351.59 603.15,351.63 603.35,351.71 603.55,351.67 603.75,351.58 603.95,351.53 604.15,351.52 604.35,351.54 604.55,351.59 604.75,351.6 604.95,351.51 605.15,351.47 605.35,351.45 605.55,351.47 605.75,351.53 605.94,351.48 606.14,351.38 606.34,351.32 606.54,351.29 606.74,351.3 606.94,351.34 607.14,351.42 607.34,351.41 607.54,351.39 607.74,351.39 607.94,351.44 608.14,351.52 608.34,351.64 608.54,351.84 608.74,351.87 608.94,351.8 609.14,351.66 609.34,351.57 609.54,351.52 609.74,351.51 609.94,351.53 610.14,351.58 610.34,351.68 610.53,351.74 610.73,351.69 610.93,351.68 611.13,351.7 611.33,351.76 611.53,351.85 611.73,352 611.93,352.24 612.13,352.13 612.33,352.05 612.53,352 612.73,351.99 612.93,352.02 613.13,352.07 613.33,352.17 613.53,352.31 613.73,352.27 613.93,352.26 614.13,352.28 614.33,352.34 614.53,352.32 614.73,352.24 614.93,352.2 615.12,352.2 615.32,352.23 615.52,352.29 615.72,352.4 615.92,352.42 616.12,352.4 616.32,352.42 616.52,352.47 616.72,352.56 616.92,352.63 617.12,352.58 617.32,352.56 617.52,352.58 617.72,352.63 617.92,352.73 618.12,352.87 618.32,353.1 618.52,353.9 618.52,353.9 618.32,354.7 618.12,354.93 617.92,355.08 617.72,355.17 617.52,355.22 617.32,355.24 617.12,355.22 616.92,355.17 616.72,355.25 616.52,355.34 616.32,355.39 616.12,355.4 615.92,355.38 615.72,355.38 615.52,355.49 615.32,355.56 615.12,355.59 614.93,355.59 614.73,355.55 614.53,355.47 614.33,355.56 614.13,355.62 613.93,355.65 613.73,355.64 613.53,355.67 613.33,355.82 613.13,355.92 612.93,355.98 612.73,356 612.53,355.99 612.33,355.95 612.13,355.86 611.93,355.73 611.73,355.64 611.53,355.79 611.33,355.89 611.13,355.95 610.93,355.96 610.73,355.95 610.53,356.04 610.34,356.19 610.14,356.28 609.94,356.34 609.74,356.36 609.54,356.34 609.34,356.39 609.14,356.44 608.94,356.45 608.74,356.44 608.54,356.39 608.34,356.29 608.14,356.16 607.94,356.23 607.74,356.28 607.54,356.28 607.34,356.26 607.14,356.2 606.94,356.12 606.74,356.16 606.54,356.17 606.34,356.14 606.14,356.08 605.94,355.98 605.75,356.08 605.55,356.14 605.35,356.16 605.15,356.15 604.95,356.38 604.75,356.53 604.55,356.62 604.35,356.67 604.15,356.69 603.95,356.68 603.75,356.63 603.55,356.54 603.35,356.57 603.15,356.64 602.95,356.68 602.75,356.68 602.55,356.65 602.35,356.58 602.15,356.47 601.95,356.43 601.75,356.56 601.55,356.65 601.35,356.69 601.16,356.7 600.96,356.68 600.76,356.62 600.56,356.51 600.36,356.43 600.16,356.38 599.96,356.45 599.76,356.6 599.56,356.7 599.36,356.76 599.16,356.78 598.96,356.77 598.76,356.72 598.56,356.64 598.36,356.65 598.16,356.69 597.96,356.7 597.76,356.68 597.56,356.62 597.36,356.52 597.16,356.46 596.96,356.53 596.76,356.57 596.57,356.57 596.37,356.54 596.17,356.51 595.97,356.6 595.77,356.64 595.57,356.65 595.37,356.62 595.17,356.64 594.97,356.77 594.77,356.85 594.57,356.89 594.37,356.89 594.17,356.87 593.97,356.81 593.77,356.7 593.57,356.54 593.37,356.41 593.17,356.5 592.97,356.56 592.77,356.58 592.57,356.56 592.37,356.51 592.17,356.53 591.97,356.5 591.78,356.44 591.58,356.54 591.38,356.63 591.18,356.67 590.98,356.69 590.78,356.67 590.58,356.61 590.38,356.51 590.18,356.36 589.98,356.28 589.78,356.34 589.58,356.37 589.38,356.36 589.18,356.31 588.98,356.33 588.78,356.39 588.58,356.42 588.38,356.42 588.18,356.38 587.98,356.3 587.78,356.18 587.58,356.34 587.38,356.44 587.19,356.5 586.99,356.52 586.79,356.51 586.59,356.47 586.39,356.39 586.19,356.26 585.99,356.29 585.79,356.32 585.59,356.33 585.39,356.3 585.19,356.34 584.99,356.44 584.79,356.5 584.59,356.53 584.39,356.52 584.19,356.47 583.99,356.4 583.79,356.49 583.59,356.55 583.39,356.57 583.19,356.55 582.99,356.5 582.79,356.42 582.6,356.28 582.4,356.06 582.2,356.01 582,356.02 581.8,356 581.6,355.97 581.4,356.16 581.2,356.28 581,356.36 580.8,356.4 580.6,356.4 580.4,356.37 580.2,356.31 580,356.31 579.8,356.36 579.6,356.37 579.4,356.35 579.2,356.29 579,356.2 578.8,356.05 578.6,356.11 578.4,356.15 578.2,356.16 578.01,356.13 577.81,356.06 577.61,355.96 577.41,355.79 577.21,355.56 577.01,355.46 576.81,355.54 576.61,355.57 576.41,355.57 576.21,355.54 576.01,355.47 575.81,355.47 575.61,355.54 575.41,355.57 575.21,355.57 575.01,355.53 574.81,355.46 574.61,355.34 574.41,355.34 574.21,355.44 574.01,355.5 573.81,355.52 573.61,355.51 573.42,355.46 573.22,355.38 573.02,355.24 572.82,355.17 572.62,355.2 572.42,355.19 572.22,355.15 572.02,355.07 571.82,355.1 571.62,355.23 571.42,355.31 571.22,355.35 571.02,355.36 570.82,355.34 570.62,355.28 570.42,355.18 570.22,355.13 570.02,355.18 569.82,355.2 569.62,355.19 569.42,355.14 569.22,355.18 569.02,355.2 568.83,355.19 568.63,355.15 568.43,355.06 568.23,354.93 568.03,355.01 567.83,355.11 567.63,355.17 567.43,355.2 567.23,355.19 567.03,355.15 566.83,355.17 566.63,355.2 566.43,355.19 566.23,355.15 566.03,355.07 565.83,355.04 565.63,355.13 565.43,355.18 565.23,355.2 565.03,355.18 564.83,355.13 564.63,355.04 564.43,355.13 564.24,355.18 564.04,355.2 563.84,355.18 563.64,355.13 563.44,355.04 563.24,354.89 563.04,354.66 562.84,353.9" fill="#1e78c0"/>
<polygon points="484.19,373.5 484.39,372.84 484.59,372.61 484.79,372.46 484.99,372.37 485.19,372.32 485.39,372.3 485.59,372.32 485.79,372.36 485.99,372.31 486.19,372.3 486.39,372.32 486.59,372.38 486.79,372.33 486.99,372.27 487.19,372.25 487.39,372.26 487.59,372.24 487.79,372.23 487.99,372.26 488.19,372.32 488.38,372.35 488.58,372.26 488.78,372.21 488.98,372.19 489.18,372.21 489.38,372.27 489.58,372.32 489.78,372.27 489.98,372.23 490.18,372.18 490.38,372.15 490.58,372.17 490.78,372.22 490.98,372.22 491.18,372.15 491.38,372.12 491.58,372.12 491.78,372.14 491.98,372.06 492.18,372.02 492.38,372.01 492.58,372.03 492.78,371.92 492.98,371.83 493.18,371.78 493.38,371.77 493.58,371.73 493.78,371.66 493.98,371.63 494.18,371.64 494.38,371.67 494.58,371.75 494.78,371.71 494.98,371.63 495.18,371.59 495.38,371.53 495.58,371.43 495.78,371.38 495.98,371.36 496.18,371.38 496.38,371.43 496.58,371.52 496.78,371.46 496.98,371.4 497.18,371.38 497.38,371.4 497.58,371.39 497.78,371.18 497.98,371.04 498.18,370.96 498.38,370.91 498.58,370.9 498.78,370.93 498.98,370.91 499.18,370.75 499.38,370.6 499.58,370.38 499.78,370.23 499.98,370.14 500.18,370.09 500.38,370.08 500.58,370.09 500.78,370.14 500.98,370.05 501.18,369.99 501.38,369.97 501.58,369.98 501.78,370.03 501.98,370.12 502.18,370.2 502.38,370.15 502.58,370.14 502.78,370.16 502.98,370.21 503.18,370.31 503.38,370.46 503.58,370.7 503.77,370.64 503.97,370.58 504.17,370.55 504.37,370.54 504.57,370.47 504.77,370.45 504.97,370.45 505.17,370.49 505.37,370.49 505.57,370.45 505.77,370.45 505.97,370.47 506.17,370.54 506.37,370.64 506.57,370.81 506.77,370.87 506.97,370.73 507.17,370.53 507.37,370.39 507.57,370.29 507.77,370.08 507.97,369.95 508.17,369.86 508.37,369.82 508.57,369.81 508.77,369.83 508.97,369.89 509.17,369.99 509.37,370.14 509.57,370.1 509.77,370.1 509.97,370.13 510.17,370.2 510.37,370.32 510.57,370.49 510.77,370.62 510.97,370.6 511.17,370.57 511.37,370.55 511.57,370.43 511.77,370.36 511.97,370.32 512.17,370.31 512.37,370.3 512.57,370.14 512.77,370.04 512.97,369.93 513.17,369.73 513.37,369.6 513.57,369.51 513.77,368.76 513.97,368.53 514.17,368.39 514.37,368.29 514.57,367.93 514.77,367.68 514.97,367.53 515.17,367.43 515.37,367.38 515.57,367.25 515.77,367.08 515.97,366.97 516.17,366.91 516.37,366.88 516.57,366.88 516.77,366.92 516.97,367 517.17,367.12 517.37,367.32 517.57,367.49 517.77,367.52 517.97,367.6 518.17,367.72 518.37,367.91 518.57,368.25 518.77,368.23 518.97,368.16 519.16,368.12 519.36,368.12 519.56,368.15 519.76,368.15 519.96,368.1 520.16,368.09 520.36,368.11 520.56,368.17 520.76,368.26 520.96,368.42 521.16,368.48 521.36,368.49 521.56,368.53 521.76,368.61 521.96,368.73 522.16,368.93 522.36,369.3 522.56,369.69 522.76,369.66 522.96,369.66 523.16,369.7 523.36,369.6 523.56,369.52 523.76,369.48 523.96,369.47 524.16,369.39 524.36,369.36 524.56,369.35 524.76,369.38 524.96,369.44 525.16,369.55 525.36,369.72 525.56,369.96 525.76,370.01 525.96,370.1 526.16,370.23 526.36,370.22 526.56,370.24 526.76,370.29 526.96,370.38 527.16,370.53 527.36,370.51 527.56,370.43 527.76,370.34 527.96,370.29 528.16,370.28 528.36,370.3 528.56,370.23 528.76,370.07 528.96,369.97 529.16,369.91 529.36,369.89 529.56,369.9 529.76,369.94 529.96,370.02 530.16,370.16 530.36,370.37 530.56,370.41 530.76,370.47 530.96,370.58 531.16,370.74 531.36,371.01 531.56,371.33 531.76,371.32 531.96,371.35 532.16,371.41 532.36,371.36 532.56,371.27 532.76,371.23 532.96,371.22 533.16,371.24 533.36,371.3 533.56,371.4 533.76,371.55 533.96,371.61 534.16,371.67 534.36,371.61 534.55,371.59 534.75,371.6 534.95,371.58 535.15,371.55 535.35,371.55 535.55,371.58 535.75,371.65 535.95,371.67 536.15,371.58 536.35,371.53 536.55,371.51 536.75,371.53 536.95,371.58 537.15,371.67 537.35,371.77 537.55,371.81 537.75,371.88 537.95,371.89 538.15,371.9 538.35,371.95 538.55,371.93 538.75,371.83 538.95,371.77 539.15,371.74 539.35,371.75 539.55,371.8 539.75,371.88 539.95,372.01 540.15,372.02 540.35,372.05 540.55,372.01 540.75,371.99 540.95,372.02 541.15,372.07 541.35,372.15 541.55,372.05 541.75,372 541.95,371.97 542.15,371.98 542.35,372.03 542.55,372.09 542.75,372.05 542.95,372.04 543.15,372.01 543.35,371.98 543.55,371.99 543.75,372.02 543.95,372.1 544.15,372.1 544.35,372.1 544.55,372.13 544.75,372.12 544.95,372.05 545.15,372.02 545.35,372.02 545.55,372.05 545.75,372.13 545.95,372.11 546.15,372.09 546.35,372.11 546.55,372.16 546.75,372.25 546.95,372.22 547.15,372.19 547.35,372.2 547.55,372.24 547.75,372.22 547.95,372.19 548.15,372.19 548.35,372.23 548.55,372.29 548.75,372.2 548.95,372.15 549.15,372.14 549.35,372.16 549.55,372.22 549.75,372.3 549.95,372.33 550.14,372.39 550.34,372.36 550.54,372.29 550.74,372.26 550.94,372.26 551.14,372.29 551.34,372.35 551.54,372.3 551.74,372.28 551.94,372.29 552.14,372.35 552.34,372.32 552.54,372.3 552.74,372.32 552.94,372.37 553.14,372.46 553.34,372.61 553.54,372.84 553.74,373.6 553.74,373.6 553.54,374.36 553.34,374.59 553.14,374.74 552.94,374.83 552.74,374.88 552.54,374.9 552.34,374.88 552.14,374.83 551.94,374.88 551.74,374.9 551.54,374.88 551.34,374.83 551.14,374.86 550.94,374.9 550.74,374.9 550.54,374.86 550.34,374.81 550.14,374.91 549.95,374.97 549.75,375 549.55,374.99 549.35,374.95 549.15,374.91 548.95,374.89 548.75,374.85 548.55,374.97 548.35,375.05 548.15,375.09 547.95,375.09 547.75,375.06 547.55,375.06 547.35,375.1 547.15,375.11 546.95,375.08 546.75,375.02 546.55,375.1 546.35,375.15 546.15,375.16 545.95,375.15 545.75,375.1 545.55,375.14 545.35,375.18 545.15,375.18 544.95,375.14 544.75,375.07 544.55,375.06 544.35,375.09 544.15,375.09 543.95,375.13 543.75,375.21 543.55,375.25 543.35,375.25 543.15,375.25 542.95,375.27 542.75,375.26 542.55,375.22 542.35,375.25 542.15,375.3 541.95,375.31 541.75,375.28 541.55,375.23 541.35,375.14 541.15,375.24 540.95,375.3 540.75,375.32 540.55,375.31 540.35,375.26 540.15,375.21 539.95,375.21 539.75,375.26 539.55,375.34 539.35,375.38 539.15,375.39 538.95,375.37 538.75,375.3 538.55,375.2 538.35,375.22 538.15,375.27 537.95,375.29 537.75,375.41 537.55,375.48 537.35,375.52 537.15,375.53 536.95,375.59 536.75,375.64 536.55,375.66 536.35,375.64 536.15,375.59 535.95,375.51 535.75,375.62 535.55,375.69 535.35,375.73 535.15,375.73 534.95,375.69 534.75,375.63 534.55,375.64 534.36,375.62 534.16,375.6 533.96,375.71 533.76,375.77 533.56,375.79 533.36,375.79 533.16,375.78 532.96,375.8 532.76,375.79 532.56,375.74 532.36,375.68 532.16,375.79 531.96,375.85 531.76,375.87 531.56,375.86 531.36,376.19 531.16,376.46 530.96,376.62 530.76,376.72 530.56,376.78 530.36,376.84 530.16,377.05 529.96,377.18 529.76,377.27 529.56,377.31 529.36,377.32 529.16,377.3 528.96,377.24 528.76,377.14 528.56,376.98 528.36,376.72 528.16,376.73 527.96,376.72 527.76,376.67 527.56,376.58 527.36,376.44 527.16,376.58 526.96,376.72 526.76,376.81 526.56,376.87 526.36,376.89 526.16,377.07 525.96,377.21 525.76,377.3 525.56,377.63 525.36,377.92 525.16,378.08 524.96,378.19 524.76,378.26 524.56,378.29 524.36,378.28 524.16,378.24 523.96,378.17 523.76,378.04 523.56,377.85 523.36,377.5 523.16,377.28 522.96,377.21 522.76,377.36 522.56,377.45 522.36,377.86 522.16,378.23 521.96,378.43 521.76,378.56 521.56,378.64 521.36,378.68 521.16,378.69 520.96,378.69 520.76,378.84 520.56,378.94 520.36,379 520.16,379.02 519.96,379.01 519.76,379.02 519.56,379.09 519.36,379.12 519.16,379.12 518.97,379.08 518.77,379.01 518.57,378.88 518.37,378.87 518.17,379.05 517.97,379.18 517.77,379.25 517.57,379.29 517.37,379.63 517.17,379.82 516.97,379.95 516.77,380.02 516.57,380.06 516.37,380.07 516.17,380.04 515.97,379.97 515.77,379.87 515.57,379.7 515.37,379.41 515.17,378.77 514.97,378.67 514.77,378.54 514.57,378.52 514.37,378.47 514.17,378.37 513.97,378.25 513.77,378.24 513.57,378.19 513.37,378.11 513.17,377.98 512.97,377.78 512.77,377.41 512.57,377.31 512.37,377.22 512.17,377.25 511.97,377.25 511.77,377.21 511.57,377.14 511.37,377.01 511.17,376.98 510.97,376.95 510.77,376.88 510.57,376.86 510.37,377.04 510.17,377.15 509.97,377.22 509.77,377.26 509.57,377.25 509.37,377.22 509.17,377.19 508.97,377.29 508.77,377.35 508.57,377.38 508.37,377.36 508.17,377.32 507.97,377.24 507.77,377.1 507.57,376.89 507.37,376.65 507.17,376.52 506.97,376.59 506.77,376.62 506.57,376.63 506.37,376.59 506.17,376.55 505.97,376.62 505.77,376.64 505.57,376.64 505.37,376.6 505.17,376.52 504.97,376.4 504.77,376.41 504.57,376.38 504.37,376.4 504.17,376.41 503.97,376.39 503.77,376.33 503.58,376.49 503.38,376.73 503.18,376.88 502.98,376.98 502.78,377.03 502.58,377.05 502.38,377.21 502.18,377.42 501.98,377.56 501.78,377.65 501.58,377.7 501.38,377.71 501.18,377.69 500.98,377.63 500.78,377.54 500.58,377.39 500.38,377.36 500.18,377.35 499.98,377.3 499.78,377.21 499.58,377.06 499.38,376.84 499.18,376.29 498.98,376.05 498.78,376 498.58,376.02 498.38,376.01 498.18,375.97 497.98,375.88 497.78,375.75 497.58,375.64 497.38,375.6 497.18,375.6 496.98,375.58 496.78,375.64 496.58,375.79 496.38,375.88 496.18,375.93 495.98,375.94 495.78,375.93 495.58,375.87 495.38,375.89 495.18,375.88 494.98,375.85 494.78,375.77 494.58,375.65 494.38,375.63 494.18,375.66 493.98,375.67 493.78,375.64 493.58,375.57 493.38,375.46 493.18,375.38 492.98,375.32 492.78,375.23 492.58,375.09 492.38,375.07 492.18,375.06 491.98,375.02 491.78,374.97 491.58,375.01 491.38,375.01 491.18,374.98 490.98,374.91 490.78,374.92 490.58,374.97 490.38,374.98 490.18,374.96 489.98,374.96 489.78,374.95 489.58,374.91 489.38,374.87 489.18,374.92 488.98,374.94 488.78,374.93 488.58,374.88 488.38,374.79 488.19,374.82 487.99,374.88 487.79,374.91 487.59,374.9 487.39,374.89 487.19,374.9 486.99,374.88 486.79,374.82 486.59,374.82 486.39,374.88 486.19,374.9 485.99,374.89 485.79,374.84 485.59,374.88 485.39,374.9 485.19,374.88 484.99,374.83 484.79,374.74 484.59,374.59 484.39,374.36 484.19,373.7" fill="#1e78c0"/>
<polygon points="497.6,392 500.5,391.7 501.8,390.3 503,387.8 504.8,386.1 506.5,386.8 508,388.3 509.5,390.3 510.5,392.4 510.5,393.8 509.5,395.9 508,397.9 506.5,399.4 504.8,400.1 503,398.4 501.8,395.9 500.5,394.5 497.6,394.2" fill="#ec225a" stroke="#ec225a" stroke-width="0.8" stroke-linejoin="round"/>
<polygon points="518.3,392.3 519.3,389.1 520.5,386.7 522.3,386 524.3,386.4 525.8,389.1 526.9,392.3 526.9,393.9 525.8,397.1 524.3,399.8 522.3,400.2 520.5,399.5 519.3,397.1 518.3,393.9" fill="#1e78c0" stroke="#1e78c0" stroke-width="0.8" stroke-linejoin="round"/>
<circle cx="474.4" cy="412.8" r="1.3" fill="#1e78c0"/>
<circle cx="543.4" cy="412.8" r="1.3" fill="#1e78c0"/>
<polygon points="480.91,412.67 481.11,412.01 481.31,411.77 481.51,411.63 481.71,411.54 481.91,411.49 482.11,411.47 482.31,411.49 482.51,411.54 482.71,411.53 482.91,411.43 483.11,411.37 483.31,411.35 483.51,411.36 483.71,411.4 483.91,411.49 484.11,411.51 484.31,411.42 484.51,411.38 484.71,411.37 484.91,411.39 485.11,411.44 485.31,411.54 485.51,411.45 485.71,411.41 485.91,411.39 486.11,411.41 486.31,411.47 486.51,411.57 486.71,411.42 486.91,411.31 487.11,411.24 487.31,411.2 487.51,411.21 487.71,411.24 487.91,411.31 488.11,411.43 488.31,411.46 488.51,411.44 488.71,411.39 488.91,411.25 489.11,411.16 489.31,411.11 489.51,411.09 489.71,411.11 489.91,411.17 490.11,411.26 490.31,411.14 490.51,411.07 490.71,411.03 490.91,411.03 491.11,411.06 491.31,411.13 491.51,411.18 491.71,411.13 491.91,411.11 492.11,411.13 492.31,411.18 492.51,411.28 492.71,411.42 492.91,411.42 493.11,411.36 493.31,411.35 493.51,411.36 493.71,411.41 493.91,411.36 494.11,411.28 494.31,411.23 494.51,411.22 494.71,411.25 494.91,411.08 495.11,410.95 495.31,410.87 495.51,410.83 495.71,410.82 495.91,410.85 496.11,410.91 496.31,411.01 496.51,411.18 496.71,411.23 496.91,411.01 497.11,410.87 497.31,410.78 497.51,410.73 497.71,410.72 497.91,410.74 498.11,410.79 498.31,410.89 498.51,410.84 498.71,410.77 498.91,410.73 499.11,410.73 499.31,410.77 499.51,410.79 499.71,410.72 499.91,410.68 500.11,410.69 500.31,410.72 500.51,410.79 500.71,410.89 500.91,410.78 501.11,410.71 501.31,410.69 501.51,410.69 501.71,410.73 501.91,410.81 502.11,410.94 502.31,411.1 502.51,410.99 502.71,410.91 502.91,410.88 503.11,410.88 503.31,410.91 503.51,410.98 503.71,411.01 503.91,411.01 504.11,410.83 504.31,410.72 504.51,410.65 504.71,410.62 504.91,410.62 505.11,410.66 505.31,410.74 505.51,410.86 505.71,411.04 505.91,411.08 506.11,411.06 506.31,411.08 506.51,411.14 506.71,411.16 506.91,411.08 507.11,411.03 507.31,411.02 507.51,411.05 507.71,411.11 507.91,411.21 508.11,411.32 508.31,411.24 508.51,411.2 508.71,411.19 508.91,411.22 509.11,411.28 509.31,411.35 509.51,411.25 509.71,411.19 509.91,411.17 510.11,411.18 510.31,411.22 510.51,411.15 510.71,411.1 510.91,411.09 511.11,411.11 511.31,411.16 511.51,411.26 511.71,411.41 511.91,411.33 512.11,411.28 512.31,411.26 512.51,411.28 512.71,411.33 512.91,411.43 513.11,411.5 513.31,411.51 513.51,411.55 513.71,411.59 513.91,411.46 514.11,411.37 514.31,411.33 514.51,411.32 514.71,411.34 514.91,411.4 515.11,411.5 515.31,411.58 515.51,411.52 515.71,411.5 515.9,411.51 516.1,411.56 516.3,411.59 516.5,411.43 516.7,411.33 516.9,411.28 517.1,411.26 517.3,411.27 517.5,411.31 517.7,411.4 517.9,411.49 518.1,411.39 518.3,411.32 518.5,411.29 518.7,411.3 518.9,411.34 519.1,411.41 519.3,411.54 519.5,411.51 519.7,411.5 519.9,411.42 520.1,411.34 520.3,411.31 520.5,411.3 520.7,411.34 520.9,411.41 521.1,411.52 521.3,411.55 521.5,411.51 521.7,411.5 521.9,411.53 522.1,411.59 522.3,411.7 522.5,411.72 522.7,411.61 522.9,411.54 523.1,411.5 523.3,411.5 523.5,411.54 523.7,411.61 523.9,411.48 524.1,411.39 524.3,411.33 524.5,411.31 524.7,411.33 524.9,411.38 525.1,411.34 525.3,411.32 525.5,411.34 525.7,411.38 525.9,411.41 526.1,411.35 526.3,411.34 526.5,411.35 526.7,411.4 526.9,411.49 527.1,411.63 527.3,411.58 527.5,411.52 527.7,411.5 527.9,411.51 528.1,411.56 528.3,411.65 528.5,411.78 528.7,411.66 528.9,411.55 529.1,411.49 529.3,411.46 529.5,411.47 529.7,411.51 529.9,411.54 530.1,411.51 530.3,411.5 530.5,411.54 530.7,411.6 530.9,411.55 531.1,411.51 531.3,411.5 531.5,411.53 531.7,411.59 531.9,411.56 532.1,411.51 532.3,411.5 532.5,411.52 532.7,411.57 532.9,411.67 533.1,411.82 533.3,411.68 533.5,411.58 533.7,411.52 533.9,411.5 534.1,411.51 534.3,411.56 534.5,411.59 534.7,411.5 534.9,411.44 535.1,411.43 535.3,411.44 535.5,411.5 535.7,411.59 535.9,411.73 536.1,411.96 536.3,412.8 536.3,412.8 536.1,413.56 535.9,413.79 535.7,413.94 535.5,414.03 535.3,414.08 535.1,414.1 534.9,414.08 534.7,414.03 534.5,413.96 534.3,414.04 534.1,414.09 533.9,414.1 533.7,414.08 533.5,414.02 533.3,413.92 533.1,413.83 532.9,413.98 532.7,414.08 532.5,414.13 532.3,414.15 532.1,414.14 531.9,414.09 531.7,414.01 531.5,414.07 531.3,414.1 531.1,414.09 530.9,414.05 530.7,414 530.5,414.06 530.3,414.1 530.1,414.09 529.9,414.06 529.7,414.05 529.5,414.09 529.3,414.1 529.1,414.07 528.9,414.01 528.7,413.9 528.5,413.98 528.3,414.11 528.1,414.2 527.9,414.25 527.7,414.26 527.5,414.24 527.3,414.18 527.1,414.08 526.9,413.95 526.7,414.04 526.5,414.09 526.3,414.1 526.1,414.08 525.9,414.03 525.7,414.05 525.5,414.1 525.3,414.11 525.1,414.14 524.9,414.23 524.7,414.28 524.5,414.29 524.3,414.27 524.1,414.22 523.9,414.13 523.7,413.99 523.5,414.06 523.3,414.1 523.1,414.1 522.9,414.06 522.7,413.99 522.5,413.88 522.3,413.9 522.1,414.01 521.9,414.07 521.7,414.1 521.5,414.09 521.3,414.05 521.1,413.98 520.9,414.05 520.7,414.12 520.5,414.15 520.3,414.15 520.1,414.25 519.9,414.31 519.7,414.33 519.5,414.32 519.3,414.28 519.1,414.19 518.9,414.22 518.7,414.26 518.5,414.26 518.3,414.23 518.1,414.17 517.9,414.06 517.7,413.96 517.5,414.04 517.3,414.09 517.1,414.1 516.9,414.08 516.7,414.02 516.5,414.05 516.3,414.19 516.1,414.27 515.9,414.32 515.71,414.33 515.51,414.31 515.31,414.25 515.11,414.18 514.91,414.28 514.71,414.34 514.51,414.36 514.31,414.35 514.11,414.3 513.91,414.22 513.71,414.09 513.51,414.05 513.31,414.09 513.11,414.1 512.91,414.07 512.71,414.03 512.51,414.08 512.31,414.1 512.11,414.08 511.91,414.03 511.71,413.95 511.51,414.08 511.31,414.18 511.11,414.23 510.91,414.25 510.71,414.42 510.51,414.56 510.31,414.64 510.11,414.68 509.91,414.69 509.71,414.67 509.51,414.61 509.31,414.51 509.11,414.35 508.91,414.24 508.71,414.27 508.51,414.26 508.31,414.38 508.11,414.64 507.91,414.8 507.71,414.9 507.51,414.96 507.31,414.98 507.11,414.97 506.91,414.93 506.71,414.84 506.51,414.71 506.31,414.59 506.11,414.61 505.91,414.6 505.71,414.55 505.51,414.74 505.31,414.86 505.11,414.94 504.91,414.97 504.71,414.97 504.51,414.94 504.31,414.88 504.11,414.76 503.91,414.73 503.71,414.74 503.51,414.72 503.31,414.66 503.11,414.57 502.91,414.42 502.71,414.31 502.51,414.24 502.31,414.12 502.11,414.14 501.91,414.26 501.71,414.34 501.51,414.38 501.31,414.39 501.11,414.36 500.91,414.3 500.71,414.49 500.51,414.61 500.31,414.68 500.11,414.71 499.91,414.71 499.71,414.68 499.51,414.61 499.31,414.66 499.11,414.7 498.91,414.7 498.71,414.66 498.51,414.59 498.31,414.66 498.11,414.76 497.91,414.81 497.71,414.83 497.51,414.82 497.31,414.77 497.11,414.68 496.91,414.7 496.71,414.74 496.51,414.75 496.31,414.72 496.11,414.71 495.91,414.77 495.71,414.8 495.51,414.79 495.31,414.75 495.11,414.67 494.91,414.54 494.71,414.59 494.51,414.62 494.31,414.61 494.11,414.56 493.91,414.52 493.71,414.61 493.51,414.66 493.31,414.68 493.11,414.66 492.91,414.6 492.71,414.51 492.51,414.36 492.31,414.24 492.11,414.3 491.91,414.31 491.71,414.3 491.51,414.36 491.31,414.47 491.11,414.54 490.91,414.57 490.71,414.57 490.51,414.53 490.31,414.46 490.11,414.34 489.91,414.42 489.71,414.47 489.51,414.49 489.31,414.48 489.11,414.43 488.91,414.34 488.71,414.31 488.51,414.32 488.31,414.29 488.11,414.23 487.91,414.13 487.71,414.06 487.51,414.1 487.31,414.1 487.11,414.06 486.91,413.99 486.71,413.95 486.51,414.1 486.31,414.2 486.11,414.25 485.91,414.27 485.71,414.26 485.51,414.21 485.31,414.13 485.11,414.2 484.91,414.25 484.71,414.28 484.51,414.26 484.31,414.22 484.11,414.13 483.91,414.07 483.71,414.16 483.51,414.21 483.31,414.22 483.11,414.19 482.91,414.14 482.71,414.04 482.51,414.03 482.31,414.08 482.11,414.1 481.91,414.08 481.71,414.03 481.51,413.94 481.31,413.79 481.11,413.56 480.91,412.9" fill="#1e78c0"/>
<rect x="512.3" y="405.1" width="2.5" height="15.3" rx="1.25" fill="#1e78c0"/>
<rect x="488.2" y="430.9" width="25.6" height="3" rx="1.5" fill="#1e78c0"/>
<rect x="512.3" y="424.5" width="2.5" height="15.6" rx="1.25" fill="#1e78c0"/>
<rect x="518.2" y="430.9" width="12.4" height="3" rx="1.5" fill="#1e78c0"/>
</svg></body></html>
